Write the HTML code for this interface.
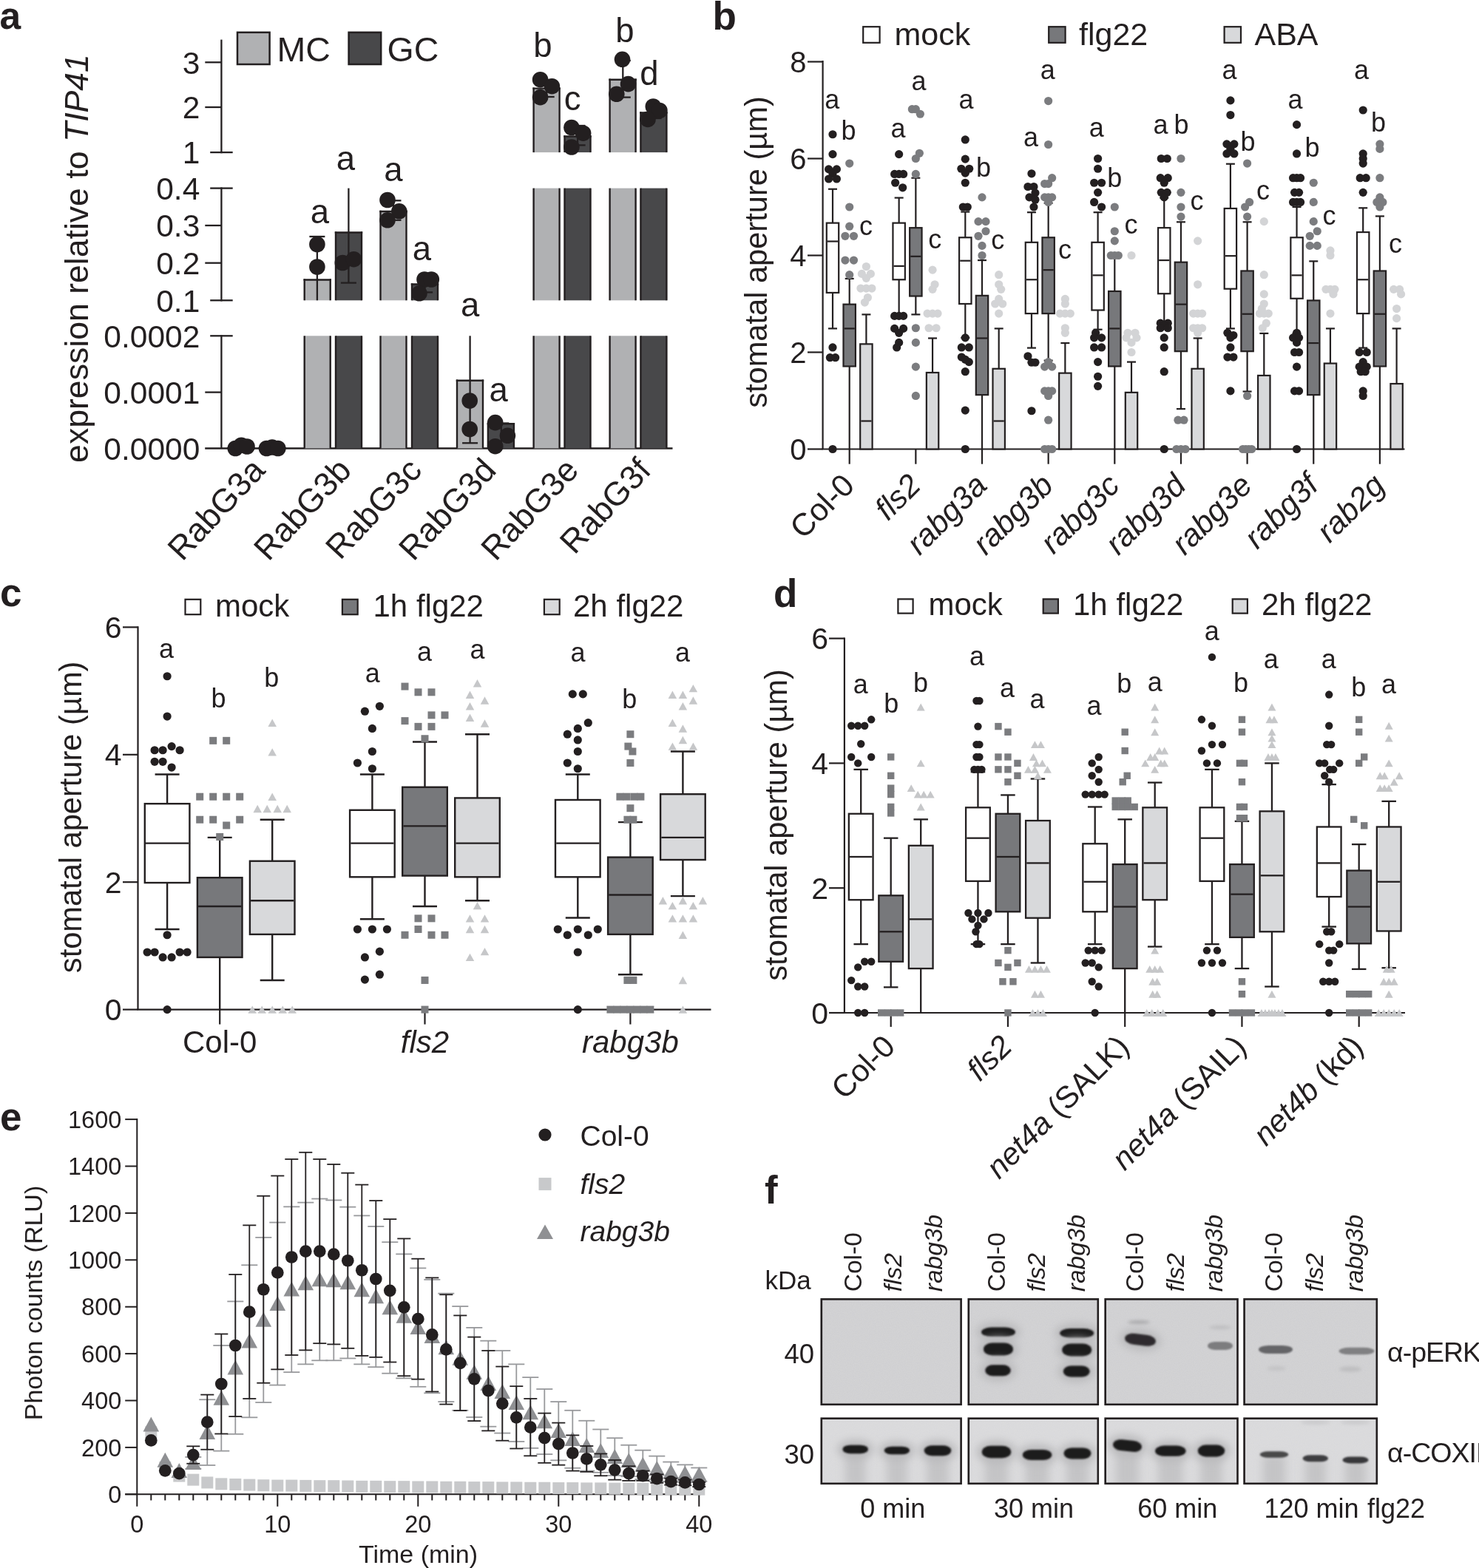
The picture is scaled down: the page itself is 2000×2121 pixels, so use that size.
<!DOCTYPE html>
<html><head><meta charset="utf-8"><title>Figure</title>
<style>
html,body{margin:0;padding:0;background:#fff;}
body{width:2000px;height:2121px;overflow:hidden;}
svg{display:block;}
svg text{font-family:"Liberation Sans", Arial, Helvetica, sans-serif;fill:#231f20;}
</style></head><body>
<svg width="2000" height="2121" viewBox="0 0 2000 2121">
<rect x="0" y="0" width="2000" height="2121" fill="#ffffff"/>
<text x="-0.5" y="39.3" font-size="51.5" font-weight="bold">a</text>
<line x1="299.4" y1="53.6" x2="299.4" y2="207.25" stroke="#231f20" stroke-width="2.3" stroke-linecap="butt"/>
<line x1="299.4" y1="253.45" x2="299.4" y2="407.45" stroke="#231f20" stroke-width="2.3" stroke-linecap="butt"/>
<line x1="299.4" y1="453.15" x2="299.4" y2="606.5" stroke="#231f20" stroke-width="2.3" stroke-linecap="butt"/>
<line x1="277.2" y1="606.5" x2="909.5" y2="606.5" stroke="#231f20" stroke-width="2.3" stroke-linecap="butt"/>
<line x1="277.3" y1="84.3" x2="299.4" y2="84.3" stroke="#231f20" stroke-width="2.3" stroke-linecap="butt"/>
<line x1="277.3" y1="145" x2="299.4" y2="145" stroke="#231f20" stroke-width="2.3" stroke-linecap="butt"/>
<line x1="277.3" y1="305" x2="299.4" y2="305" stroke="#231f20" stroke-width="2.3" stroke-linecap="butt"/>
<line x1="277.3" y1="355.7" x2="299.4" y2="355.7" stroke="#231f20" stroke-width="2.3" stroke-linecap="butt"/>
<line x1="277.3" y1="530.6" x2="299.4" y2="530.6" stroke="#231f20" stroke-width="2.3" stroke-linecap="butt"/>
<line x1="284.2" y1="206.1" x2="314.7" y2="206.1" stroke="#231f20" stroke-width="2.3" stroke-linecap="butt"/>
<line x1="284.2" y1="254.6" x2="314.7" y2="254.6" stroke="#231f20" stroke-width="2.3" stroke-linecap="butt"/>
<line x1="284.2" y1="406.3" x2="314.7" y2="406.3" stroke="#231f20" stroke-width="2.3" stroke-linecap="butt"/>
<line x1="284.2" y1="454.3" x2="314.7" y2="454.3" stroke="#231f20" stroke-width="2.3" stroke-linecap="butt"/>
<text x="270.3" y="99.5" font-size="42.5" text-anchor="end">3</text>
<text x="270.3" y="160.2" font-size="42.5" text-anchor="end">2</text>
<text x="270.3" y="221.3" font-size="42.5" text-anchor="end">1</text>
<text x="270.3" y="269.8" font-size="42.5" text-anchor="end">0.4</text>
<text x="270.3" y="320.2" font-size="42.5" text-anchor="end">0.3</text>
<text x="270.3" y="370.9" font-size="42.5" text-anchor="end">0.2</text>
<text x="270.3" y="421.5" font-size="42.5" text-anchor="end">0.1</text>
<text x="270.3" y="469.5" font-size="42.5" text-anchor="end">0.0002</text>
<text x="270.3" y="545.8" font-size="42.5" text-anchor="end">0.0001</text>
<text x="270.3" y="621.7" font-size="42.5" text-anchor="end">0.0000</text>
<text x="118.5" y="349.5" font-size="44.6" text-anchor="middle" transform="rotate(-90 118.5 349.5)">expression relative to <tspan font-style="italic">TIP41</tspan></text>
<rect x="308.4" y="606.2" width="35" height="0.3" fill="#b0b1b3" stroke="none" stroke-width="0" />
<line x1="308.4" y1="606.5" x2="308.4" y2="605" stroke="#231f20" stroke-width="2.4" stroke-linecap="butt"/>
<line x1="343.4" y1="606.5" x2="343.4" y2="605" stroke="#231f20" stroke-width="2.4" stroke-linecap="butt"/>
<line x1="307.2" y1="606.2" x2="344.6" y2="606.2" stroke="#231f20" stroke-width="2.4" stroke-linecap="butt"/>
<rect x="350.7" y="606.27" width="35" height="0.23" fill="#48484a" stroke="none" stroke-width="0" />
<line x1="350.7" y1="606.5" x2="350.7" y2="605.07" stroke="#231f20" stroke-width="2.4" stroke-linecap="butt"/>
<line x1="385.7" y1="606.5" x2="385.7" y2="605.07" stroke="#231f20" stroke-width="2.4" stroke-linecap="butt"/>
<line x1="349.5" y1="606.27" x2="386.9" y2="606.27" stroke="#231f20" stroke-width="2.4" stroke-linecap="butt"/>
<rect x="411.7" y="454.3" width="35" height="152.2" fill="#b0b1b3" stroke="none" stroke-width="0" />
<line x1="411.7" y1="606.5" x2="411.7" y2="454.3" stroke="#231f20" stroke-width="2.4" stroke-linecap="butt"/>
<line x1="446.7" y1="606.5" x2="446.7" y2="454.3" stroke="#231f20" stroke-width="2.4" stroke-linecap="butt"/>
<rect x="411.7" y="378.49" width="35" height="27.81" fill="#b0b1b3" stroke="none" stroke-width="0" />
<line x1="411.7" y1="406.3" x2="411.7" y2="377.29" stroke="#231f20" stroke-width="2.4" stroke-linecap="butt"/>
<line x1="446.7" y1="406.3" x2="446.7" y2="377.29" stroke="#231f20" stroke-width="2.4" stroke-linecap="butt"/>
<line x1="410.5" y1="378.49" x2="447.9" y2="378.49" stroke="#231f20" stroke-width="2.4" stroke-linecap="butt"/>
<rect x="454" y="454.3" width="35" height="152.2" fill="#48484a" stroke="none" stroke-width="0" />
<line x1="454" y1="606.5" x2="454" y2="454.3" stroke="#231f20" stroke-width="2.4" stroke-linecap="butt"/>
<line x1="489" y1="606.5" x2="489" y2="454.3" stroke="#231f20" stroke-width="2.4" stroke-linecap="butt"/>
<rect x="454" y="314.52" width="35" height="91.78" fill="#48484a" stroke="none" stroke-width="0" />
<line x1="454" y1="406.3" x2="454" y2="313.32" stroke="#231f20" stroke-width="2.4" stroke-linecap="butt"/>
<line x1="489" y1="406.3" x2="489" y2="313.32" stroke="#231f20" stroke-width="2.4" stroke-linecap="butt"/>
<line x1="452.8" y1="314.52" x2="490.2" y2="314.52" stroke="#231f20" stroke-width="2.4" stroke-linecap="butt"/>
<rect x="514.5" y="454.3" width="35" height="152.2" fill="#b0b1b3" stroke="none" stroke-width="0" />
<line x1="514.5" y1="606.5" x2="514.5" y2="454.3" stroke="#231f20" stroke-width="2.4" stroke-linecap="butt"/>
<line x1="549.5" y1="606.5" x2="549.5" y2="454.3" stroke="#231f20" stroke-width="2.4" stroke-linecap="butt"/>
<rect x="514.5" y="285.95" width="35" height="120.35" fill="#b0b1b3" stroke="none" stroke-width="0" />
<line x1="514.5" y1="406.3" x2="514.5" y2="284.75" stroke="#231f20" stroke-width="2.4" stroke-linecap="butt"/>
<line x1="549.5" y1="406.3" x2="549.5" y2="284.75" stroke="#231f20" stroke-width="2.4" stroke-linecap="butt"/>
<line x1="513.3" y1="285.95" x2="550.7" y2="285.95" stroke="#231f20" stroke-width="2.4" stroke-linecap="butt"/>
<rect x="557" y="454.3" width="35" height="152.2" fill="#48484a" stroke="none" stroke-width="0" />
<line x1="557" y1="606.5" x2="557" y2="454.3" stroke="#231f20" stroke-width="2.4" stroke-linecap="butt"/>
<line x1="592" y1="606.5" x2="592" y2="454.3" stroke="#231f20" stroke-width="2.4" stroke-linecap="butt"/>
<rect x="557" y="384.56" width="35" height="21.74" fill="#48484a" stroke="none" stroke-width="0" />
<line x1="557" y1="406.3" x2="557" y2="383.36" stroke="#231f20" stroke-width="2.4" stroke-linecap="butt"/>
<line x1="592" y1="406.3" x2="592" y2="383.36" stroke="#231f20" stroke-width="2.4" stroke-linecap="butt"/>
<line x1="555.8" y1="384.56" x2="593.2" y2="384.56" stroke="#231f20" stroke-width="2.4" stroke-linecap="butt"/>
<rect x="618" y="514.72" width="35" height="91.78" fill="#b0b1b3" stroke="none" stroke-width="0" />
<line x1="618" y1="606.5" x2="618" y2="513.52" stroke="#231f20" stroke-width="2.4" stroke-linecap="butt"/>
<line x1="653" y1="606.5" x2="653" y2="513.52" stroke="#231f20" stroke-width="2.4" stroke-linecap="butt"/>
<line x1="616.8" y1="514.72" x2="654.2" y2="514.72" stroke="#231f20" stroke-width="2.4" stroke-linecap="butt"/>
<rect x="659.9" y="573.32" width="35" height="33.18" fill="#48484a" stroke="none" stroke-width="0" />
<line x1="659.9" y1="606.5" x2="659.9" y2="572.12" stroke="#231f20" stroke-width="2.4" stroke-linecap="butt"/>
<line x1="694.9" y1="606.5" x2="694.9" y2="572.12" stroke="#231f20" stroke-width="2.4" stroke-linecap="butt"/>
<line x1="658.7" y1="573.32" x2="696.1" y2="573.32" stroke="#231f20" stroke-width="2.4" stroke-linecap="butt"/>
<rect x="721.6" y="454.3" width="35" height="152.2" fill="#b0b1b3" stroke="none" stroke-width="0" />
<line x1="721.6" y1="606.5" x2="721.6" y2="454.3" stroke="#231f20" stroke-width="2.4" stroke-linecap="butt"/>
<line x1="756.6" y1="606.5" x2="756.6" y2="454.3" stroke="#231f20" stroke-width="2.4" stroke-linecap="butt"/>
<rect x="721.6" y="254.6" width="35" height="151.7" fill="#b0b1b3" stroke="none" stroke-width="0" />
<line x1="721.6" y1="406.3" x2="721.6" y2="254.6" stroke="#231f20" stroke-width="2.4" stroke-linecap="butt"/>
<line x1="756.6" y1="406.3" x2="756.6" y2="254.6" stroke="#231f20" stroke-width="2.4" stroke-linecap="butt"/>
<rect x="721.6" y="119.6" width="35" height="86.5" fill="#b0b1b3" stroke="none" stroke-width="0" />
<line x1="721.6" y1="206.1" x2="721.6" y2="118.4" stroke="#231f20" stroke-width="2.4" stroke-linecap="butt"/>
<line x1="756.6" y1="206.1" x2="756.6" y2="118.4" stroke="#231f20" stroke-width="2.4" stroke-linecap="butt"/>
<line x1="720.4" y1="119.6" x2="757.8" y2="119.6" stroke="#231f20" stroke-width="2.4" stroke-linecap="butt"/>
<rect x="763.5" y="454.3" width="35" height="152.2" fill="#48484a" stroke="none" stroke-width="0" />
<line x1="763.5" y1="606.5" x2="763.5" y2="454.3" stroke="#231f20" stroke-width="2.4" stroke-linecap="butt"/>
<line x1="798.5" y1="606.5" x2="798.5" y2="454.3" stroke="#231f20" stroke-width="2.4" stroke-linecap="butt"/>
<rect x="763.5" y="254.6" width="35" height="151.7" fill="#48484a" stroke="none" stroke-width="0" />
<line x1="763.5" y1="406.3" x2="763.5" y2="254.6" stroke="#231f20" stroke-width="2.4" stroke-linecap="butt"/>
<line x1="798.5" y1="406.3" x2="798.5" y2="254.6" stroke="#231f20" stroke-width="2.4" stroke-linecap="butt"/>
<rect x="763.5" y="184.51" width="35" height="21.59" fill="#48484a" stroke="none" stroke-width="0" />
<line x1="763.5" y1="206.1" x2="763.5" y2="183.31" stroke="#231f20" stroke-width="2.4" stroke-linecap="butt"/>
<line x1="798.5" y1="206.1" x2="798.5" y2="183.31" stroke="#231f20" stroke-width="2.4" stroke-linecap="butt"/>
<line x1="762.3" y1="184.51" x2="799.7" y2="184.51" stroke="#231f20" stroke-width="2.4" stroke-linecap="butt"/>
<rect x="824.6" y="454.3" width="35" height="152.2" fill="#b0b1b3" stroke="none" stroke-width="0" />
<line x1="824.6" y1="606.5" x2="824.6" y2="454.3" stroke="#231f20" stroke-width="2.4" stroke-linecap="butt"/>
<line x1="859.6" y1="606.5" x2="859.6" y2="454.3" stroke="#231f20" stroke-width="2.4" stroke-linecap="butt"/>
<rect x="824.6" y="254.6" width="35" height="151.7" fill="#b0b1b3" stroke="none" stroke-width="0" />
<line x1="824.6" y1="406.3" x2="824.6" y2="254.6" stroke="#231f20" stroke-width="2.4" stroke-linecap="butt"/>
<line x1="859.6" y1="406.3" x2="859.6" y2="254.6" stroke="#231f20" stroke-width="2.4" stroke-linecap="butt"/>
<rect x="824.6" y="107.71" width="35" height="98.39" fill="#b0b1b3" stroke="none" stroke-width="0" />
<line x1="824.6" y1="206.1" x2="824.6" y2="106.51" stroke="#231f20" stroke-width="2.4" stroke-linecap="butt"/>
<line x1="859.6" y1="206.1" x2="859.6" y2="106.51" stroke="#231f20" stroke-width="2.4" stroke-linecap="butt"/>
<line x1="823.4" y1="107.71" x2="860.8" y2="107.71" stroke="#231f20" stroke-width="2.4" stroke-linecap="butt"/>
<rect x="866.4" y="454.3" width="35" height="152.2" fill="#48484a" stroke="none" stroke-width="0" />
<line x1="866.4" y1="606.5" x2="866.4" y2="454.3" stroke="#231f20" stroke-width="2.4" stroke-linecap="butt"/>
<line x1="901.4" y1="606.5" x2="901.4" y2="454.3" stroke="#231f20" stroke-width="2.4" stroke-linecap="butt"/>
<rect x="866.4" y="254.6" width="35" height="151.7" fill="#48484a" stroke="none" stroke-width="0" />
<line x1="866.4" y1="406.3" x2="866.4" y2="254.6" stroke="#231f20" stroke-width="2.4" stroke-linecap="butt"/>
<line x1="901.4" y1="406.3" x2="901.4" y2="254.6" stroke="#231f20" stroke-width="2.4" stroke-linecap="butt"/>
<rect x="866.4" y="152.48" width="35" height="53.62" fill="#48484a" stroke="none" stroke-width="0" />
<line x1="866.4" y1="206.1" x2="866.4" y2="151.28" stroke="#231f20" stroke-width="2.4" stroke-linecap="butt"/>
<line x1="901.4" y1="206.1" x2="901.4" y2="151.28" stroke="#231f20" stroke-width="2.4" stroke-linecap="butt"/>
<line x1="865.2" y1="152.48" x2="902.6" y2="152.48" stroke="#231f20" stroke-width="2.4" stroke-linecap="butt"/>
<line x1="428.9" y1="320" x2="428.9" y2="406.3" stroke="#231f20" stroke-width="2.3" stroke-linecap="butt"/>
<line x1="418.4" y1="320" x2="439.4" y2="320" stroke="#231f20" stroke-width="2.3" stroke-linecap="butt"/>
<line x1="471.4" y1="254.6" x2="471.4" y2="382.6" stroke="#231f20" stroke-width="2.3" stroke-linecap="butt"/>
<line x1="460.9" y1="382.6" x2="481.9" y2="382.6" stroke="#231f20" stroke-width="2.3" stroke-linecap="butt"/>
<line x1="532" y1="271.3" x2="532" y2="297.8" stroke="#231f20" stroke-width="2.3" stroke-linecap="butt"/>
<line x1="521.5" y1="271.3" x2="542.5" y2="271.3" stroke="#231f20" stroke-width="2.3" stroke-linecap="butt"/>
<line x1="521.5" y1="297.8" x2="542.5" y2="297.8" stroke="#231f20" stroke-width="2.3" stroke-linecap="butt"/>
<line x1="574.6" y1="378" x2="574.6" y2="395.4" stroke="#231f20" stroke-width="2.3" stroke-linecap="butt"/>
<line x1="564.1" y1="378" x2="585.1" y2="378" stroke="#231f20" stroke-width="2.3" stroke-linecap="butt"/>
<line x1="564.1" y1="395.4" x2="585.1" y2="395.4" stroke="#231f20" stroke-width="2.3" stroke-linecap="butt"/>
<line x1="635.6" y1="454.3" x2="635.6" y2="599.3" stroke="#231f20" stroke-width="2.3" stroke-linecap="butt"/>
<line x1="625.1" y1="599.3" x2="646.1" y2="599.3" stroke="#231f20" stroke-width="2.3" stroke-linecap="butt"/>
<line x1="677.8" y1="572.5" x2="677.8" y2="606.5" stroke="#231f20" stroke-width="2.3" stroke-linecap="butt"/>
<line x1="667.3" y1="572.5" x2="688.3" y2="572.5" stroke="#231f20" stroke-width="2.3" stroke-linecap="butt"/>
<line x1="739.2" y1="108" x2="739.2" y2="131" stroke="#231f20" stroke-width="2.3" stroke-linecap="butt"/>
<line x1="728.7" y1="108" x2="749.7" y2="108" stroke="#231f20" stroke-width="2.3" stroke-linecap="butt"/>
<line x1="728.7" y1="131" x2="749.7" y2="131" stroke="#231f20" stroke-width="2.3" stroke-linecap="butt"/>
<line x1="781.1" y1="170" x2="781.1" y2="196.4" stroke="#231f20" stroke-width="2.3" stroke-linecap="butt"/>
<line x1="770.6" y1="170" x2="791.6" y2="170" stroke="#231f20" stroke-width="2.3" stroke-linecap="butt"/>
<line x1="770.6" y1="196.4" x2="791.6" y2="196.4" stroke="#231f20" stroke-width="2.3" stroke-linecap="butt"/>
<line x1="842.3" y1="82" x2="842.3" y2="131.6" stroke="#231f20" stroke-width="2.3" stroke-linecap="butt"/>
<line x1="831.8" y1="82" x2="852.8" y2="82" stroke="#231f20" stroke-width="2.3" stroke-linecap="butt"/>
<line x1="831.8" y1="131.6" x2="852.8" y2="131.6" stroke="#231f20" stroke-width="2.3" stroke-linecap="butt"/>
<line x1="884" y1="145" x2="884" y2="160" stroke="#231f20" stroke-width="2.3" stroke-linecap="butt"/>
<line x1="873.5" y1="145" x2="894.5" y2="145" stroke="#231f20" stroke-width="2.3" stroke-linecap="butt"/>
<line x1="873.5" y1="160" x2="894.5" y2="160" stroke="#231f20" stroke-width="2.3" stroke-linecap="butt"/>
<circle cx="318.3" cy="606.5" r="10.8" fill="#231f20" />
<circle cx="326.3" cy="602.2" r="10.8" fill="#231f20" />
<circle cx="334" cy="604" r="10.8" fill="#231f20" />
<circle cx="360.5" cy="606.5" r="10.8" fill="#231f20" />
<circle cx="368" cy="605" r="10.8" fill="#231f20" />
<circle cx="375.8" cy="606.5" r="10.8" fill="#231f20" />
<circle cx="428.9" cy="330.5" r="10.8" fill="#231f20" />
<circle cx="428.9" cy="361" r="10.8" fill="#231f20" />
<circle cx="463.3" cy="355.5" r="10.8" fill="#231f20" />
<circle cx="478.4" cy="350.7" r="10.8" fill="#231f20" />
<circle cx="524" cy="270.5" r="10.8" fill="#231f20" />
<circle cx="539.8" cy="285.8" r="10.8" fill="#231f20" />
<circle cx="524" cy="297.8" r="10.8" fill="#231f20" />
<circle cx="574" cy="378" r="10.8" fill="#231f20" />
<circle cx="583.3" cy="378" r="10.8" fill="#231f20" />
<circle cx="567" cy="396.8" r="10.8" fill="#231f20" />
<circle cx="635.2" cy="542" r="10.8" fill="#231f20" />
<circle cx="635.2" cy="580.5" r="10.8" fill="#231f20" />
<circle cx="669.7" cy="571.6" r="10.8" fill="#231f20" />
<circle cx="686.4" cy="589.3" r="10.8" fill="#231f20" />
<circle cx="669.7" cy="603.7" r="10.8" fill="#231f20" />
<circle cx="730.6" cy="107.7" r="10.8" fill="#231f20" />
<circle cx="746.4" cy="116.7" r="10.8" fill="#231f20" />
<circle cx="730.6" cy="131.6" r="10.8" fill="#231f20" />
<circle cx="772.9" cy="172.5" r="10.8" fill="#231f20" />
<circle cx="788.6" cy="180.2" r="10.8" fill="#231f20" />
<circle cx="772.9" cy="199" r="10.8" fill="#231f20" />
<circle cx="841.5" cy="80.3" r="10.8" fill="#231f20" />
<circle cx="849.5" cy="113.6" r="10.8" fill="#231f20" />
<circle cx="833.8" cy="127.3" r="10.8" fill="#231f20" />
<circle cx="883.3" cy="144" r="10.8" fill="#231f20" />
<circle cx="891.9" cy="149.5" r="10.8" fill="#231f20" />
<circle cx="876" cy="161.4" r="10.8" fill="#231f20" />
<text x="432.3" y="302" font-size="45.5" text-anchor="middle">a</text>
<text x="467.3" y="229.5" font-size="45.5" text-anchor="middle">a</text>
<text x="532" y="244.5" font-size="45.5" text-anchor="middle">a</text>
<text x="570.5" y="351.5" font-size="45.5" text-anchor="middle">a</text>
<text x="635.6" y="428.2" font-size="45.5" text-anchor="middle">a</text>
<text x="674.2" y="543.4" font-size="45.5" text-anchor="middle">a</text>
<text x="734" y="77" font-size="45.5" text-anchor="middle">b</text>
<text x="774" y="148.6" font-size="45.5" text-anchor="middle">c</text>
<text x="845" y="57.3" font-size="45.5" text-anchor="middle">b</text>
<text x="878" y="114.8" font-size="45.5" text-anchor="middle">d</text>
<rect x="321" y="43.8" width="43.6" height="43.2" fill="#b0b1b3" stroke="#231f20" stroke-width="2.5" />
<rect x="471.6" y="43.8" width="43.6" height="43.2" fill="#48484a" stroke="#231f20" stroke-width="2.5" />
<text x="374.5" y="82.6" font-size="46.5">MC</text>
<text x="523.5" y="82.6" font-size="46.5">GC</text>
<text x="360.7" y="638" font-size="45" text-anchor="end" transform="rotate(-47 360.7 638)">RabG3a</text>
<text x="477.3" y="638" font-size="45" text-anchor="end" transform="rotate(-47 477.3 638)">RabG3b</text>
<text x="572.6" y="638" font-size="45" text-anchor="end" transform="rotate(-47 572.6 638)">RabG3c</text>
<text x="673.2" y="638" font-size="45" text-anchor="end" transform="rotate(-47 673.2 638)">RabG3d</text>
<text x="784.5" y="638" font-size="45" text-anchor="end" transform="rotate(-47 784.5 638)">RabG3e</text>
<text x="882.5" y="638" font-size="45" text-anchor="end" transform="rotate(-47 882.5 638)">RabG3f</text>
<text x="963.5" y="39.5" font-size="53" font-weight="bold">b</text>
<line x1="1112.6" y1="82.1" x2="1112.6" y2="607.5" stroke="#231f20" stroke-width="2.2" stroke-linecap="butt"/>
<line x1="1111.5" y1="607.5" x2="1899.5" y2="607.5" stroke="#231f20" stroke-width="2.2" stroke-linecap="butt"/>
<line x1="1092" y1="607.5" x2="1112.6" y2="607.5" stroke="#231f20" stroke-width="2.2" stroke-linecap="butt"/>
<text x="1090.5" y="621.9" font-size="40" text-anchor="end">0</text>
<line x1="1092" y1="476.5" x2="1112.6" y2="476.5" stroke="#231f20" stroke-width="2.2" stroke-linecap="butt"/>
<text x="1090.5" y="490.9" font-size="40" text-anchor="end">2</text>
<line x1="1092" y1="345.5" x2="1112.6" y2="345.5" stroke="#231f20" stroke-width="2.2" stroke-linecap="butt"/>
<text x="1090.5" y="359.9" font-size="40" text-anchor="end">4</text>
<line x1="1092" y1="214.5" x2="1112.6" y2="214.5" stroke="#231f20" stroke-width="2.2" stroke-linecap="butt"/>
<text x="1090.5" y="228.9" font-size="40" text-anchor="end">6</text>
<line x1="1092" y1="83.5" x2="1112.6" y2="83.5" stroke="#231f20" stroke-width="2.2" stroke-linecap="butt"/>
<text x="1090.5" y="97.9" font-size="40" text-anchor="end">8</text>
<line x1="1148.7" y1="607.5" x2="1148.7" y2="627.7" stroke="#231f20" stroke-width="2.2" stroke-linecap="butt"/>
<line x1="1238.35" y1="607.5" x2="1238.35" y2="627.7" stroke="#231f20" stroke-width="2.2" stroke-linecap="butt"/>
<line x1="1328" y1="607.5" x2="1328" y2="627.7" stroke="#231f20" stroke-width="2.2" stroke-linecap="butt"/>
<line x1="1417.65" y1="607.5" x2="1417.65" y2="627.7" stroke="#231f20" stroke-width="2.2" stroke-linecap="butt"/>
<line x1="1507.3" y1="607.5" x2="1507.3" y2="627.7" stroke="#231f20" stroke-width="2.2" stroke-linecap="butt"/>
<line x1="1596.95" y1="607.5" x2="1596.95" y2="627.7" stroke="#231f20" stroke-width="2.2" stroke-linecap="butt"/>
<line x1="1686.6" y1="607.5" x2="1686.6" y2="627.7" stroke="#231f20" stroke-width="2.2" stroke-linecap="butt"/>
<line x1="1776.25" y1="607.5" x2="1776.25" y2="627.7" stroke="#231f20" stroke-width="2.2" stroke-linecap="butt"/>
<line x1="1865.9" y1="607.5" x2="1865.9" y2="627.7" stroke="#231f20" stroke-width="2.2" stroke-linecap="butt"/>
<text x="1037" y="341" font-size="41.6" text-anchor="middle" transform="rotate(-90 1037 341)">stomatal aperture (µm)</text>
<rect x="1167.2" y="36.2" width="22.4" height="21.6" fill="#ffffff" stroke="#231f20" stroke-width="2.2" />
<rect x="1418.2" y="36.2" width="22.4" height="21.6" fill="#77787b" stroke="#231f20" stroke-width="2.2" />
<rect x="1655.6" y="36.2" width="22.4" height="21.6" fill="#d8d9db" stroke="#231f20" stroke-width="2.2" />
<text x="1209.5" y="60.5" font-size="43">mock</text>
<text x="1459" y="60.5" font-size="43">flg22</text>
<text x="1696.5" y="60.5" font-size="43">ABA</text>
<line x1="1126" y1="301.62" x2="1126" y2="255.76" stroke="#231f20" stroke-width="2.2" stroke-linecap="butt"/>
<line x1="1120" y1="255.76" x2="1132" y2="255.76" stroke="#231f20" stroke-width="2.2" stroke-linecap="butt"/>
<line x1="1126" y1="395.94" x2="1126" y2="444.4" stroke="#231f20" stroke-width="2.2" stroke-linecap="butt"/>
<line x1="1120" y1="444.4" x2="1132" y2="444.4" stroke="#231f20" stroke-width="2.2" stroke-linecap="butt"/>
<rect x="1117.8" y="301.62" width="16.4" height="94.32" fill="#ffffff" stroke="#231f20" stroke-width="2.2" />
<line x1="1118.9" y1="326.5" x2="1133.1" y2="326.5" stroke="#231f20" stroke-width="2.2" stroke-linecap="butt"/>
<line x1="1148.7" y1="411.65" x2="1148.7" y2="376.94" stroke="#231f20" stroke-width="2.2" stroke-linecap="butt"/>
<line x1="1142.7" y1="376.94" x2="1154.7" y2="376.94" stroke="#231f20" stroke-width="2.2" stroke-linecap="butt"/>
<line x1="1148.7" y1="495.5" x2="1148.7" y2="607.5" stroke="#231f20" stroke-width="2.2" stroke-linecap="butt"/>
<rect x="1140.5" y="411.65" width="16.4" height="83.84" fill="#77787b" stroke="#231f20" stroke-width="2.2" />
<line x1="1141.6" y1="444.4" x2="1155.8" y2="444.4" stroke="#231f20" stroke-width="2.2" stroke-linecap="butt"/>
<line x1="1171.4" y1="465.37" x2="1171.4" y2="425.41" stroke="#231f20" stroke-width="2.2" stroke-linecap="butt"/>
<line x1="1165.4" y1="425.41" x2="1177.4" y2="425.41" stroke="#231f20" stroke-width="2.2" stroke-linecap="butt"/>
<rect x="1163.2" y="465.37" width="16.4" height="142.13" fill="#d8d9db" stroke="#231f20" stroke-width="2.2" />
<line x1="1164.3" y1="569.51" x2="1178.5" y2="569.51" stroke="#231f20" stroke-width="2.2" stroke-linecap="butt"/>
<line x1="1215.65" y1="301.62" x2="1215.65" y2="267.55" stroke="#231f20" stroke-width="2.2" stroke-linecap="butt"/>
<line x1="1209.65" y1="267.55" x2="1221.65" y2="267.55" stroke="#231f20" stroke-width="2.2" stroke-linecap="butt"/>
<line x1="1215.65" y1="378.25" x2="1215.65" y2="425.41" stroke="#231f20" stroke-width="2.2" stroke-linecap="butt"/>
<line x1="1209.65" y1="425.41" x2="1221.65" y2="425.41" stroke="#231f20" stroke-width="2.2" stroke-linecap="butt"/>
<rect x="1207.45" y="301.62" width="16.4" height="76.63" fill="#ffffff" stroke="#231f20" stroke-width="2.2" />
<line x1="1208.55" y1="359.91" x2="1222.75" y2="359.91" stroke="#231f20" stroke-width="2.2" stroke-linecap="butt"/>
<line x1="1238.35" y1="308.16" x2="1238.35" y2="240.7" stroke="#231f20" stroke-width="2.2" stroke-linecap="butt"/>
<line x1="1232.35" y1="240.7" x2="1244.35" y2="240.7" stroke="#231f20" stroke-width="2.2" stroke-linecap="butt"/>
<line x1="1238.35" y1="400.52" x2="1238.35" y2="425.41" stroke="#231f20" stroke-width="2.2" stroke-linecap="butt"/>
<line x1="1232.35" y1="425.41" x2="1244.35" y2="425.41" stroke="#231f20" stroke-width="2.2" stroke-linecap="butt"/>
<rect x="1230.15" y="308.16" width="16.4" height="92.36" fill="#77787b" stroke="#231f20" stroke-width="2.2" />
<line x1="1231.25" y1="346.81" x2="1245.45" y2="346.81" stroke="#231f20" stroke-width="2.2" stroke-linecap="butt"/>
<line x1="1261.05" y1="504.01" x2="1261.05" y2="457.5" stroke="#231f20" stroke-width="2.2" stroke-linecap="butt"/>
<line x1="1255.05" y1="457.5" x2="1267.05" y2="457.5" stroke="#231f20" stroke-width="2.2" stroke-linecap="butt"/>
<rect x="1252.85" y="504.01" width="16.4" height="103.49" fill="#d8d9db" stroke="#231f20" stroke-width="2.2" />
<line x1="1305.3" y1="321.26" x2="1305.3" y2="286.55" stroke="#231f20" stroke-width="2.2" stroke-linecap="butt"/>
<line x1="1299.3" y1="286.55" x2="1311.3" y2="286.55" stroke="#231f20" stroke-width="2.2" stroke-linecap="butt"/>
<line x1="1305.3" y1="411" x2="1305.3" y2="456.85" stroke="#231f20" stroke-width="2.2" stroke-linecap="butt"/>
<line x1="1299.3" y1="456.85" x2="1311.3" y2="456.85" stroke="#231f20" stroke-width="2.2" stroke-linecap="butt"/>
<rect x="1297.1" y="321.26" width="16.4" height="89.74" fill="#ffffff" stroke="#231f20" stroke-width="2.2" />
<line x1="1298.2" y1="352.7" x2="1312.4" y2="352.7" stroke="#231f20" stroke-width="2.2" stroke-linecap="butt"/>
<line x1="1328" y1="399.87" x2="1328" y2="352.05" stroke="#231f20" stroke-width="2.2" stroke-linecap="butt"/>
<line x1="1322" y1="352.05" x2="1334" y2="352.05" stroke="#231f20" stroke-width="2.2" stroke-linecap="butt"/>
<line x1="1328" y1="534.14" x2="1328" y2="607.5" stroke="#231f20" stroke-width="2.2" stroke-linecap="butt"/>
<rect x="1319.8" y="399.87" width="16.4" height="134.27" fill="#77787b" stroke="#231f20" stroke-width="2.2" />
<line x1="1320.9" y1="457.5" x2="1335.1" y2="457.5" stroke="#231f20" stroke-width="2.2" stroke-linecap="butt"/>
<line x1="1350.7" y1="498.77" x2="1350.7" y2="444.4" stroke="#231f20" stroke-width="2.2" stroke-linecap="butt"/>
<line x1="1344.7" y1="444.4" x2="1356.7" y2="444.4" stroke="#231f20" stroke-width="2.2" stroke-linecap="butt"/>
<rect x="1342.5" y="498.77" width="16.4" height="108.73" fill="#d8d9db" stroke="#231f20" stroke-width="2.2" />
<line x1="1343.6" y1="569.51" x2="1357.8" y2="569.51" stroke="#231f20" stroke-width="2.2" stroke-linecap="butt"/>
<line x1="1394.95" y1="327.82" x2="1394.95" y2="287.21" stroke="#231f20" stroke-width="2.2" stroke-linecap="butt"/>
<line x1="1388.95" y1="287.21" x2="1400.95" y2="287.21" stroke="#231f20" stroke-width="2.2" stroke-linecap="butt"/>
<line x1="1394.95" y1="424.1" x2="1394.95" y2="470.61" stroke="#231f20" stroke-width="2.2" stroke-linecap="butt"/>
<line x1="1388.95" y1="470.61" x2="1400.95" y2="470.61" stroke="#231f20" stroke-width="2.2" stroke-linecap="butt"/>
<rect x="1386.75" y="327.82" width="16.4" height="96.28" fill="#ffffff" stroke="#231f20" stroke-width="2.2" />
<line x1="1387.85" y1="378.25" x2="1402.05" y2="378.25" stroke="#231f20" stroke-width="2.2" stroke-linecap="butt"/>
<line x1="1417.65" y1="321.26" x2="1417.65" y2="274.76" stroke="#231f20" stroke-width="2.2" stroke-linecap="butt"/>
<line x1="1411.65" y1="274.76" x2="1423.65" y2="274.76" stroke="#231f20" stroke-width="2.2" stroke-linecap="butt"/>
<line x1="1417.65" y1="424.1" x2="1417.65" y2="487.63" stroke="#231f20" stroke-width="2.2" stroke-linecap="butt"/>
<line x1="1411.65" y1="487.63" x2="1423.65" y2="487.63" stroke="#231f20" stroke-width="2.2" stroke-linecap="butt"/>
<rect x="1409.45" y="321.26" width="16.4" height="102.84" fill="#77787b" stroke="#231f20" stroke-width="2.2" />
<line x1="1410.55" y1="365.15" x2="1424.75" y2="365.15" stroke="#231f20" stroke-width="2.2" stroke-linecap="butt"/>
<line x1="1440.35" y1="504.66" x2="1440.35" y2="464.06" stroke="#231f20" stroke-width="2.2" stroke-linecap="butt"/>
<line x1="1434.35" y1="464.06" x2="1446.35" y2="464.06" stroke="#231f20" stroke-width="2.2" stroke-linecap="butt"/>
<rect x="1432.15" y="504.66" width="16.4" height="102.84" fill="#d8d9db" stroke="#231f20" stroke-width="2.2" />
<line x1="1484.6" y1="327.82" x2="1484.6" y2="287.21" stroke="#231f20" stroke-width="2.2" stroke-linecap="butt"/>
<line x1="1478.6" y1="287.21" x2="1490.6" y2="287.21" stroke="#231f20" stroke-width="2.2" stroke-linecap="butt"/>
<line x1="1484.6" y1="419.51" x2="1484.6" y2="445.71" stroke="#231f20" stroke-width="2.2" stroke-linecap="butt"/>
<line x1="1478.6" y1="445.71" x2="1490.6" y2="445.71" stroke="#231f20" stroke-width="2.2" stroke-linecap="butt"/>
<rect x="1476.4" y="327.82" width="16.4" height="91.7" fill="#ffffff" stroke="#231f20" stroke-width="2.2" />
<line x1="1477.5" y1="372.36" x2="1491.7" y2="372.36" stroke="#231f20" stroke-width="2.2" stroke-linecap="butt"/>
<line x1="1507.3" y1="393.97" x2="1507.3" y2="346.15" stroke="#231f20" stroke-width="2.2" stroke-linecap="butt"/>
<line x1="1501.3" y1="346.15" x2="1513.3" y2="346.15" stroke="#231f20" stroke-width="2.2" stroke-linecap="butt"/>
<line x1="1507.3" y1="495.5" x2="1507.3" y2="607.5" stroke="#231f20" stroke-width="2.2" stroke-linecap="butt"/>
<rect x="1499.1" y="393.97" width="16.4" height="101.52" fill="#77787b" stroke="#231f20" stroke-width="2.2" />
<line x1="1500.2" y1="444.4" x2="1514.4" y2="444.4" stroke="#231f20" stroke-width="2.2" stroke-linecap="butt"/>
<line x1="1530" y1="530.87" x2="1530" y2="489.6" stroke="#231f20" stroke-width="2.2" stroke-linecap="butt"/>
<line x1="1524" y1="489.6" x2="1536" y2="489.6" stroke="#231f20" stroke-width="2.2" stroke-linecap="butt"/>
<rect x="1521.8" y="530.87" width="16.4" height="76.63" fill="#d8d9db" stroke="#231f20" stroke-width="2.2" />
<line x1="1574.25" y1="308.16" x2="1574.25" y2="267.55" stroke="#231f20" stroke-width="2.2" stroke-linecap="butt"/>
<line x1="1568.25" y1="267.55" x2="1580.25" y2="267.55" stroke="#231f20" stroke-width="2.2" stroke-linecap="butt"/>
<line x1="1574.25" y1="397.25" x2="1574.25" y2="437.2" stroke="#231f20" stroke-width="2.2" stroke-linecap="butt"/>
<line x1="1568.25" y1="437.2" x2="1580.25" y2="437.2" stroke="#231f20" stroke-width="2.2" stroke-linecap="butt"/>
<rect x="1566.05" y="308.16" width="16.4" height="89.08" fill="#ffffff" stroke="#231f20" stroke-width="2.2" />
<line x1="1567.15" y1="352.05" x2="1581.35" y2="352.05" stroke="#231f20" stroke-width="2.2" stroke-linecap="butt"/>
<line x1="1596.95" y1="354.67" x2="1596.95" y2="300.3" stroke="#231f20" stroke-width="2.2" stroke-linecap="butt"/>
<line x1="1590.95" y1="300.3" x2="1602.95" y2="300.3" stroke="#231f20" stroke-width="2.2" stroke-linecap="butt"/>
<line x1="1596.95" y1="475.19" x2="1596.95" y2="553.13" stroke="#231f20" stroke-width="2.2" stroke-linecap="butt"/>
<line x1="1590.95" y1="553.13" x2="1602.95" y2="553.13" stroke="#231f20" stroke-width="2.2" stroke-linecap="butt"/>
<rect x="1588.75" y="354.67" width="16.4" height="120.52" fill="#77787b" stroke="#231f20" stroke-width="2.2" />
<line x1="1589.85" y1="411.65" x2="1604.05" y2="411.65" stroke="#231f20" stroke-width="2.2" stroke-linecap="butt"/>
<line x1="1619.65" y1="498.77" x2="1619.65" y2="457.5" stroke="#231f20" stroke-width="2.2" stroke-linecap="butt"/>
<line x1="1613.65" y1="457.5" x2="1625.65" y2="457.5" stroke="#231f20" stroke-width="2.2" stroke-linecap="butt"/>
<rect x="1611.45" y="498.77" width="16.4" height="108.73" fill="#d8d9db" stroke="#231f20" stroke-width="2.2" />
<line x1="1663.9" y1="281.97" x2="1663.9" y2="221.71" stroke="#231f20" stroke-width="2.2" stroke-linecap="butt"/>
<line x1="1657.9" y1="221.71" x2="1669.9" y2="221.71" stroke="#231f20" stroke-width="2.2" stroke-linecap="butt"/>
<line x1="1663.9" y1="390.69" x2="1663.9" y2="444.4" stroke="#231f20" stroke-width="2.2" stroke-linecap="butt"/>
<line x1="1657.9" y1="444.4" x2="1669.9" y2="444.4" stroke="#231f20" stroke-width="2.2" stroke-linecap="butt"/>
<rect x="1655.7" y="281.97" width="16.4" height="108.73" fill="#ffffff" stroke="#231f20" stroke-width="2.2" />
<line x1="1656.8" y1="346.15" x2="1671" y2="346.15" stroke="#231f20" stroke-width="2.2" stroke-linecap="butt"/>
<line x1="1686.6" y1="366.46" x2="1686.6" y2="300.3" stroke="#231f20" stroke-width="2.2" stroke-linecap="butt"/>
<line x1="1680.6" y1="300.3" x2="1692.6" y2="300.3" stroke="#231f20" stroke-width="2.2" stroke-linecap="butt"/>
<line x1="1686.6" y1="475.19" x2="1686.6" y2="529.56" stroke="#231f20" stroke-width="2.2" stroke-linecap="butt"/>
<line x1="1680.6" y1="529.56" x2="1692.6" y2="529.56" stroke="#231f20" stroke-width="2.2" stroke-linecap="butt"/>
<rect x="1678.4" y="366.46" width="16.4" height="108.73" fill="#77787b" stroke="#231f20" stroke-width="2.2" />
<line x1="1679.5" y1="424.75" x2="1693.7" y2="424.75" stroke="#231f20" stroke-width="2.2" stroke-linecap="butt"/>
<line x1="1709.3" y1="507.94" x2="1709.3" y2="450.95" stroke="#231f20" stroke-width="2.2" stroke-linecap="butt"/>
<line x1="1703.3" y1="450.95" x2="1715.3" y2="450.95" stroke="#231f20" stroke-width="2.2" stroke-linecap="butt"/>
<rect x="1701.1" y="507.94" width="16.4" height="99.56" fill="#d8d9db" stroke="#231f20" stroke-width="2.2" />
<line x1="1753.55" y1="321.26" x2="1753.55" y2="280" stroke="#231f20" stroke-width="2.2" stroke-linecap="butt"/>
<line x1="1747.55" y1="280" x2="1759.55" y2="280" stroke="#231f20" stroke-width="2.2" stroke-linecap="butt"/>
<line x1="1753.55" y1="403.8" x2="1753.55" y2="450.95" stroke="#231f20" stroke-width="2.2" stroke-linecap="butt"/>
<line x1="1747.55" y1="450.95" x2="1759.55" y2="450.95" stroke="#231f20" stroke-width="2.2" stroke-linecap="butt"/>
<rect x="1745.35" y="321.26" width="16.4" height="82.53" fill="#ffffff" stroke="#231f20" stroke-width="2.2" />
<line x1="1746.45" y1="372.36" x2="1760.65" y2="372.36" stroke="#231f20" stroke-width="2.2" stroke-linecap="butt"/>
<line x1="1776.25" y1="406.42" x2="1776.25" y2="353.36" stroke="#231f20" stroke-width="2.2" stroke-linecap="butt"/>
<line x1="1770.25" y1="353.36" x2="1782.25" y2="353.36" stroke="#231f20" stroke-width="2.2" stroke-linecap="butt"/>
<line x1="1776.25" y1="534.14" x2="1776.25" y2="607.5" stroke="#231f20" stroke-width="2.2" stroke-linecap="butt"/>
<rect x="1768.05" y="406.42" width="16.4" height="127.72" fill="#77787b" stroke="#231f20" stroke-width="2.2" />
<line x1="1769.15" y1="464.06" x2="1783.35" y2="464.06" stroke="#231f20" stroke-width="2.2" stroke-linecap="butt"/>
<line x1="1798.95" y1="491.56" x2="1798.95" y2="444.4" stroke="#231f20" stroke-width="2.2" stroke-linecap="butt"/>
<line x1="1792.95" y1="444.4" x2="1804.95" y2="444.4" stroke="#231f20" stroke-width="2.2" stroke-linecap="butt"/>
<rect x="1790.75" y="491.56" width="16.4" height="115.94" fill="#d8d9db" stroke="#231f20" stroke-width="2.2" />
<line x1="1843.2" y1="314.06" x2="1843.2" y2="281.31" stroke="#231f20" stroke-width="2.2" stroke-linecap="butt"/>
<line x1="1837.2" y1="281.31" x2="1849.2" y2="281.31" stroke="#231f20" stroke-width="2.2" stroke-linecap="butt"/>
<line x1="1843.2" y1="424.1" x2="1843.2" y2="470.61" stroke="#231f20" stroke-width="2.2" stroke-linecap="butt"/>
<line x1="1837.2" y1="470.61" x2="1849.2" y2="470.61" stroke="#231f20" stroke-width="2.2" stroke-linecap="butt"/>
<rect x="1835" y="314.06" width="16.4" height="110.04" fill="#ffffff" stroke="#231f20" stroke-width="2.2" />
<line x1="1836.1" y1="378.25" x2="1850.3" y2="378.25" stroke="#231f20" stroke-width="2.2" stroke-linecap="butt"/>
<line x1="1865.9" y1="366.46" x2="1865.9" y2="292.45" stroke="#231f20" stroke-width="2.2" stroke-linecap="butt"/>
<line x1="1859.9" y1="292.45" x2="1871.9" y2="292.45" stroke="#231f20" stroke-width="2.2" stroke-linecap="butt"/>
<line x1="1865.9" y1="495.5" x2="1865.9" y2="607.5" stroke="#231f20" stroke-width="2.2" stroke-linecap="butt"/>
<rect x="1857.7" y="366.46" width="16.4" height="129.04" fill="#77787b" stroke="#231f20" stroke-width="2.2" />
<line x1="1858.8" y1="424.75" x2="1873" y2="424.75" stroke="#231f20" stroke-width="2.2" stroke-linecap="butt"/>
<line x1="1888.6" y1="519.08" x2="1888.6" y2="444.4" stroke="#231f20" stroke-width="2.2" stroke-linecap="butt"/>
<line x1="1882.6" y1="444.4" x2="1894.6" y2="444.4" stroke="#231f20" stroke-width="2.2" stroke-linecap="butt"/>
<rect x="1880.4" y="519.08" width="16.4" height="88.42" fill="#d8d9db" stroke="#231f20" stroke-width="2.2" />
<circle cx="1126" cy="181.75" r="5.6" fill="#231f20" />
<circle cx="1126" cy="208.61" r="5.6" fill="#231f20" />
<circle cx="1120.6" cy="228.91" r="5.6" fill="#231f20" />
<circle cx="1131.4" cy="228.91" r="5.6" fill="#231f20" />
<circle cx="1126" cy="234.8" r="5.6" fill="#231f20" />
<circle cx="1120.6" cy="242.01" r="5.6" fill="#231f20" />
<circle cx="1131.4" cy="242.01" r="5.6" fill="#231f20" />
<circle cx="1126" cy="469.95" r="5.6" fill="#231f20" />
<circle cx="1122.4" cy="483.71" r="5.6" fill="#231f20" />
<circle cx="1129.6" cy="483.71" r="5.6" fill="#231f20" />
<circle cx="1126" cy="607.5" r="5.6" fill="#231f20" />
<circle cx="1148.7" cy="221.05" r="5.6" fill="#7b7c7f" />
<circle cx="1148.7" cy="280" r="5.6" fill="#7b7c7f" />
<circle cx="1148.7" cy="306.2" r="5.6" fill="#7b7c7f" />
<circle cx="1142.9" cy="319.3" r="5.6" fill="#7b7c7f" />
<circle cx="1154.5" cy="319.3" r="5.6" fill="#7b7c7f" />
<circle cx="1142.9" cy="352.05" r="5.6" fill="#7b7c7f" />
<circle cx="1154.5" cy="352.05" r="5.6" fill="#7b7c7f" />
<circle cx="1148.7" cy="371.7" r="5.6" fill="#7b7c7f" />
<circle cx="1171.4" cy="360.56" r="5.6" fill="#d3d4d6" />
<circle cx="1165.4" cy="370.39" r="5.6" fill="#d3d4d6" />
<circle cx="1177.4" cy="370.39" r="5.6" fill="#d3d4d6" />
<circle cx="1171.4" cy="376.29" r="5.6" fill="#d3d4d6" />
<circle cx="1163.9" cy="390.04" r="5.6" fill="#d3d4d6" />
<circle cx="1171.4" cy="390.04" r="5.6" fill="#d3d4d6" />
<circle cx="1178.9" cy="390.04" r="5.6" fill="#d3d4d6" />
<circle cx="1173.4" cy="402.49" r="5.6" fill="#d3d4d6" />
<circle cx="1169.4" cy="409.04" r="5.6" fill="#d3d4d6" />
<circle cx="1215.65" cy="208.61" r="5.6" fill="#231f20" />
<circle cx="1209.65" cy="235.46" r="5.6" fill="#231f20" />
<circle cx="1215.65" cy="235.46" r="5.6" fill="#231f20" />
<circle cx="1221.65" cy="235.46" r="5.6" fill="#231f20" />
<circle cx="1210.65" cy="247.25" r="5.6" fill="#231f20" />
<circle cx="1220.65" cy="253.8" r="5.6" fill="#231f20" />
<circle cx="1209.65" cy="427.38" r="5.6" fill="#231f20" />
<circle cx="1215.65" cy="427.38" r="5.6" fill="#231f20" />
<circle cx="1221.65" cy="427.38" r="5.6" fill="#231f20" />
<circle cx="1209.65" cy="444.4" r="5.6" fill="#231f20" />
<circle cx="1221.65" cy="444.4" r="5.6" fill="#231f20" />
<circle cx="1215.65" cy="450.3" r="5.6" fill="#231f20" />
<circle cx="1215.65" cy="463.4" r="5.6" fill="#231f20" />
<circle cx="1212.65" cy="469.95" r="5.6" fill="#231f20" />
<circle cx="1233.35" cy="147.69" r="5.6" fill="#7b7c7f" />
<circle cx="1238.35" cy="147.69" r="5.6" fill="#7b7c7f" />
<circle cx="1244.35" cy="154.24" r="5.6" fill="#7b7c7f" />
<circle cx="1243.35" cy="207.29" r="5.6" fill="#7b7c7f" />
<circle cx="1238.35" cy="214.5" r="5.6" fill="#7b7c7f" />
<circle cx="1238.35" cy="235.46" r="5.6" fill="#7b7c7f" />
<circle cx="1238.35" cy="443.75" r="5.6" fill="#7b7c7f" />
<circle cx="1238.35" cy="463.4" r="5.6" fill="#7b7c7f" />
<circle cx="1238.35" cy="496.15" r="5.6" fill="#7b7c7f" />
<circle cx="1238.35" cy="535.45" r="5.6" fill="#7b7c7f" />
<circle cx="1261.05" cy="365.15" r="5.6" fill="#d3d4d6" />
<circle cx="1264.05" cy="384.8" r="5.6" fill="#d3d4d6" />
<circle cx="1261.05" cy="391.35" r="5.6" fill="#d3d4d6" />
<circle cx="1254.05" cy="424.1" r="5.6" fill="#d3d4d6" />
<circle cx="1261.05" cy="424.1" r="5.6" fill="#d3d4d6" />
<circle cx="1268.05" cy="424.1" r="5.6" fill="#d3d4d6" />
<circle cx="1256.05" cy="443.75" r="5.6" fill="#d3d4d6" />
<circle cx="1266.05" cy="443.75" r="5.6" fill="#d3d4d6" />
<circle cx="1305.3" cy="188.96" r="5.6" fill="#231f20" />
<circle cx="1305.3" cy="215.15" r="5.6" fill="#231f20" />
<circle cx="1299.9" cy="228.25" r="5.6" fill="#231f20" />
<circle cx="1310.7" cy="228.25" r="5.6" fill="#231f20" />
<circle cx="1305.3" cy="234.15" r="5.6" fill="#231f20" />
<circle cx="1305.3" cy="247.25" r="5.6" fill="#231f20" />
<circle cx="1302.3" cy="280" r="5.6" fill="#231f20" />
<circle cx="1308.3" cy="280" r="5.6" fill="#231f20" />
<circle cx="1305.3" cy="456.85" r="5.6" fill="#231f20" />
<circle cx="1300.3" cy="469.95" r="5.6" fill="#231f20" />
<circle cx="1310.3" cy="469.95" r="5.6" fill="#231f20" />
<circle cx="1300.3" cy="483.05" r="5.6" fill="#231f20" />
<circle cx="1310.3" cy="489.6" r="5.6" fill="#231f20" />
<circle cx="1305.3" cy="486.32" r="5.6" fill="#231f20" />
<circle cx="1305.3" cy="502.7" r="5.6" fill="#231f20" />
<circle cx="1305.3" cy="555.1" r="5.6" fill="#231f20" />
<circle cx="1305.3" cy="607.5" r="5.6" fill="#231f20" />
<circle cx="1328" cy="266.9" r="5.6" fill="#7b7c7f" />
<circle cx="1323" cy="299.65" r="5.6" fill="#7b7c7f" />
<circle cx="1333" cy="299.65" r="5.6" fill="#7b7c7f" />
<circle cx="1333" cy="312.75" r="5.6" fill="#7b7c7f" />
<circle cx="1323" cy="319.3" r="5.6" fill="#7b7c7f" />
<circle cx="1328" cy="332.4" r="5.6" fill="#7b7c7f" />
<circle cx="1328" cy="345.5" r="5.6" fill="#7b7c7f" />
<circle cx="1350.7" cy="371.7" r="5.6" fill="#d3d4d6" />
<circle cx="1350.7" cy="384.8" r="5.6" fill="#d3d4d6" />
<circle cx="1353.7" cy="391.35" r="5.6" fill="#d3d4d6" />
<circle cx="1350.7" cy="404.45" r="5.6" fill="#d3d4d6" />
<circle cx="1345.7" cy="411" r="5.6" fill="#d3d4d6" />
<circle cx="1355.7" cy="411" r="5.6" fill="#d3d4d6" />
<circle cx="1350.7" cy="424.1" r="5.6" fill="#d3d4d6" />
<circle cx="1394.95" cy="234.8" r="5.6" fill="#231f20" />
<circle cx="1389.95" cy="252.49" r="5.6" fill="#231f20" />
<circle cx="1397.95" cy="252.49" r="5.6" fill="#231f20" />
<circle cx="1399.95" cy="261" r="5.6" fill="#231f20" />
<circle cx="1391.95" cy="266.9" r="5.6" fill="#231f20" />
<circle cx="1399.95" cy="270.17" r="5.6" fill="#231f20" />
<circle cx="1397.95" cy="280" r="5.6" fill="#231f20" />
<circle cx="1389.95" cy="481.74" r="5.6" fill="#231f20" />
<circle cx="1394.95" cy="490.25" r="5.6" fill="#231f20" />
<circle cx="1399.95" cy="490.25" r="5.6" fill="#231f20" />
<circle cx="1394.95" cy="555.75" r="5.6" fill="#231f20" />
<circle cx="1417.65" cy="136.55" r="5.6" fill="#7b7c7f" />
<circle cx="1417.65" cy="195.5" r="5.6" fill="#7b7c7f" />
<circle cx="1422.65" cy="240.7" r="5.6" fill="#7b7c7f" />
<circle cx="1412.65" cy="248.56" r="5.6" fill="#7b7c7f" />
<circle cx="1417.65" cy="248.56" r="5.6" fill="#7b7c7f" />
<circle cx="1412.65" cy="266.9" r="5.6" fill="#7b7c7f" />
<circle cx="1417.65" cy="266.9" r="5.6" fill="#7b7c7f" />
<circle cx="1422.65" cy="266.9" r="5.6" fill="#7b7c7f" />
<circle cx="1417.65" cy="273.45" r="5.6" fill="#7b7c7f" />
<circle cx="1417.65" cy="489.6" r="5.6" fill="#7b7c7f" />
<circle cx="1412.65" cy="496.15" r="5.6" fill="#7b7c7f" />
<circle cx="1422.65" cy="496.15" r="5.6" fill="#7b7c7f" />
<circle cx="1412.65" cy="528.9" r="5.6" fill="#7b7c7f" />
<circle cx="1417.65" cy="528.9" r="5.6" fill="#7b7c7f" />
<circle cx="1422.65" cy="528.9" r="5.6" fill="#7b7c7f" />
<circle cx="1417.65" cy="535.45" r="5.6" fill="#7b7c7f" />
<circle cx="1417.65" cy="568.2" r="5.6" fill="#7b7c7f" />
<circle cx="1412.65" cy="607.5" r="5.6" fill="#7b7c7f" />
<circle cx="1417.65" cy="607.5" r="5.6" fill="#7b7c7f" />
<circle cx="1422.65" cy="607.5" r="5.6" fill="#7b7c7f" />
<circle cx="1440.35" cy="404.45" r="5.6" fill="#d3d4d6" />
<circle cx="1440.35" cy="411" r="5.6" fill="#d3d4d6" />
<circle cx="1433.35" cy="424.1" r="5.6" fill="#d3d4d6" />
<circle cx="1440.35" cy="424.1" r="5.6" fill="#d3d4d6" />
<circle cx="1447.35" cy="424.1" r="5.6" fill="#d3d4d6" />
<circle cx="1440.35" cy="443.75" r="5.6" fill="#d3d4d6" />
<circle cx="1440.35" cy="450.3" r="5.6" fill="#d3d4d6" />
<circle cx="1484.6" cy="214.5" r="5.6" fill="#231f20" />
<circle cx="1484.6" cy="228.25" r="5.6" fill="#231f20" />
<circle cx="1479.6" cy="247.25" r="5.6" fill="#231f20" />
<circle cx="1489.6" cy="247.25" r="5.6" fill="#231f20" />
<circle cx="1484.6" cy="260.35" r="5.6" fill="#231f20" />
<circle cx="1479.6" cy="273.45" r="5.6" fill="#231f20" />
<circle cx="1489.6" cy="280" r="5.6" fill="#231f20" />
<circle cx="1481.6" cy="450.3" r="5.6" fill="#231f20" />
<circle cx="1479.6" cy="456.85" r="5.6" fill="#231f20" />
<circle cx="1489.6" cy="456.85" r="5.6" fill="#231f20" />
<circle cx="1479.6" cy="469.95" r="5.6" fill="#231f20" />
<circle cx="1489.6" cy="469.95" r="5.6" fill="#231f20" />
<circle cx="1484.6" cy="489.6" r="5.6" fill="#231f20" />
<circle cx="1484.6" cy="509.25" r="5.6" fill="#231f20" />
<circle cx="1484.6" cy="522.35" r="5.6" fill="#231f20" />
<circle cx="1507.3" cy="280" r="5.6" fill="#7b7c7f" />
<circle cx="1507.3" cy="312.75" r="5.6" fill="#7b7c7f" />
<circle cx="1507.3" cy="325.85" r="5.6" fill="#7b7c7f" />
<circle cx="1502.3" cy="345.5" r="5.6" fill="#7b7c7f" />
<circle cx="1507.3" cy="345.5" r="5.6" fill="#7b7c7f" />
<circle cx="1512.3" cy="345.5" r="5.6" fill="#7b7c7f" />
<circle cx="1530" cy="345.5" r="5.6" fill="#d3d4d6" />
<circle cx="1525" cy="450.3" r="5.6" fill="#d3d4d6" />
<circle cx="1535" cy="450.3" r="5.6" fill="#d3d4d6" />
<circle cx="1523" cy="456.85" r="5.6" fill="#d3d4d6" />
<circle cx="1537" cy="456.85" r="5.6" fill="#d3d4d6" />
<circle cx="1530" cy="463.4" r="5.6" fill="#d3d4d6" />
<circle cx="1530" cy="476.5" r="5.6" fill="#d3d4d6" />
<circle cx="1570.25" cy="214.5" r="5.6" fill="#231f20" />
<circle cx="1578.25" cy="214.5" r="5.6" fill="#231f20" />
<circle cx="1569.25" cy="240.7" r="5.6" fill="#231f20" />
<circle cx="1579.25" cy="240.7" r="5.6" fill="#231f20" />
<circle cx="1574.25" cy="247.25" r="5.6" fill="#231f20" />
<circle cx="1570.25" cy="260.35" r="5.6" fill="#231f20" />
<circle cx="1578.25" cy="260.35" r="5.6" fill="#231f20" />
<circle cx="1574.25" cy="266.9" r="5.6" fill="#231f20" />
<circle cx="1569.25" cy="437.2" r="5.6" fill="#231f20" />
<circle cx="1579.25" cy="437.2" r="5.6" fill="#231f20" />
<circle cx="1574.25" cy="440.48" r="5.6" fill="#231f20" />
<circle cx="1569.25" cy="443.75" r="5.6" fill="#231f20" />
<circle cx="1579.25" cy="443.75" r="5.6" fill="#231f20" />
<circle cx="1574.25" cy="456.85" r="5.6" fill="#231f20" />
<circle cx="1574.25" cy="469.95" r="5.6" fill="#231f20" />
<circle cx="1574.25" cy="502.7" r="5.6" fill="#231f20" />
<circle cx="1574.25" cy="607.5" r="5.6" fill="#231f20" />
<circle cx="1596.95" cy="214.5" r="5.6" fill="#7b7c7f" />
<circle cx="1596.95" cy="260.35" r="5.6" fill="#7b7c7f" />
<circle cx="1596.95" cy="280" r="5.6" fill="#7b7c7f" />
<circle cx="1596.95" cy="293.1" r="5.6" fill="#7b7c7f" />
<circle cx="1592.95" cy="568.2" r="5.6" fill="#7b7c7f" />
<circle cx="1600.95" cy="568.2" r="5.6" fill="#7b7c7f" />
<circle cx="1590.95" cy="607.5" r="5.6" fill="#7b7c7f" />
<circle cx="1596.95" cy="607.5" r="5.6" fill="#7b7c7f" />
<circle cx="1602.95" cy="607.5" r="5.6" fill="#7b7c7f" />
<circle cx="1619.65" cy="325.85" r="5.6" fill="#d3d4d6" />
<circle cx="1619.65" cy="384.8" r="5.6" fill="#d3d4d6" />
<circle cx="1613.65" cy="424.1" r="5.6" fill="#d3d4d6" />
<circle cx="1619.65" cy="424.1" r="5.6" fill="#d3d4d6" />
<circle cx="1625.65" cy="424.1" r="5.6" fill="#d3d4d6" />
<circle cx="1613.65" cy="443.75" r="5.6" fill="#d3d4d6" />
<circle cx="1619.65" cy="443.75" r="5.6" fill="#d3d4d6" />
<circle cx="1625.65" cy="443.75" r="5.6" fill="#d3d4d6" />
<circle cx="1619.65" cy="450.3" r="5.6" fill="#d3d4d6" />
<circle cx="1663.9" cy="135.9" r="5.6" fill="#231f20" />
<circle cx="1663.9" cy="155.55" r="5.6" fill="#231f20" />
<circle cx="1658.9" cy="194.85" r="5.6" fill="#231f20" />
<circle cx="1668.9" cy="194.85" r="5.6" fill="#231f20" />
<circle cx="1663.9" cy="201.4" r="5.6" fill="#231f20" />
<circle cx="1658.9" cy="207.95" r="5.6" fill="#231f20" />
<circle cx="1668.9" cy="207.95" r="5.6" fill="#231f20" />
<circle cx="1659.9" cy="450.3" r="5.6" fill="#231f20" />
<circle cx="1667.9" cy="453.57" r="5.6" fill="#231f20" />
<circle cx="1663.9" cy="456.85" r="5.6" fill="#231f20" />
<circle cx="1663.9" cy="469.95" r="5.6" fill="#231f20" />
<circle cx="1659.9" cy="483.05" r="5.6" fill="#231f20" />
<circle cx="1667.9" cy="483.05" r="5.6" fill="#231f20" />
<circle cx="1663.9" cy="528.9" r="5.6" fill="#231f20" />
<circle cx="1686.6" cy="221.05" r="5.6" fill="#7b7c7f" />
<circle cx="1689.6" cy="273.45" r="5.6" fill="#7b7c7f" />
<circle cx="1683.6" cy="280" r="5.6" fill="#7b7c7f" />
<circle cx="1686.6" cy="293.1" r="5.6" fill="#7b7c7f" />
<circle cx="1686.6" cy="535.45" r="5.6" fill="#7b7c7f" />
<circle cx="1680.6" cy="607.5" r="5.6" fill="#7b7c7f" />
<circle cx="1684.6" cy="607.5" r="5.6" fill="#7b7c7f" />
<circle cx="1688.6" cy="607.5" r="5.6" fill="#7b7c7f" />
<circle cx="1692.6" cy="607.5" r="5.6" fill="#7b7c7f" />
<circle cx="1709.3" cy="299.65" r="5.6" fill="#d3d4d6" />
<circle cx="1709.3" cy="371.7" r="5.6" fill="#d3d4d6" />
<circle cx="1709.3" cy="397.9" r="5.6" fill="#d3d4d6" />
<circle cx="1709.3" cy="411" r="5.6" fill="#d3d4d6" />
<circle cx="1706.3" cy="417.55" r="5.6" fill="#d3d4d6" />
<circle cx="1703.3" cy="424.1" r="5.6" fill="#d3d4d6" />
<circle cx="1709.3" cy="424.1" r="5.6" fill="#d3d4d6" />
<circle cx="1715.3" cy="424.1" r="5.6" fill="#d3d4d6" />
<circle cx="1712.3" cy="437.2" r="5.6" fill="#d3d4d6" />
<circle cx="1707.3" cy="443.75" r="5.6" fill="#d3d4d6" />
<circle cx="1753.55" cy="168.65" r="5.6" fill="#231f20" />
<circle cx="1753.55" cy="207.95" r="5.6" fill="#231f20" />
<circle cx="1748.55" cy="240.7" r="5.6" fill="#231f20" />
<circle cx="1753.55" cy="240.7" r="5.6" fill="#231f20" />
<circle cx="1758.55" cy="240.7" r="5.6" fill="#231f20" />
<circle cx="1750.55" cy="260.35" r="5.6" fill="#231f20" />
<circle cx="1756.55" cy="260.35" r="5.6" fill="#231f20" />
<circle cx="1748.55" cy="273.45" r="5.6" fill="#231f20" />
<circle cx="1753.55" cy="273.45" r="5.6" fill="#231f20" />
<circle cx="1758.55" cy="273.45" r="5.6" fill="#231f20" />
<circle cx="1753.55" cy="450.3" r="5.6" fill="#231f20" />
<circle cx="1748.55" cy="456.85" r="5.6" fill="#231f20" />
<circle cx="1756.55" cy="456.85" r="5.6" fill="#231f20" />
<circle cx="1753.55" cy="463.4" r="5.6" fill="#231f20" />
<circle cx="1750.55" cy="476.5" r="5.6" fill="#231f20" />
<circle cx="1756.55" cy="476.5" r="5.6" fill="#231f20" />
<circle cx="1753.55" cy="496.15" r="5.6" fill="#231f20" />
<circle cx="1750.55" cy="528.9" r="5.6" fill="#231f20" />
<circle cx="1756.55" cy="528.9" r="5.6" fill="#231f20" />
<circle cx="1753.55" cy="607.5" r="5.6" fill="#231f20" />
<circle cx="1776.25" cy="247.25" r="5.6" fill="#7b7c7f" />
<circle cx="1776.25" cy="273.45" r="5.6" fill="#7b7c7f" />
<circle cx="1776.25" cy="299.65" r="5.6" fill="#7b7c7f" />
<circle cx="1781.25" cy="312.75" r="5.6" fill="#7b7c7f" />
<circle cx="1771.25" cy="319.3" r="5.6" fill="#7b7c7f" />
<circle cx="1771.25" cy="332.4" r="5.6" fill="#7b7c7f" />
<circle cx="1781.25" cy="332.4" r="5.6" fill="#7b7c7f" />
<circle cx="1798.95" cy="338.95" r="5.6" fill="#d3d4d6" />
<circle cx="1798.95" cy="345.5" r="5.6" fill="#d3d4d6" />
<circle cx="1792.95" cy="391.35" r="5.6" fill="#d3d4d6" />
<circle cx="1798.95" cy="391.35" r="5.6" fill="#d3d4d6" />
<circle cx="1804.95" cy="391.35" r="5.6" fill="#d3d4d6" />
<circle cx="1802.95" cy="397.9" r="5.6" fill="#d3d4d6" />
<circle cx="1798.95" cy="424.1" r="5.6" fill="#d3d4d6" />
<circle cx="1843.2" cy="149" r="5.6" fill="#231f20" />
<circle cx="1843.2" cy="207.95" r="5.6" fill="#231f20" />
<circle cx="1843.2" cy="214.5" r="5.6" fill="#231f20" />
<circle cx="1843.2" cy="221.05" r="5.6" fill="#231f20" />
<circle cx="1839.2" cy="240.7" r="5.6" fill="#231f20" />
<circle cx="1847.2" cy="240.7" r="5.6" fill="#231f20" />
<circle cx="1843.2" cy="260.35" r="5.6" fill="#231f20" />
<circle cx="1838.2" cy="476.5" r="5.6" fill="#231f20" />
<circle cx="1848.2" cy="476.5" r="5.6" fill="#231f20" />
<circle cx="1843.2" cy="489.6" r="5.6" fill="#231f20" />
<circle cx="1838.2" cy="496.15" r="5.6" fill="#231f20" />
<circle cx="1848.2" cy="496.15" r="5.6" fill="#231f20" />
<circle cx="1840.2" cy="502.7" r="5.6" fill="#231f20" />
<circle cx="1846.2" cy="502.7" r="5.6" fill="#231f20" />
<circle cx="1843.2" cy="528.9" r="5.6" fill="#231f20" />
<circle cx="1843.2" cy="535.45" r="5.6" fill="#231f20" />
<circle cx="1865.9" cy="194.85" r="5.6" fill="#7b7c7f" />
<circle cx="1865.9" cy="201.4" r="5.6" fill="#7b7c7f" />
<circle cx="1865.9" cy="240.7" r="5.6" fill="#7b7c7f" />
<circle cx="1865.9" cy="266.9" r="5.6" fill="#7b7c7f" />
<circle cx="1861.9" cy="273.45" r="5.6" fill="#7b7c7f" />
<circle cx="1869.9" cy="273.45" r="5.6" fill="#7b7c7f" />
<circle cx="1865.9" cy="280" r="5.6" fill="#7b7c7f" />
<circle cx="1884.6" cy="391.35" r="5.6" fill="#d3d4d6" />
<circle cx="1892.6" cy="391.35" r="5.6" fill="#d3d4d6" />
<circle cx="1894.6" cy="397.9" r="5.6" fill="#d3d4d6" />
<circle cx="1888.6" cy="417.55" r="5.6" fill="#d3d4d6" />
<circle cx="1888.6" cy="430.65" r="5.6" fill="#d3d4d6" />
<text x="1125.3" y="147.4" font-size="36" text-anchor="middle">a</text>
<text x="1147.5" y="188.6" font-size="36" text-anchor="middle">b</text>
<text x="1171" y="317.6" font-size="36" text-anchor="middle">c</text>
<text x="1214.6" y="185.9" font-size="36" text-anchor="middle">a</text>
<text x="1242.6" y="122.1" font-size="36" text-anchor="middle">a</text>
<text x="1264.3" y="336.1" font-size="36" text-anchor="middle">c</text>
<text x="1306.4" y="147.4" font-size="36" text-anchor="middle">a</text>
<text x="1330" y="238.9" font-size="36" text-anchor="middle">b</text>
<text x="1349.3" y="336.7" font-size="36" text-anchor="middle">c</text>
<text x="1393.9" y="198.1" font-size="36" text-anchor="middle">a</text>
<text x="1416.7" y="107.2" font-size="36" text-anchor="middle">a</text>
<text x="1440" y="350.2" font-size="36" text-anchor="middle">c</text>
<text x="1482.7" y="184.6" font-size="36" text-anchor="middle">a</text>
<text x="1507.2" y="252.5" font-size="36" text-anchor="middle">b</text>
<text x="1529.4" y="316.3" font-size="36" text-anchor="middle">c</text>
<text x="1569.6" y="180.5" font-size="36" text-anchor="middle">a</text>
<text x="1597.6" y="180.5" font-size="36" text-anchor="middle">b</text>
<text x="1618.5" y="283.7" font-size="36" text-anchor="middle">c</text>
<text x="1662.5" y="107.2" font-size="36" text-anchor="middle">a</text>
<text x="1687.5" y="203.6" font-size="36" text-anchor="middle">b</text>
<text x="1707.9" y="270.1" font-size="36" text-anchor="middle">c</text>
<text x="1751.4" y="147.4" font-size="36" text-anchor="middle">a</text>
<text x="1774.4" y="211.7" font-size="36" text-anchor="middle">b</text>
<text x="1797.5" y="304" font-size="36" text-anchor="middle">c</text>
<text x="1841" y="107.2" font-size="36" text-anchor="middle">a</text>
<text x="1864" y="177.8" font-size="36" text-anchor="middle">b</text>
<text x="1887.1" y="342.1" font-size="36" text-anchor="middle">c</text>
<text x="1157.7" y="659" font-size="42.5" text-anchor="end" transform="rotate(-45 1157.7 659)">Col-0</text>
<text x="1247.35" y="659" font-size="42.5" text-anchor="end" font-style="italic" transform="rotate(-45 1247.35 659)">fls2</text>
<text x="1337" y="659" font-size="42.5" text-anchor="end" font-style="italic" transform="rotate(-45 1337 659)">rabg3a</text>
<text x="1426.65" y="659" font-size="42.5" text-anchor="end" font-style="italic" transform="rotate(-45 1426.65 659)">rabg3b</text>
<text x="1516.3" y="659" font-size="42.5" text-anchor="end" font-style="italic" transform="rotate(-45 1516.3 659)">rabg3c</text>
<text x="1605.95" y="659" font-size="42.5" text-anchor="end" font-style="italic" transform="rotate(-45 1605.95 659)">rabg3d</text>
<text x="1695.6" y="659" font-size="42.5" text-anchor="end" font-style="italic" transform="rotate(-45 1695.6 659)">rabg3e</text>
<text x="1785.25" y="659" font-size="42.5" text-anchor="end" font-style="italic" transform="rotate(-45 1785.25 659)">rabg3f</text>
<text x="1874.9" y="659" font-size="42.5" text-anchor="end" font-style="italic" transform="rotate(-45 1874.9 659)">rab2g</text>
<text x="0" y="820" font-size="53" font-weight="bold">c</text>
<line x1="186.5" y1="847.2" x2="186.5" y2="1365.6" stroke="#231f20" stroke-width="2.2" stroke-linecap="butt"/>
<line x1="185.4" y1="1365.6" x2="961.5" y2="1365.6" stroke="#231f20" stroke-width="2.2" stroke-linecap="butt"/>
<line x1="166" y1="1365.6" x2="186.5" y2="1365.6" stroke="#231f20" stroke-width="2.2" stroke-linecap="butt"/>
<text x="164.5" y="1380.2" font-size="41" text-anchor="end">0</text>
<line x1="166" y1="1193.2" x2="186.5" y2="1193.2" stroke="#231f20" stroke-width="2.2" stroke-linecap="butt"/>
<text x="164.5" y="1207.8" font-size="41" text-anchor="end">2</text>
<line x1="166" y1="1020.8" x2="186.5" y2="1020.8" stroke="#231f20" stroke-width="2.2" stroke-linecap="butt"/>
<text x="164.5" y="1035.4" font-size="41" text-anchor="end">4</text>
<line x1="166" y1="848.4" x2="186.5" y2="848.4" stroke="#231f20" stroke-width="2.2" stroke-linecap="butt"/>
<text x="164.5" y="863" font-size="41" text-anchor="end">6</text>
<line x1="297.2" y1="1365.6" x2="297.2" y2="1385.6" stroke="#231f20" stroke-width="2.2" stroke-linecap="butt"/>
<line x1="574.5" y1="1365.6" x2="574.5" y2="1385.6" stroke="#231f20" stroke-width="2.2" stroke-linecap="butt"/>
<line x1="852.4" y1="1365.6" x2="852.4" y2="1385.6" stroke="#231f20" stroke-width="2.2" stroke-linecap="butt"/>
<text x="110.5" y="1105.4" font-size="41.6" text-anchor="middle" transform="rotate(-90 110.5 1105.4)">stomatal aperture (µm)</text>
<text x="297.2" y="1424" font-size="42" text-anchor="middle">Col-0</text>
<text x="574.5" y="1424" font-size="42" text-anchor="middle" font-style="italic">fls2</text>
<text x="852.4" y="1424" font-size="42" text-anchor="middle" font-style="italic">rabg3b</text>
<rect x="250.5" y="810.8" width="20.8" height="20.4" fill="#ffffff" stroke="#231f20" stroke-width="2.2" />
<rect x="462.9" y="810.8" width="20.8" height="20.4" fill="#77787b" stroke="#231f20" stroke-width="2.2" />
<rect x="735.9" y="810.8" width="20.8" height="20.4" fill="#d8d9db" stroke="#231f20" stroke-width="2.2" />
<text x="291" y="834" font-size="42">mock</text>
<text x="504.5" y="834" font-size="42">1h flg22</text>
<text x="775" y="834" font-size="42">2h flg22</text>
<line x1="226.1" y1="1087.17" x2="226.1" y2="1047.52" stroke="#231f20" stroke-width="2.4" stroke-linecap="butt"/>
<line x1="209.6" y1="1047.52" x2="242.6" y2="1047.52" stroke="#231f20" stroke-width="2.4" stroke-linecap="butt"/>
<line x1="226.1" y1="1194.06" x2="226.1" y2="1256.99" stroke="#231f20" stroke-width="2.4" stroke-linecap="butt"/>
<line x1="209.6" y1="1256.99" x2="242.6" y2="1256.99" stroke="#231f20" stroke-width="2.4" stroke-linecap="butt"/>
<rect x="195.8" y="1087.17" width="60.6" height="106.89" fill="#ffffff" stroke="#231f20" stroke-width="2.4" />
<line x1="197" y1="1140.62" x2="255.2" y2="1140.62" stroke="#231f20" stroke-width="2.4" stroke-linecap="butt"/>
<line x1="297.2" y1="1187.17" x2="297.2" y2="1132.86" stroke="#231f20" stroke-width="2.4" stroke-linecap="butt"/>
<line x1="280.7" y1="1132.86" x2="313.7" y2="1132.86" stroke="#231f20" stroke-width="2.4" stroke-linecap="butt"/>
<line x1="297.2" y1="1294.92" x2="297.2" y2="1365.6" stroke="#231f20" stroke-width="2.4" stroke-linecap="butt"/>
<rect x="266.9" y="1187.17" width="60.6" height="107.75" fill="#77787b" stroke="#231f20" stroke-width="2.4" />
<line x1="268.1" y1="1225.96" x2="326.3" y2="1225.96" stroke="#231f20" stroke-width="2.4" stroke-linecap="butt"/>
<line x1="368.2" y1="1164.75" x2="368.2" y2="1108.72" stroke="#231f20" stroke-width="2.4" stroke-linecap="butt"/>
<line x1="351.7" y1="1108.72" x2="384.7" y2="1108.72" stroke="#231f20" stroke-width="2.4" stroke-linecap="butt"/>
<line x1="368.2" y1="1263.88" x2="368.2" y2="1325.95" stroke="#231f20" stroke-width="2.4" stroke-linecap="butt"/>
<line x1="351.7" y1="1325.95" x2="384.7" y2="1325.95" stroke="#231f20" stroke-width="2.4" stroke-linecap="butt"/>
<rect x="337.9" y="1164.75" width="60.6" height="99.13" fill="#d8d9db" stroke="#231f20" stroke-width="2.4" />
<line x1="339.1" y1="1218.2" x2="397.3" y2="1218.2" stroke="#231f20" stroke-width="2.4" stroke-linecap="butt"/>
<line x1="503.4" y1="1095.79" x2="503.4" y2="1047.52" stroke="#231f20" stroke-width="2.4" stroke-linecap="butt"/>
<line x1="486.9" y1="1047.52" x2="519.9" y2="1047.52" stroke="#231f20" stroke-width="2.4" stroke-linecap="butt"/>
<line x1="503.4" y1="1186.3" x2="503.4" y2="1243.2" stroke="#231f20" stroke-width="2.4" stroke-linecap="butt"/>
<line x1="486.9" y1="1243.2" x2="519.9" y2="1243.2" stroke="#231f20" stroke-width="2.4" stroke-linecap="butt"/>
<rect x="473.1" y="1095.79" width="60.6" height="90.51" fill="#ffffff" stroke="#231f20" stroke-width="2.4" />
<line x1="474.3" y1="1140.62" x2="532.5" y2="1140.62" stroke="#231f20" stroke-width="2.4" stroke-linecap="butt"/>
<line x1="574.5" y1="1064.76" x2="574.5" y2="1003.56" stroke="#231f20" stroke-width="2.4" stroke-linecap="butt"/>
<line x1="558" y1="1003.56" x2="591" y2="1003.56" stroke="#231f20" stroke-width="2.4" stroke-linecap="butt"/>
<line x1="574.5" y1="1184.58" x2="574.5" y2="1225.96" stroke="#231f20" stroke-width="2.4" stroke-linecap="butt"/>
<line x1="558" y1="1225.96" x2="591" y2="1225.96" stroke="#231f20" stroke-width="2.4" stroke-linecap="butt"/>
<rect x="544.2" y="1064.76" width="60.6" height="119.82" fill="#77787b" stroke="#231f20" stroke-width="2.4" />
<line x1="545.4" y1="1117.34" x2="603.6" y2="1117.34" stroke="#231f20" stroke-width="2.4" stroke-linecap="butt"/>
<line x1="645.5" y1="1079.42" x2="645.5" y2="993.22" stroke="#231f20" stroke-width="2.4" stroke-linecap="butt"/>
<line x1="629" y1="993.22" x2="662" y2="993.22" stroke="#231f20" stroke-width="2.4" stroke-linecap="butt"/>
<line x1="645.5" y1="1186.3" x2="645.5" y2="1218.2" stroke="#231f20" stroke-width="2.4" stroke-linecap="butt"/>
<line x1="629" y1="1218.2" x2="662" y2="1218.2" stroke="#231f20" stroke-width="2.4" stroke-linecap="butt"/>
<rect x="615.2" y="1079.42" width="60.6" height="106.89" fill="#d8d9db" stroke="#231f20" stroke-width="2.4" />
<line x1="616.4" y1="1140.62" x2="674.6" y2="1140.62" stroke="#231f20" stroke-width="2.4" stroke-linecap="butt"/>
<line x1="781.3" y1="1082" x2="781.3" y2="1047.52" stroke="#231f20" stroke-width="2.4" stroke-linecap="butt"/>
<line x1="764.8" y1="1047.52" x2="797.8" y2="1047.52" stroke="#231f20" stroke-width="2.4" stroke-linecap="butt"/>
<line x1="781.3" y1="1186.3" x2="781.3" y2="1241.47" stroke="#231f20" stroke-width="2.4" stroke-linecap="butt"/>
<line x1="764.8" y1="1241.47" x2="797.8" y2="1241.47" stroke="#231f20" stroke-width="2.4" stroke-linecap="butt"/>
<rect x="751" y="1082" width="60.6" height="104.3" fill="#ffffff" stroke="#231f20" stroke-width="2.4" />
<line x1="752.2" y1="1140.62" x2="810.4" y2="1140.62" stroke="#231f20" stroke-width="2.4" stroke-linecap="butt"/>
<line x1="852.4" y1="1159.58" x2="852.4" y2="1112.17" stroke="#231f20" stroke-width="2.4" stroke-linecap="butt"/>
<line x1="835.9" y1="1112.17" x2="868.9" y2="1112.17" stroke="#231f20" stroke-width="2.4" stroke-linecap="butt"/>
<line x1="852.4" y1="1263.88" x2="852.4" y2="1318.19" stroke="#231f20" stroke-width="2.4" stroke-linecap="butt"/>
<line x1="835.9" y1="1318.19" x2="868.9" y2="1318.19" stroke="#231f20" stroke-width="2.4" stroke-linecap="butt"/>
<rect x="822.1" y="1159.58" width="60.6" height="104.3" fill="#77787b" stroke="#231f20" stroke-width="2.4" />
<line x1="823.3" y1="1210.44" x2="881.5" y2="1210.44" stroke="#231f20" stroke-width="2.4" stroke-linecap="butt"/>
<line x1="923.4" y1="1074.24" x2="923.4" y2="1016.49" stroke="#231f20" stroke-width="2.4" stroke-linecap="butt"/>
<line x1="906.9" y1="1016.49" x2="939.9" y2="1016.49" stroke="#231f20" stroke-width="2.4" stroke-linecap="butt"/>
<line x1="923.4" y1="1163.03" x2="923.4" y2="1212.16" stroke="#231f20" stroke-width="2.4" stroke-linecap="butt"/>
<line x1="906.9" y1="1212.16" x2="939.9" y2="1212.16" stroke="#231f20" stroke-width="2.4" stroke-linecap="butt"/>
<rect x="893.1" y="1074.24" width="60.6" height="88.79" fill="#d8d9db" stroke="#231f20" stroke-width="2.4" />
<line x1="894.3" y1="1132.86" x2="952.5" y2="1132.86" stroke="#231f20" stroke-width="2.4" stroke-linecap="butt"/>
<circle cx="226.1" cy="914.77" r="5.6" fill="#231f20" />
<circle cx="226.1" cy="969.08" r="5.6" fill="#231f20" />
<circle cx="209.1" cy="1014.77" r="5.6" fill="#231f20" />
<circle cx="220.1" cy="1014.77" r="5.6" fill="#231f20" />
<circle cx="232.1" cy="1009.59" r="5.6" fill="#231f20" />
<circle cx="243.1" cy="1014.77" r="5.6" fill="#231f20" />
<circle cx="209.1" cy="1030.28" r="5.6" fill="#231f20" />
<circle cx="220.1" cy="1030.28" r="5.6" fill="#231f20" />
<circle cx="232.1" cy="1038.04" r="5.6" fill="#231f20" />
<circle cx="226.1" cy="1264.75" r="5.6" fill="#231f20" />
<circle cx="199.1" cy="1288.02" r="5.6" fill="#231f20" />
<circle cx="209.1" cy="1288.02" r="5.6" fill="#231f20" />
<circle cx="220.1" cy="1294.92" r="5.6" fill="#231f20" />
<circle cx="232.1" cy="1294.92" r="5.6" fill="#231f20" />
<circle cx="243.1" cy="1288.02" r="5.6" fill="#231f20" />
<circle cx="253.1" cy="1288.02" r="5.6" fill="#231f20" />
<circle cx="226.1" cy="1365.6" r="5.6" fill="#231f20" />
<rect x="283.2" y="996.84" width="10" height="10" fill="#7b7c7f" stroke="none" stroke-width="0" />
<rect x="301.2" y="996.84" width="10" height="10" fill="#7b7c7f" stroke="none" stroke-width="0" />
<rect x="265.2" y="1072.69" width="10" height="10" fill="#7b7c7f" stroke="none" stroke-width="0" />
<rect x="283.2" y="1072.69" width="10" height="10" fill="#7b7c7f" stroke="none" stroke-width="0" />
<rect x="301.2" y="1072.69" width="10" height="10" fill="#7b7c7f" stroke="none" stroke-width="0" />
<rect x="319.2" y="1072.69" width="10" height="10" fill="#7b7c7f" stroke="none" stroke-width="0" />
<rect x="265.2" y="1103.72" width="10" height="10" fill="#7b7c7f" stroke="none" stroke-width="0" />
<rect x="283.2" y="1103.72" width="10" height="10" fill="#7b7c7f" stroke="none" stroke-width="0" />
<rect x="319.2" y="1103.72" width="10" height="10" fill="#7b7c7f" stroke="none" stroke-width="0" />
<rect x="301.2" y="1111.48" width="10" height="10" fill="#7b7c7f" stroke="none" stroke-width="0" />
<rect x="292.2" y="1127" width="10" height="10" fill="#7b7c7f" stroke="none" stroke-width="0" />
<path d="M362.43 982.9L373.97 982.9L368.2 972.5Z" fill="#c6c7c9" stroke="none" stroke-width="0" />
<path d="M362.43 1022.55L373.97 1022.55L368.2 1012.15Z" fill="#c6c7c9" stroke="none" stroke-width="0" />
<path d="M362.43 1082.89L373.97 1082.89L368.2 1072.49Z" fill="#c6c7c9" stroke="none" stroke-width="0" />
<path d="M342.43 1099.27L353.97 1099.27L348.2 1088.87Z" fill="#c6c7c9" stroke="none" stroke-width="0" />
<path d="M355.43 1099.27L366.97 1099.27L361.2 1088.87Z" fill="#c6c7c9" stroke="none" stroke-width="0" />
<path d="M369.43 1099.27L380.97 1099.27L375.2 1088.87Z" fill="#c6c7c9" stroke="none" stroke-width="0" />
<path d="M382.43 1099.27L393.97 1099.27L388.2 1088.87Z" fill="#c6c7c9" stroke="none" stroke-width="0" />
<path d="M335.43 1370.8L346.97 1370.8L341.2 1360.4Z" fill="#c6c7c9" stroke="none" stroke-width="0" />
<path d="M348.43 1370.8L359.97 1370.8L354.2 1360.4Z" fill="#c6c7c9" stroke="none" stroke-width="0" />
<path d="M362.43 1370.8L373.97 1370.8L368.2 1360.4Z" fill="#c6c7c9" stroke="none" stroke-width="0" />
<path d="M376.43 1370.8L387.97 1370.8L382.2 1360.4Z" fill="#c6c7c9" stroke="none" stroke-width="0" />
<path d="M389.43 1370.8L400.97 1370.8L395.2 1360.4Z" fill="#c6c7c9" stroke="none" stroke-width="0" />
<circle cx="493.4" cy="962.18" r="5.6" fill="#231f20" />
<circle cx="513.4" cy="955.29" r="5.6" fill="#231f20" />
<circle cx="503.4" cy="985.46" r="5.6" fill="#231f20" />
<circle cx="503.4" cy="1016.49" r="5.6" fill="#231f20" />
<circle cx="483.4" cy="1032.01" r="5.6" fill="#231f20" />
<circle cx="503.4" cy="1039.76" r="5.6" fill="#231f20" />
<circle cx="483.4" cy="1256.99" r="5.6" fill="#231f20" />
<circle cx="503.4" cy="1256.99" r="5.6" fill="#231f20" />
<circle cx="523.4" cy="1256.99" r="5.6" fill="#231f20" />
<circle cx="493.4" cy="1294.92" r="5.6" fill="#231f20" />
<circle cx="513.4" cy="1287.16" r="5.6" fill="#231f20" />
<circle cx="493.4" cy="1325.09" r="5.6" fill="#231f20" />
<circle cx="513.4" cy="1318.19" r="5.6" fill="#231f20" />
<rect x="542.5" y="923.57" width="10" height="10" fill="#7b7c7f" stroke="none" stroke-width="0" />
<rect x="560.5" y="931.32" width="10" height="10" fill="#7b7c7f" stroke="none" stroke-width="0" />
<rect x="578.5" y="931.32" width="10" height="10" fill="#7b7c7f" stroke="none" stroke-width="0" />
<rect x="578.5" y="962.36" width="10" height="10" fill="#7b7c7f" stroke="none" stroke-width="0" />
<rect x="596.5" y="962.36" width="10" height="10" fill="#7b7c7f" stroke="none" stroke-width="0" />
<rect x="542.5" y="970.11" width="10" height="10" fill="#7b7c7f" stroke="none" stroke-width="0" />
<rect x="560.5" y="977.87" width="10" height="10" fill="#7b7c7f" stroke="none" stroke-width="0" />
<rect x="578.5" y="977.87" width="10" height="10" fill="#7b7c7f" stroke="none" stroke-width="0" />
<rect x="569.5" y="994.25" width="10" height="10" fill="#7b7c7f" stroke="none" stroke-width="0" />
<rect x="560.5" y="1237.33" width="10" height="10" fill="#7b7c7f" stroke="none" stroke-width="0" />
<rect x="578.5" y="1237.33" width="10" height="10" fill="#7b7c7f" stroke="none" stroke-width="0" />
<rect x="560.5" y="1251.99" width="10" height="10" fill="#7b7c7f" stroke="none" stroke-width="0" />
<rect x="542.5" y="1259.75" width="10" height="10" fill="#7b7c7f" stroke="none" stroke-width="0" />
<rect x="578.5" y="1259.75" width="10" height="10" fill="#7b7c7f" stroke="none" stroke-width="0" />
<rect x="596.5" y="1259.75" width="10" height="10" fill="#7b7c7f" stroke="none" stroke-width="0" />
<rect x="569.5" y="1320.95" width="10" height="10" fill="#7b7c7f" stroke="none" stroke-width="0" />
<rect x="569.5" y="1360.6" width="10" height="10" fill="#7b7c7f" stroke="none" stroke-width="0" />
<path d="M639.73 929.45L651.27 929.45L645.5 919.06Z" fill="#c6c7c9" stroke="none" stroke-width="0" />
<path d="M629.73 944.97L641.27 944.97L635.5 934.57Z" fill="#c6c7c9" stroke="none" stroke-width="0" />
<path d="M649.73 952.73L661.27 952.73L655.5 942.33Z" fill="#c6c7c9" stroke="none" stroke-width="0" />
<path d="M629.73 960.49L641.27 960.49L635.5 950.09Z" fill="#c6c7c9" stroke="none" stroke-width="0" />
<path d="M629.73 976L641.27 976L635.5 965.61Z" fill="#c6c7c9" stroke="none" stroke-width="0" />
<path d="M649.73 983.76L661.27 983.76L655.5 973.36Z" fill="#c6c7c9" stroke="none" stroke-width="0" />
<path d="M639.73 1230.29L651.27 1230.29L645.5 1219.9Z" fill="#c6c7c9" stroke="none" stroke-width="0" />
<path d="M629.73 1247.53L641.27 1247.53L635.5 1237.14Z" fill="#c6c7c9" stroke="none" stroke-width="0" />
<path d="M649.73 1247.53L661.27 1247.53L655.5 1237.14Z" fill="#c6c7c9" stroke="none" stroke-width="0" />
<path d="M629.73 1262.19L641.27 1262.19L635.5 1251.79Z" fill="#c6c7c9" stroke="none" stroke-width="0" />
<path d="M649.73 1262.19L661.27 1262.19L655.5 1251.79Z" fill="#c6c7c9" stroke="none" stroke-width="0" />
<path d="M629.73 1300.11L641.27 1300.11L635.5 1289.72Z" fill="#c6c7c9" stroke="none" stroke-width="0" />
<path d="M649.73 1292.36L661.27 1292.36L655.5 1281.96Z" fill="#c6c7c9" stroke="none" stroke-width="0" />
<circle cx="774.3" cy="938.91" r="5.6" fill="#231f20" />
<circle cx="788.3" cy="938.91" r="5.6" fill="#231f20" />
<circle cx="795.3" cy="977.7" r="5.6" fill="#231f20" />
<circle cx="767.3" cy="993.22" r="5.6" fill="#231f20" />
<circle cx="781.3" cy="985.46" r="5.6" fill="#231f20" />
<circle cx="781.3" cy="1000.97" r="5.6" fill="#231f20" />
<circle cx="781.3" cy="1016.49" r="5.6" fill="#231f20" />
<circle cx="767.3" cy="1032.01" r="5.6" fill="#231f20" />
<circle cx="781.3" cy="1039.76" r="5.6" fill="#231f20" />
<circle cx="754.3" cy="1256.99" r="5.6" fill="#231f20" />
<circle cx="781.3" cy="1256.99" r="5.6" fill="#231f20" />
<circle cx="808.3" cy="1256.99" r="5.6" fill="#231f20" />
<circle cx="767.3" cy="1264.75" r="5.6" fill="#231f20" />
<circle cx="795.3" cy="1264.75" r="5.6" fill="#231f20" />
<circle cx="781.3" cy="1288.02" r="5.6" fill="#231f20" />
<circle cx="781.3" cy="1365.6" r="5.6" fill="#231f20" />
<rect x="847.4" y="988.22" width="10" height="10" fill="#7b7c7f" stroke="none" stroke-width="0" />
<rect x="844.4" y="1004.59" width="10" height="10" fill="#7b7c7f" stroke="none" stroke-width="0" />
<rect x="850.4" y="1011.49" width="10" height="10" fill="#7b7c7f" stroke="none" stroke-width="0" />
<rect x="847.4" y="1027.01" width="10" height="10" fill="#7b7c7f" stroke="none" stroke-width="0" />
<rect x="833.4" y="1072.69" width="10" height="10" fill="#7b7c7f" stroke="none" stroke-width="0" />
<rect x="842.4" y="1072.69" width="10" height="10" fill="#7b7c7f" stroke="none" stroke-width="0" />
<rect x="852.4" y="1072.69" width="10" height="10" fill="#7b7c7f" stroke="none" stroke-width="0" />
<rect x="861.4" y="1072.69" width="10" height="10" fill="#7b7c7f" stroke="none" stroke-width="0" />
<rect x="847.4" y="1088.21" width="10" height="10" fill="#7b7c7f" stroke="none" stroke-width="0" />
<rect x="843.4" y="1103.72" width="10" height="10" fill="#7b7c7f" stroke="none" stroke-width="0" />
<rect x="851.4" y="1103.72" width="10" height="10" fill="#7b7c7f" stroke="none" stroke-width="0" />
<rect x="843.4" y="1320.95" width="10" height="10" fill="#7b7c7f" stroke="none" stroke-width="0" />
<rect x="851.4" y="1320.95" width="10" height="10" fill="#7b7c7f" stroke="none" stroke-width="0" />
<rect x="820.4" y="1360.6" width="10" height="10" fill="#7b7c7f" stroke="none" stroke-width="0" />
<rect x="829.4" y="1360.6" width="10" height="10" fill="#7b7c7f" stroke="none" stroke-width="0" />
<rect x="838.4" y="1360.6" width="10" height="10" fill="#7b7c7f" stroke="none" stroke-width="0" />
<rect x="847.4" y="1360.6" width="10" height="10" fill="#7b7c7f" stroke="none" stroke-width="0" />
<rect x="856.4" y="1360.6" width="10" height="10" fill="#7b7c7f" stroke="none" stroke-width="0" />
<rect x="865.4" y="1360.6" width="10" height="10" fill="#7b7c7f" stroke="none" stroke-width="0" />
<rect x="874.4" y="1360.6" width="10" height="10" fill="#7b7c7f" stroke="none" stroke-width="0" />
<path d="M931.62 936.35L943.17 936.35L937.4 925.95Z" fill="#c6c7c9" stroke="none" stroke-width="0" />
<path d="M903.62 944.97L915.17 944.97L909.4 934.57Z" fill="#c6c7c9" stroke="none" stroke-width="0" />
<path d="M917.62 944.97L929.17 944.97L923.4 934.57Z" fill="#c6c7c9" stroke="none" stroke-width="0" />
<path d="M931.62 952.73L943.17 952.73L937.4 942.33Z" fill="#c6c7c9" stroke="none" stroke-width="0" />
<path d="M917.62 960.49L929.17 960.49L923.4 950.09Z" fill="#c6c7c9" stroke="none" stroke-width="0" />
<path d="M903.62 982.9L915.17 982.9L909.4 972.5Z" fill="#c6c7c9" stroke="none" stroke-width="0" />
<path d="M917.62 990.66L929.17 990.66L923.4 980.26Z" fill="#c6c7c9" stroke="none" stroke-width="0" />
<path d="M917.62 1006.17L929.17 1006.17L923.4 995.78Z" fill="#c6c7c9" stroke="none" stroke-width="0" />
<path d="M903.62 1014.79L915.17 1014.79L909.4 1004.4Z" fill="#c6c7c9" stroke="none" stroke-width="0" />
<path d="M931.62 1014.79L943.17 1014.79L937.4 1004.4Z" fill="#c6c7c9" stroke="none" stroke-width="0" />
<path d="M890.62 1223.4L902.17 1223.4L896.4 1213Z" fill="#c6c7c9" stroke="none" stroke-width="0" />
<path d="M917.62 1223.4L929.17 1223.4L923.4 1213Z" fill="#c6c7c9" stroke="none" stroke-width="0" />
<path d="M944.62 1223.4L956.17 1223.4L950.4 1213Z" fill="#c6c7c9" stroke="none" stroke-width="0" />
<path d="M903.62 1230.29L915.17 1230.29L909.4 1219.9Z" fill="#c6c7c9" stroke="none" stroke-width="0" />
<path d="M931.62 1230.29L943.17 1230.29L937.4 1219.9Z" fill="#c6c7c9" stroke="none" stroke-width="0" />
<path d="M903.62 1247.53L915.17 1247.53L909.4 1237.14Z" fill="#c6c7c9" stroke="none" stroke-width="0" />
<path d="M917.62 1247.53L929.17 1247.53L923.4 1237.14Z" fill="#c6c7c9" stroke="none" stroke-width="0" />
<path d="M931.62 1247.53L943.17 1247.53L937.4 1237.14Z" fill="#c6c7c9" stroke="none" stroke-width="0" />
<path d="M917.62 1269.94L929.17 1269.94L923.4 1259.55Z" fill="#c6c7c9" stroke="none" stroke-width="0" />
<path d="M917.62 1331.15L929.17 1331.15L923.4 1320.75Z" fill="#c6c7c9" stroke="none" stroke-width="0" />
<path d="M917.62 1370.8L929.17 1370.8L923.4 1360.4Z" fill="#c6c7c9" stroke="none" stroke-width="0" />
<text x="225" y="890.4" font-size="36" text-anchor="middle">a</text>
<text x="295.5" y="956.6" font-size="36" text-anchor="middle">b</text>
<text x="367.3" y="928.5" font-size="36" text-anchor="middle">b</text>
<text x="503.7" y="922.8" font-size="36" text-anchor="middle">a</text>
<text x="574" y="893.8" font-size="36" text-anchor="middle">a</text>
<text x="645.4" y="891" font-size="36" text-anchor="middle">a</text>
<text x="781.4" y="894.6" font-size="36" text-anchor="middle">a</text>
<text x="851.3" y="958" font-size="36" text-anchor="middle">b</text>
<text x="923.1" y="894.6" font-size="36" text-anchor="middle">a</text>
<text x="1046" y="821" font-size="53" font-weight="bold">d</text>
<line x1="1141.9" y1="862.5" x2="1141.9" y2="1370" stroke="#231f20" stroke-width="2.2" stroke-linecap="butt"/>
<line x1="1140.8" y1="1370" x2="1900" y2="1370" stroke="#231f20" stroke-width="2.2" stroke-linecap="butt"/>
<line x1="1121" y1="1370" x2="1141.9" y2="1370" stroke="#231f20" stroke-width="2.2" stroke-linecap="butt"/>
<text x="1120" y="1384.6" font-size="41" text-anchor="end">0</text>
<line x1="1121" y1="1201.2" x2="1141.9" y2="1201.2" stroke="#231f20" stroke-width="2.2" stroke-linecap="butt"/>
<text x="1120" y="1215.8" font-size="41" text-anchor="end">2</text>
<line x1="1121" y1="1032.4" x2="1141.9" y2="1032.4" stroke="#231f20" stroke-width="2.2" stroke-linecap="butt"/>
<text x="1120" y="1047" font-size="41" text-anchor="end">4</text>
<line x1="1121" y1="863.6" x2="1141.9" y2="863.6" stroke="#231f20" stroke-width="2.2" stroke-linecap="butt"/>
<text x="1120" y="878.2" font-size="41" text-anchor="end">6</text>
<line x1="1204.7" y1="1370" x2="1204.7" y2="1389" stroke="#231f20" stroke-width="2.2" stroke-linecap="butt"/>
<line x1="1362.95" y1="1370" x2="1362.95" y2="1389" stroke="#231f20" stroke-width="2.2" stroke-linecap="butt"/>
<line x1="1521.2" y1="1370" x2="1521.2" y2="1389" stroke="#231f20" stroke-width="2.2" stroke-linecap="butt"/>
<line x1="1679.45" y1="1370" x2="1679.45" y2="1389" stroke="#231f20" stroke-width="2.2" stroke-linecap="butt"/>
<line x1="1837.7" y1="1370" x2="1837.7" y2="1389" stroke="#231f20" stroke-width="2.2" stroke-linecap="butt"/>
<text x="1064.5" y="1115.9" font-size="41.6" text-anchor="middle" transform="rotate(-90 1064.5 1115.9)">stomatal aperture (µm)</text>
<rect x="1214.4" y="810.4" width="20.2" height="19.2" fill="#ffffff" stroke="#231f20" stroke-width="2.2" />
<rect x="1410.7" y="810.4" width="20.2" height="19.2" fill="#77787b" stroke="#231f20" stroke-width="2.2" />
<rect x="1666.7" y="810.4" width="20.2" height="19.2" fill="#d8d9db" stroke="#231f20" stroke-width="2.2" />
<text x="1255.5" y="831.5" font-size="42">mock</text>
<text x="1451" y="831.5" font-size="42">1h flg22</text>
<text x="1706" y="831.5" font-size="42">2h flg22</text>
<line x1="1164.2" y1="1100.76" x2="1164.2" y2="1040.84" stroke="#231f20" stroke-width="2.3" stroke-linecap="butt"/>
<line x1="1154.45" y1="1040.84" x2="1173.95" y2="1040.84" stroke="#231f20" stroke-width="2.3" stroke-linecap="butt"/>
<line x1="1164.2" y1="1217.24" x2="1164.2" y2="1277.16" stroke="#231f20" stroke-width="2.3" stroke-linecap="butt"/>
<line x1="1154.45" y1="1277.16" x2="1173.95" y2="1277.16" stroke="#231f20" stroke-width="2.3" stroke-linecap="butt"/>
<rect x="1147.85" y="1100.76" width="32.7" height="116.47" fill="#ffffff" stroke="#231f20" stroke-width="2.3" />
<line x1="1149" y1="1159" x2="1179.4" y2="1159" stroke="#231f20" stroke-width="2.3" stroke-linecap="butt"/>
<line x1="1204.7" y1="1211.33" x2="1204.7" y2="1133.68" stroke="#231f20" stroke-width="2.3" stroke-linecap="butt"/>
<line x1="1194.95" y1="1133.68" x2="1214.45" y2="1133.68" stroke="#231f20" stroke-width="2.3" stroke-linecap="butt"/>
<line x1="1204.7" y1="1300.79" x2="1204.7" y2="1335.4" stroke="#231f20" stroke-width="2.3" stroke-linecap="butt"/>
<line x1="1194.95" y1="1335.4" x2="1214.45" y2="1335.4" stroke="#231f20" stroke-width="2.3" stroke-linecap="butt"/>
<rect x="1188.35" y="1211.33" width="32.7" height="89.46" fill="#77787b" stroke="#231f20" stroke-width="2.3" />
<line x1="1189.5" y1="1260.28" x2="1219.9" y2="1260.28" stroke="#231f20" stroke-width="2.3" stroke-linecap="butt"/>
<line x1="1245.2" y1="1143.81" x2="1245.2" y2="1108.36" stroke="#231f20" stroke-width="2.3" stroke-linecap="butt"/>
<line x1="1235.45" y1="1108.36" x2="1254.95" y2="1108.36" stroke="#231f20" stroke-width="2.3" stroke-linecap="butt"/>
<line x1="1245.2" y1="1310.08" x2="1245.2" y2="1370" stroke="#231f20" stroke-width="2.3" stroke-linecap="butt"/>
<rect x="1228.85" y="1143.81" width="32.7" height="166.27" fill="#d8d9db" stroke="#231f20" stroke-width="2.3" />
<line x1="1230" y1="1243.4" x2="1260.4" y2="1243.4" stroke="#231f20" stroke-width="2.3" stroke-linecap="butt"/>
<line x1="1322.45" y1="1092.32" x2="1322.45" y2="1044.22" stroke="#231f20" stroke-width="2.3" stroke-linecap="butt"/>
<line x1="1312.7" y1="1044.22" x2="1332.2" y2="1044.22" stroke="#231f20" stroke-width="2.3" stroke-linecap="butt"/>
<line x1="1322.45" y1="1191.92" x2="1322.45" y2="1277.16" stroke="#231f20" stroke-width="2.3" stroke-linecap="butt"/>
<line x1="1312.7" y1="1277.16" x2="1332.2" y2="1277.16" stroke="#231f20" stroke-width="2.3" stroke-linecap="butt"/>
<rect x="1306.1" y="1092.32" width="32.7" height="99.59" fill="#ffffff" stroke="#231f20" stroke-width="2.3" />
<line x1="1307.25" y1="1133.68" x2="1337.65" y2="1133.68" stroke="#231f20" stroke-width="2.3" stroke-linecap="butt"/>
<line x1="1362.95" y1="1100.76" x2="1362.95" y2="1075.44" stroke="#231f20" stroke-width="2.3" stroke-linecap="butt"/>
<line x1="1353.2" y1="1075.44" x2="1372.7" y2="1075.44" stroke="#231f20" stroke-width="2.3" stroke-linecap="butt"/>
<line x1="1362.95" y1="1233.27" x2="1362.95" y2="1277.16" stroke="#231f20" stroke-width="2.3" stroke-linecap="butt"/>
<line x1="1353.2" y1="1277.16" x2="1372.7" y2="1277.16" stroke="#231f20" stroke-width="2.3" stroke-linecap="butt"/>
<rect x="1346.6" y="1100.76" width="32.7" height="132.51" fill="#77787b" stroke="#231f20" stroke-width="2.3" />
<line x1="1347.75" y1="1159" x2="1378.15" y2="1159" stroke="#231f20" stroke-width="2.3" stroke-linecap="butt"/>
<line x1="1403.45" y1="1110.05" x2="1403.45" y2="1053.5" stroke="#231f20" stroke-width="2.3" stroke-linecap="butt"/>
<line x1="1393.7" y1="1053.5" x2="1413.2" y2="1053.5" stroke="#231f20" stroke-width="2.3" stroke-linecap="butt"/>
<line x1="1403.45" y1="1241.71" x2="1403.45" y2="1302.48" stroke="#231f20" stroke-width="2.3" stroke-linecap="butt"/>
<line x1="1393.7" y1="1302.48" x2="1413.2" y2="1302.48" stroke="#231f20" stroke-width="2.3" stroke-linecap="butt"/>
<rect x="1387.1" y="1110.05" width="32.7" height="131.66" fill="#d8d9db" stroke="#231f20" stroke-width="2.3" />
<line x1="1388.25" y1="1167.44" x2="1418.65" y2="1167.44" stroke="#231f20" stroke-width="2.3" stroke-linecap="butt"/>
<line x1="1480.7" y1="1141.28" x2="1480.7" y2="1091.48" stroke="#231f20" stroke-width="2.3" stroke-linecap="butt"/>
<line x1="1470.95" y1="1091.48" x2="1490.45" y2="1091.48" stroke="#231f20" stroke-width="2.3" stroke-linecap="butt"/>
<line x1="1480.7" y1="1233.27" x2="1480.7" y2="1277.16" stroke="#231f20" stroke-width="2.3" stroke-linecap="butt"/>
<line x1="1470.95" y1="1277.16" x2="1490.45" y2="1277.16" stroke="#231f20" stroke-width="2.3" stroke-linecap="butt"/>
<rect x="1464.35" y="1141.28" width="32.7" height="92" fill="#ffffff" stroke="#231f20" stroke-width="2.3" />
<line x1="1465.5" y1="1192.76" x2="1495.9" y2="1192.76" stroke="#231f20" stroke-width="2.3" stroke-linecap="butt"/>
<line x1="1521.2" y1="1169.13" x2="1521.2" y2="1108.36" stroke="#231f20" stroke-width="2.3" stroke-linecap="butt"/>
<line x1="1511.45" y1="1108.36" x2="1530.95" y2="1108.36" stroke="#231f20" stroke-width="2.3" stroke-linecap="butt"/>
<line x1="1521.2" y1="1310.08" x2="1521.2" y2="1370" stroke="#231f20" stroke-width="2.3" stroke-linecap="butt"/>
<rect x="1504.85" y="1169.13" width="32.7" height="140.95" fill="#77787b" stroke="#231f20" stroke-width="2.3" />
<line x1="1506" y1="1226.52" x2="1536.4" y2="1226.52" stroke="#231f20" stroke-width="2.3" stroke-linecap="butt"/>
<line x1="1561.7" y1="1092.32" x2="1561.7" y2="1058.56" stroke="#231f20" stroke-width="2.3" stroke-linecap="butt"/>
<line x1="1551.95" y1="1058.56" x2="1571.45" y2="1058.56" stroke="#231f20" stroke-width="2.3" stroke-linecap="butt"/>
<line x1="1561.7" y1="1217.24" x2="1561.7" y2="1280.54" stroke="#231f20" stroke-width="2.3" stroke-linecap="butt"/>
<line x1="1551.95" y1="1280.54" x2="1571.45" y2="1280.54" stroke="#231f20" stroke-width="2.3" stroke-linecap="butt"/>
<rect x="1545.35" y="1092.32" width="32.7" height="124.91" fill="#d8d9db" stroke="#231f20" stroke-width="2.3" />
<line x1="1546.5" y1="1167.44" x2="1576.9" y2="1167.44" stroke="#231f20" stroke-width="2.3" stroke-linecap="butt"/>
<line x1="1638.95" y1="1092.32" x2="1638.95" y2="1040.84" stroke="#231f20" stroke-width="2.3" stroke-linecap="butt"/>
<line x1="1629.2" y1="1040.84" x2="1648.7" y2="1040.84" stroke="#231f20" stroke-width="2.3" stroke-linecap="butt"/>
<line x1="1638.95" y1="1191.92" x2="1638.95" y2="1277.16" stroke="#231f20" stroke-width="2.3" stroke-linecap="butt"/>
<line x1="1629.2" y1="1277.16" x2="1648.7" y2="1277.16" stroke="#231f20" stroke-width="2.3" stroke-linecap="butt"/>
<rect x="1622.6" y="1092.32" width="32.7" height="99.59" fill="#ffffff" stroke="#231f20" stroke-width="2.3" />
<line x1="1623.75" y1="1133.68" x2="1654.15" y2="1133.68" stroke="#231f20" stroke-width="2.3" stroke-linecap="butt"/>
<line x1="1679.45" y1="1169.13" x2="1679.45" y2="1110.89" stroke="#231f20" stroke-width="2.3" stroke-linecap="butt"/>
<line x1="1669.7" y1="1110.89" x2="1689.2" y2="1110.89" stroke="#231f20" stroke-width="2.3" stroke-linecap="butt"/>
<line x1="1679.45" y1="1267.88" x2="1679.45" y2="1310.08" stroke="#231f20" stroke-width="2.3" stroke-linecap="butt"/>
<line x1="1669.7" y1="1310.08" x2="1689.2" y2="1310.08" stroke="#231f20" stroke-width="2.3" stroke-linecap="butt"/>
<rect x="1663.1" y="1169.13" width="32.7" height="98.75" fill="#77787b" stroke="#231f20" stroke-width="2.3" />
<line x1="1664.25" y1="1209.64" x2="1694.65" y2="1209.64" stroke="#231f20" stroke-width="2.3" stroke-linecap="butt"/>
<line x1="1719.95" y1="1097.39" x2="1719.95" y2="1032.4" stroke="#231f20" stroke-width="2.3" stroke-linecap="butt"/>
<line x1="1710.2" y1="1032.4" x2="1729.7" y2="1032.4" stroke="#231f20" stroke-width="2.3" stroke-linecap="butt"/>
<line x1="1719.95" y1="1260.28" x2="1719.95" y2="1334.55" stroke="#231f20" stroke-width="2.3" stroke-linecap="butt"/>
<line x1="1710.2" y1="1334.55" x2="1729.7" y2="1334.55" stroke="#231f20" stroke-width="2.3" stroke-linecap="butt"/>
<rect x="1703.6" y="1097.39" width="32.7" height="162.89" fill="#d8d9db" stroke="#231f20" stroke-width="2.3" />
<line x1="1704.75" y1="1184.32" x2="1735.15" y2="1184.32" stroke="#231f20" stroke-width="2.3" stroke-linecap="butt"/>
<line x1="1797.2" y1="1118.49" x2="1797.2" y2="1061.1" stroke="#231f20" stroke-width="2.3" stroke-linecap="butt"/>
<line x1="1787.45" y1="1061.1" x2="1806.95" y2="1061.1" stroke="#231f20" stroke-width="2.3" stroke-linecap="butt"/>
<line x1="1797.2" y1="1213.02" x2="1797.2" y2="1253.53" stroke="#231f20" stroke-width="2.3" stroke-linecap="butt"/>
<line x1="1787.45" y1="1253.53" x2="1806.95" y2="1253.53" stroke="#231f20" stroke-width="2.3" stroke-linecap="butt"/>
<rect x="1780.85" y="1118.49" width="32.7" height="94.53" fill="#ffffff" stroke="#231f20" stroke-width="2.3" />
<line x1="1782" y1="1167.44" x2="1812.4" y2="1167.44" stroke="#231f20" stroke-width="2.3" stroke-linecap="butt"/>
<line x1="1837.7" y1="1177.57" x2="1837.7" y2="1142.12" stroke="#231f20" stroke-width="2.3" stroke-linecap="butt"/>
<line x1="1827.95" y1="1142.12" x2="1847.45" y2="1142.12" stroke="#231f20" stroke-width="2.3" stroke-linecap="butt"/>
<line x1="1837.7" y1="1276.32" x2="1837.7" y2="1310.92" stroke="#231f20" stroke-width="2.3" stroke-linecap="butt"/>
<line x1="1827.95" y1="1310.92" x2="1847.45" y2="1310.92" stroke="#231f20" stroke-width="2.3" stroke-linecap="butt"/>
<rect x="1821.35" y="1177.57" width="32.7" height="98.75" fill="#77787b" stroke="#231f20" stroke-width="2.3" />
<line x1="1822.5" y1="1226.52" x2="1852.9" y2="1226.52" stroke="#231f20" stroke-width="2.3" stroke-linecap="butt"/>
<line x1="1878.2" y1="1118.49" x2="1878.2" y2="1083.88" stroke="#231f20" stroke-width="2.3" stroke-linecap="butt"/>
<line x1="1868.45" y1="1083.88" x2="1887.95" y2="1083.88" stroke="#231f20" stroke-width="2.3" stroke-linecap="butt"/>
<line x1="1878.2" y1="1259.44" x2="1878.2" y2="1309.23" stroke="#231f20" stroke-width="2.3" stroke-linecap="butt"/>
<line x1="1868.45" y1="1309.23" x2="1887.95" y2="1309.23" stroke="#231f20" stroke-width="2.3" stroke-linecap="butt"/>
<rect x="1861.85" y="1118.49" width="32.7" height="140.95" fill="#d8d9db" stroke="#231f20" stroke-width="2.3" />
<line x1="1863" y1="1192.76" x2="1893.4" y2="1192.76" stroke="#231f20" stroke-width="2.3" stroke-linecap="butt"/>
<circle cx="1151.2" cy="981.76" r="5.2" fill="#231f20" />
<circle cx="1160.2" cy="981.76" r="5.2" fill="#231f20" />
<circle cx="1169.2" cy="981.76" r="5.2" fill="#231f20" />
<circle cx="1178.2" cy="973.32" r="5.2" fill="#231f20" />
<circle cx="1164.2" cy="1006.24" r="5.2" fill="#231f20" />
<circle cx="1151.2" cy="1023.96" r="5.2" fill="#231f20" />
<circle cx="1178.2" cy="1023.96" r="5.2" fill="#231f20" />
<circle cx="1160.2" cy="1032.4" r="5.2" fill="#231f20" />
<circle cx="1169.2" cy="1300.79" r="5.2" fill="#231f20" />
<circle cx="1178.2" cy="1300.79" r="5.2" fill="#231f20" />
<circle cx="1160.2" cy="1308.39" r="5.2" fill="#231f20" />
<circle cx="1151.2" cy="1326.11" r="5.2" fill="#231f20" />
<circle cx="1160.2" cy="1334.55" r="5.2" fill="#231f20" />
<circle cx="1169.2" cy="1334.55" r="5.2" fill="#231f20" />
<circle cx="1160.2" cy="1370" r="5.2" fill="#231f20" />
<circle cx="1169.2" cy="1370" r="5.2" fill="#231f20" />
<rect x="1200" y="1019.26" width="9.4" height="9.4" fill="#7b7c7f" stroke="none" stroke-width="0" />
<rect x="1200" y="1044.58" width="9.4" height="9.4" fill="#7b7c7f" stroke="none" stroke-width="0" />
<rect x="1200" y="1061.46" width="9.4" height="9.4" fill="#7b7c7f" stroke="none" stroke-width="0" />
<rect x="1200" y="1069.9" width="9.4" height="9.4" fill="#7b7c7f" stroke="none" stroke-width="0" />
<rect x="1200" y="1086.78" width="9.4" height="9.4" fill="#7b7c7f" stroke="none" stroke-width="0" />
<rect x="1200" y="1095.22" width="9.4" height="9.4" fill="#7b7c7f" stroke="none" stroke-width="0" />
<rect x="1187" y="1365.3" width="9.4" height="9.4" fill="#7b7c7f" stroke="none" stroke-width="0" />
<rect x="1196" y="1365.3" width="9.4" height="9.4" fill="#7b7c7f" stroke="none" stroke-width="0" />
<rect x="1204" y="1365.3" width="9.4" height="9.4" fill="#7b7c7f" stroke="none" stroke-width="0" />
<rect x="1213" y="1365.3" width="9.4" height="9.4" fill="#7b7c7f" stroke="none" stroke-width="0" />
<path d="M1239.7 961.39L1250.7 961.39L1245.2 951.49Z" fill="#c6c7c9" stroke="none" stroke-width="0" />
<path d="M1239.7 1037.35L1250.7 1037.35L1245.2 1027.45Z" fill="#c6c7c9" stroke="none" stroke-width="0" />
<path d="M1226.7 1071.11L1237.7 1071.11L1232.2 1061.21Z" fill="#c6c7c9" stroke="none" stroke-width="0" />
<path d="M1235.7 1079.55L1246.7 1079.55L1241.2 1069.65Z" fill="#c6c7c9" stroke="none" stroke-width="0" />
<path d="M1243.7 1079.55L1254.7 1079.55L1249.2 1069.65Z" fill="#c6c7c9" stroke="none" stroke-width="0" />
<path d="M1252.7 1079.55L1263.7 1079.55L1258.2 1069.65Z" fill="#c6c7c9" stroke="none" stroke-width="0" />
<path d="M1239.7 1096.43L1250.7 1096.43L1245.2 1086.53Z" fill="#c6c7c9" stroke="none" stroke-width="0" />
<circle cx="1320.45" cy="948" r="5.2" fill="#231f20" />
<circle cx="1324.45" cy="948" r="5.2" fill="#231f20" />
<circle cx="1322.45" cy="982.6" r="5.2" fill="#231f20" />
<circle cx="1320.45" cy="1007.08" r="5.2" fill="#231f20" />
<circle cx="1324.45" cy="1007.08" r="5.2" fill="#231f20" />
<circle cx="1320.45" cy="1023.96" r="5.2" fill="#231f20" />
<circle cx="1324.45" cy="1023.96" r="5.2" fill="#231f20" />
<circle cx="1317.45" cy="1040.84" r="5.2" fill="#231f20" />
<circle cx="1322.45" cy="1040.84" r="5.2" fill="#231f20" />
<circle cx="1327.45" cy="1040.84" r="5.2" fill="#231f20" />
<circle cx="1309.45" cy="1234.96" r="5.2" fill="#231f20" />
<circle cx="1322.45" cy="1234.96" r="5.2" fill="#231f20" />
<circle cx="1336.45" cy="1234.96" r="5.2" fill="#231f20" />
<circle cx="1314.45" cy="1243.4" r="5.2" fill="#231f20" />
<circle cx="1330.45" cy="1243.4" r="5.2" fill="#231f20" />
<circle cx="1322.45" cy="1251.84" r="5.2" fill="#231f20" />
<circle cx="1319.45" cy="1260.28" r="5.2" fill="#231f20" />
<circle cx="1320.45" cy="1277.16" r="5.2" fill="#231f20" />
<circle cx="1324.45" cy="1277.16" r="5.2" fill="#231f20" />
<rect x="1345.25" y="977.9" width="9.4" height="9.4" fill="#7b7c7f" stroke="none" stroke-width="0" />
<rect x="1358.25" y="985.5" width="9.4" height="9.4" fill="#7b7c7f" stroke="none" stroke-width="0" />
<rect x="1345.25" y="1019.26" width="9.4" height="9.4" fill="#7b7c7f" stroke="none" stroke-width="0" />
<rect x="1358.25" y="1019.26" width="9.4" height="9.4" fill="#7b7c7f" stroke="none" stroke-width="0" />
<rect x="1371.25" y="1027.7" width="9.4" height="9.4" fill="#7b7c7f" stroke="none" stroke-width="0" />
<rect x="1345.25" y="1036.14" width="9.4" height="9.4" fill="#7b7c7f" stroke="none" stroke-width="0" />
<rect x="1358.25" y="1036.14" width="9.4" height="9.4" fill="#7b7c7f" stroke="none" stroke-width="0" />
<rect x="1371.25" y="1044.58" width="9.4" height="9.4" fill="#7b7c7f" stroke="none" stroke-width="0" />
<rect x="1358.25" y="1053.02" width="9.4" height="9.4" fill="#7b7c7f" stroke="none" stroke-width="0" />
<rect x="1358.25" y="1280.9" width="9.4" height="9.4" fill="#7b7c7f" stroke="none" stroke-width="0" />
<rect x="1345.25" y="1297.78" width="9.4" height="9.4" fill="#7b7c7f" stroke="none" stroke-width="0" />
<rect x="1371.25" y="1297.78" width="9.4" height="9.4" fill="#7b7c7f" stroke="none" stroke-width="0" />
<rect x="1358.25" y="1303.69" width="9.4" height="9.4" fill="#7b7c7f" stroke="none" stroke-width="0" />
<rect x="1351.25" y="1323.1" width="9.4" height="9.4" fill="#7b7c7f" stroke="none" stroke-width="0" />
<rect x="1365.25" y="1323.1" width="9.4" height="9.4" fill="#7b7c7f" stroke="none" stroke-width="0" />
<rect x="1358.25" y="1365.3" width="9.4" height="9.4" fill="#7b7c7f" stroke="none" stroke-width="0" />
<path d="M1393.95 1012.03L1404.95 1012.03L1399.45 1002.13Z" fill="#c6c7c9" stroke="none" stroke-width="0" />
<path d="M1401.95 1012.03L1412.95 1012.03L1407.45 1002.13Z" fill="#c6c7c9" stroke="none" stroke-width="0" />
<path d="M1391.95 1028.91L1402.95 1028.91L1397.45 1019.01Z" fill="#c6c7c9" stroke="none" stroke-width="0" />
<path d="M1395.95 1037.35L1406.95 1037.35L1401.45 1027.45Z" fill="#c6c7c9" stroke="none" stroke-width="0" />
<path d="M1403.95 1037.35L1414.95 1037.35L1409.45 1027.45Z" fill="#c6c7c9" stroke="none" stroke-width="0" />
<path d="M1384.95 1045.79L1395.95 1045.79L1390.45 1035.89Z" fill="#c6c7c9" stroke="none" stroke-width="0" />
<path d="M1393.95 1045.79L1404.95 1045.79L1399.45 1035.89Z" fill="#c6c7c9" stroke="none" stroke-width="0" />
<path d="M1410.95 1045.79L1421.95 1045.79L1416.45 1035.89Z" fill="#c6c7c9" stroke="none" stroke-width="0" />
<path d="M1397.95 1054.23L1408.95 1054.23L1403.45 1044.33Z" fill="#c6c7c9" stroke="none" stroke-width="0" />
<path d="M1385.95 1315.87L1396.95 1315.87L1391.45 1305.97Z" fill="#c6c7c9" stroke="none" stroke-width="0" />
<path d="M1393.95 1315.87L1404.95 1315.87L1399.45 1305.97Z" fill="#c6c7c9" stroke="none" stroke-width="0" />
<path d="M1401.95 1315.87L1412.95 1315.87L1407.45 1305.97Z" fill="#c6c7c9" stroke="none" stroke-width="0" />
<path d="M1409.95 1315.87L1420.95 1315.87L1415.45 1305.97Z" fill="#c6c7c9" stroke="none" stroke-width="0" />
<path d="M1393.95 1349.63L1404.95 1349.63L1399.45 1339.73Z" fill="#c6c7c9" stroke="none" stroke-width="0" />
<path d="M1401.95 1349.63L1412.95 1349.63L1407.45 1339.73Z" fill="#c6c7c9" stroke="none" stroke-width="0" />
<path d="M1390.95 1374.95L1401.95 1374.95L1396.45 1365.05Z" fill="#c6c7c9" stroke="none" stroke-width="0" />
<path d="M1397.95 1374.95L1408.95 1374.95L1403.45 1365.05Z" fill="#c6c7c9" stroke="none" stroke-width="0" />
<path d="M1404.95 1374.95L1415.95 1374.95L1410.45 1365.05Z" fill="#c6c7c9" stroke="none" stroke-width="0" />
<circle cx="1485.7" cy="1023.96" r="5.2" fill="#231f20" />
<circle cx="1476.7" cy="1032.4" r="5.2" fill="#231f20" />
<circle cx="1485.7" cy="1040.84" r="5.2" fill="#231f20" />
<circle cx="1476.7" cy="1049.28" r="5.2" fill="#231f20" />
<circle cx="1485.7" cy="1057.72" r="5.2" fill="#231f20" />
<circle cx="1467.7" cy="1074.6" r="5.2" fill="#231f20" />
<circle cx="1476.7" cy="1074.6" r="5.2" fill="#231f20" />
<circle cx="1485.7" cy="1074.6" r="5.2" fill="#231f20" />
<circle cx="1493.7" cy="1074.6" r="5.2" fill="#231f20" />
<circle cx="1471.7" cy="1285.6" r="5.2" fill="#231f20" />
<circle cx="1480.7" cy="1285.6" r="5.2" fill="#231f20" />
<circle cx="1489.7" cy="1285.6" r="5.2" fill="#231f20" />
<circle cx="1467.7" cy="1302.48" r="5.2" fill="#231f20" />
<circle cx="1476.7" cy="1302.48" r="5.2" fill="#231f20" />
<circle cx="1485.7" cy="1308.39" r="5.2" fill="#231f20" />
<circle cx="1476.7" cy="1327.8" r="5.2" fill="#231f20" />
<circle cx="1485.7" cy="1334.55" r="5.2" fill="#231f20" />
<circle cx="1480.7" cy="1370" r="5.2" fill="#231f20" />
<rect x="1516.5" y="985.5" width="9.4" height="9.4" fill="#7b7c7f" stroke="none" stroke-width="0" />
<rect x="1516.5" y="1010.82" width="9.4" height="9.4" fill="#7b7c7f" stroke="none" stroke-width="0" />
<rect x="1519.5" y="1044.58" width="9.4" height="9.4" fill="#7b7c7f" stroke="none" stroke-width="0" />
<rect x="1513.5" y="1053.02" width="9.4" height="9.4" fill="#7b7c7f" stroke="none" stroke-width="0" />
<rect x="1503.5" y="1078.34" width="9.4" height="9.4" fill="#7b7c7f" stroke="none" stroke-width="0" />
<rect x="1512.5" y="1078.34" width="9.4" height="9.4" fill="#7b7c7f" stroke="none" stroke-width="0" />
<rect x="1520.5" y="1078.34" width="9.4" height="9.4" fill="#7b7c7f" stroke="none" stroke-width="0" />
<rect x="1503.5" y="1086.78" width="9.4" height="9.4" fill="#7b7c7f" stroke="none" stroke-width="0" />
<rect x="1512.5" y="1086.78" width="9.4" height="9.4" fill="#7b7c7f" stroke="none" stroke-width="0" />
<rect x="1520.5" y="1086.78" width="9.4" height="9.4" fill="#7b7c7f" stroke="none" stroke-width="0" />
<rect x="1529.5" y="1086.78" width="9.4" height="9.4" fill="#7b7c7f" stroke="none" stroke-width="0" />
<path d="M1556.2 961.39L1567.2 961.39L1561.7 951.49Z" fill="#c6c7c9" stroke="none" stroke-width="0" />
<path d="M1556.2 978.27L1567.2 978.27L1561.7 968.37Z" fill="#c6c7c9" stroke="none" stroke-width="0" />
<path d="M1556.2 995.15L1567.2 995.15L1561.7 985.25Z" fill="#c6c7c9" stroke="none" stroke-width="0" />
<path d="M1562.2 1020.47L1573.2 1020.47L1567.7 1010.57Z" fill="#c6c7c9" stroke="none" stroke-width="0" />
<path d="M1569.2 1020.47L1580.2 1020.47L1574.7 1010.57Z" fill="#c6c7c9" stroke="none" stroke-width="0" />
<path d="M1550.2 1028.91L1561.2 1028.91L1555.7 1019.01Z" fill="#c6c7c9" stroke="none" stroke-width="0" />
<path d="M1556.2 1028.91L1567.2 1028.91L1561.7 1019.01Z" fill="#c6c7c9" stroke="none" stroke-width="0" />
<path d="M1543.2 1037.35L1554.2 1037.35L1548.7 1027.45Z" fill="#c6c7c9" stroke="none" stroke-width="0" />
<path d="M1564.2 1037.35L1575.2 1037.35L1569.7 1027.45Z" fill="#c6c7c9" stroke="none" stroke-width="0" />
<path d="M1569.2 1037.35L1580.2 1037.35L1574.7 1027.45Z" fill="#c6c7c9" stroke="none" stroke-width="0" />
<path d="M1556.2 1045.79L1567.2 1045.79L1561.7 1035.89Z" fill="#c6c7c9" stroke="none" stroke-width="0" />
<path d="M1556.2 1290.55L1567.2 1290.55L1561.7 1280.65Z" fill="#c6c7c9" stroke="none" stroke-width="0" />
<path d="M1549.2 1315.87L1560.2 1315.87L1554.7 1305.97Z" fill="#c6c7c9" stroke="none" stroke-width="0" />
<path d="M1556.2 1315.87L1567.2 1315.87L1561.7 1305.97Z" fill="#c6c7c9" stroke="none" stroke-width="0" />
<path d="M1563.2 1315.87L1574.2 1315.87L1568.7 1305.97Z" fill="#c6c7c9" stroke="none" stroke-width="0" />
<path d="M1553.2 1332.75L1564.2 1332.75L1558.7 1322.85Z" fill="#c6c7c9" stroke="none" stroke-width="0" />
<path d="M1559.2 1332.75L1570.2 1332.75L1564.7 1322.85Z" fill="#c6c7c9" stroke="none" stroke-width="0" />
<path d="M1553.2 1349.63L1564.2 1349.63L1558.7 1339.73Z" fill="#c6c7c9" stroke="none" stroke-width="0" />
<path d="M1559.2 1349.63L1570.2 1349.63L1564.7 1339.73Z" fill="#c6c7c9" stroke="none" stroke-width="0" />
<path d="M1545.2 1374.95L1556.2 1374.95L1550.7 1365.05Z" fill="#c6c7c9" stroke="none" stroke-width="0" />
<path d="M1552.2 1374.95L1563.2 1374.95L1557.7 1365.05Z" fill="#c6c7c9" stroke="none" stroke-width="0" />
<path d="M1560.2 1374.95L1571.2 1374.95L1565.7 1365.05Z" fill="#c6c7c9" stroke="none" stroke-width="0" />
<path d="M1567.2 1374.95L1578.2 1374.95L1572.7 1365.05Z" fill="#c6c7c9" stroke="none" stroke-width="0" />
<circle cx="1638.95" cy="888.92" r="5.2" fill="#231f20" />
<circle cx="1624.95" cy="973.32" r="5.2" fill="#231f20" />
<circle cx="1638.95" cy="981.76" r="5.2" fill="#231f20" />
<circle cx="1638.95" cy="1007.08" r="5.2" fill="#231f20" />
<circle cx="1652.95" cy="1007.08" r="5.2" fill="#231f20" />
<circle cx="1624.95" cy="1015.52" r="5.2" fill="#231f20" />
<circle cx="1631.95" cy="1032.4" r="5.2" fill="#231f20" />
<circle cx="1645.95" cy="1032.4" r="5.2" fill="#231f20" />
<circle cx="1631.95" cy="1285.6" r="5.2" fill="#231f20" />
<circle cx="1645.95" cy="1285.6" r="5.2" fill="#231f20" />
<circle cx="1624.95" cy="1302.48" r="5.2" fill="#231f20" />
<circle cx="1638.95" cy="1302.48" r="5.2" fill="#231f20" />
<circle cx="1652.95" cy="1302.48" r="5.2" fill="#231f20" />
<circle cx="1638.95" cy="1370" r="5.2" fill="#231f20" />
<rect x="1674.75" y="968.62" width="9.4" height="9.4" fill="#7b7c7f" stroke="none" stroke-width="0" />
<rect x="1674.75" y="985.5" width="9.4" height="9.4" fill="#7b7c7f" stroke="none" stroke-width="0" />
<rect x="1671.75" y="1027.7" width="9.4" height="9.4" fill="#7b7c7f" stroke="none" stroke-width="0" />
<rect x="1677.75" y="1027.7" width="9.4" height="9.4" fill="#7b7c7f" stroke="none" stroke-width="0" />
<rect x="1674.75" y="1053.02" width="9.4" height="9.4" fill="#7b7c7f" stroke="none" stroke-width="0" />
<rect x="1671.75" y="1086.78" width="9.4" height="9.4" fill="#7b7c7f" stroke="none" stroke-width="0" />
<rect x="1677.75" y="1086.78" width="9.4" height="9.4" fill="#7b7c7f" stroke="none" stroke-width="0" />
<rect x="1671.75" y="1101.97" width="9.4" height="9.4" fill="#7b7c7f" stroke="none" stroke-width="0" />
<rect x="1677.75" y="1101.97" width="9.4" height="9.4" fill="#7b7c7f" stroke="none" stroke-width="0" />
<rect x="1674.75" y="1323.1" width="9.4" height="9.4" fill="#7b7c7f" stroke="none" stroke-width="0" />
<rect x="1674.75" y="1339.98" width="9.4" height="9.4" fill="#7b7c7f" stroke="none" stroke-width="0" />
<rect x="1661.75" y="1365.3" width="9.4" height="9.4" fill="#7b7c7f" stroke="none" stroke-width="0" />
<rect x="1670.75" y="1365.3" width="9.4" height="9.4" fill="#7b7c7f" stroke="none" stroke-width="0" />
<rect x="1678.75" y="1365.3" width="9.4" height="9.4" fill="#7b7c7f" stroke="none" stroke-width="0" />
<rect x="1687.75" y="1365.3" width="9.4" height="9.4" fill="#7b7c7f" stroke="none" stroke-width="0" />
<path d="M1714.45 961.39L1725.45 961.39L1719.95 951.49Z" fill="#c6c7c9" stroke="none" stroke-width="0" />
<path d="M1711.45 978.27L1722.45 978.27L1716.95 968.37Z" fill="#c6c7c9" stroke="none" stroke-width="0" />
<path d="M1717.45 978.27L1728.45 978.27L1722.95 968.37Z" fill="#c6c7c9" stroke="none" stroke-width="0" />
<path d="M1714.45 995.15L1725.45 995.15L1719.95 985.25Z" fill="#c6c7c9" stroke="none" stroke-width="0" />
<path d="M1714.45 1003.59L1725.45 1003.59L1719.95 993.69Z" fill="#c6c7c9" stroke="none" stroke-width="0" />
<path d="M1714.45 1012.03L1725.45 1012.03L1719.95 1002.13Z" fill="#c6c7c9" stroke="none" stroke-width="0" />
<path d="M1709.45 1028.91L1720.45 1028.91L1714.95 1019.01Z" fill="#c6c7c9" stroke="none" stroke-width="0" />
<path d="M1714.45 1028.91L1725.45 1028.91L1719.95 1019.01Z" fill="#c6c7c9" stroke="none" stroke-width="0" />
<path d="M1719.45 1028.91L1730.45 1028.91L1724.95 1019.01Z" fill="#c6c7c9" stroke="none" stroke-width="0" />
<path d="M1714.45 1349.63L1725.45 1349.63L1719.95 1339.73Z" fill="#c6c7c9" stroke="none" stroke-width="0" />
<path d="M1700.45 1374.95L1711.45 1374.95L1705.95 1365.05Z" fill="#c6c7c9" stroke="none" stroke-width="0" />
<path d="M1705.45 1374.95L1716.45 1374.95L1710.95 1365.05Z" fill="#c6c7c9" stroke="none" stroke-width="0" />
<path d="M1710.45 1374.95L1721.45 1374.95L1715.95 1365.05Z" fill="#c6c7c9" stroke="none" stroke-width="0" />
<path d="M1714.45 1374.95L1725.45 1374.95L1719.95 1365.05Z" fill="#c6c7c9" stroke="none" stroke-width="0" />
<path d="M1718.45 1374.95L1729.45 1374.95L1723.95 1365.05Z" fill="#c6c7c9" stroke="none" stroke-width="0" />
<path d="M1723.45 1374.95L1734.45 1374.95L1728.95 1365.05Z" fill="#c6c7c9" stroke="none" stroke-width="0" />
<path d="M1728.45 1374.95L1739.45 1374.95L1733.95 1365.05Z" fill="#c6c7c9" stroke="none" stroke-width="0" />
<circle cx="1797.2" cy="939.56" r="5.2" fill="#231f20" />
<circle cx="1797.2" cy="981.76" r="5.2" fill="#231f20" />
<circle cx="1794.2" cy="1007.08" r="5.2" fill="#231f20" />
<circle cx="1800.2" cy="1007.08" r="5.2" fill="#231f20" />
<circle cx="1784.2" cy="1032.4" r="5.2" fill="#231f20" />
<circle cx="1791.2" cy="1032.4" r="5.2" fill="#231f20" />
<circle cx="1811.2" cy="1032.4" r="5.2" fill="#231f20" />
<circle cx="1798.2" cy="1040.84" r="5.2" fill="#231f20" />
<circle cx="1803.2" cy="1040.84" r="5.2" fill="#231f20" />
<circle cx="1791.2" cy="1049.28" r="5.2" fill="#231f20" />
<circle cx="1797.2" cy="1057.72" r="5.2" fill="#231f20" />
<circle cx="1794.2" cy="1260.28" r="5.2" fill="#231f20" />
<circle cx="1800.2" cy="1260.28" r="5.2" fill="#231f20" />
<circle cx="1784.2" cy="1277.16" r="5.2" fill="#231f20" />
<circle cx="1811.2" cy="1277.16" r="5.2" fill="#231f20" />
<circle cx="1797.2" cy="1285.6" r="5.2" fill="#231f20" />
<circle cx="1803.2" cy="1285.6" r="5.2" fill="#231f20" />
<circle cx="1797.2" cy="1302.48" r="5.2" fill="#231f20" />
<circle cx="1789.2" cy="1327.8" r="5.2" fill="#231f20" />
<circle cx="1797.2" cy="1327.8" r="5.2" fill="#231f20" />
<circle cx="1805.2" cy="1327.8" r="5.2" fill="#231f20" />
<circle cx="1797.2" cy="1370" r="5.2" fill="#231f20" />
<rect x="1833" y="968.62" width="9.4" height="9.4" fill="#7b7c7f" stroke="none" stroke-width="0" />
<rect x="1833" y="985.5" width="9.4" height="9.4" fill="#7b7c7f" stroke="none" stroke-width="0" />
<rect x="1840" y="1019.26" width="9.4" height="9.4" fill="#7b7c7f" stroke="none" stroke-width="0" />
<rect x="1833" y="1027.7" width="9.4" height="9.4" fill="#7b7c7f" stroke="none" stroke-width="0" />
<rect x="1826" y="1103.66" width="9.4" height="9.4" fill="#7b7c7f" stroke="none" stroke-width="0" />
<rect x="1840" y="1112.1" width="9.4" height="9.4" fill="#7b7c7f" stroke="none" stroke-width="0" />
<rect x="1820" y="1339.98" width="9.4" height="9.4" fill="#7b7c7f" stroke="none" stroke-width="0" />
<rect x="1829" y="1339.98" width="9.4" height="9.4" fill="#7b7c7f" stroke="none" stroke-width="0" />
<rect x="1837" y="1339.98" width="9.4" height="9.4" fill="#7b7c7f" stroke="none" stroke-width="0" />
<rect x="1846" y="1339.98" width="9.4" height="9.4" fill="#7b7c7f" stroke="none" stroke-width="0" />
<rect x="1820" y="1365.3" width="9.4" height="9.4" fill="#7b7c7f" stroke="none" stroke-width="0" />
<rect x="1829" y="1365.3" width="9.4" height="9.4" fill="#7b7c7f" stroke="none" stroke-width="0" />
<rect x="1837" y="1365.3" width="9.4" height="9.4" fill="#7b7c7f" stroke="none" stroke-width="0" />
<rect x="1846" y="1365.3" width="9.4" height="9.4" fill="#7b7c7f" stroke="none" stroke-width="0" />
<path d="M1872.7 986.71L1883.7 986.71L1878.2 976.81Z" fill="#c6c7c9" stroke="none" stroke-width="0" />
<path d="M1872.7 1003.59L1883.7 1003.59L1878.2 993.69Z" fill="#c6c7c9" stroke="none" stroke-width="0" />
<path d="M1872.7 1037.35L1883.7 1037.35L1878.2 1027.45Z" fill="#c6c7c9" stroke="none" stroke-width="0" />
<path d="M1860.7 1054.23L1871.7 1054.23L1866.2 1044.33Z" fill="#c6c7c9" stroke="none" stroke-width="0" />
<path d="M1866.7 1054.23L1877.7 1054.23L1872.2 1044.33Z" fill="#c6c7c9" stroke="none" stroke-width="0" />
<path d="M1886.7 1054.23L1897.7 1054.23L1892.2 1044.33Z" fill="#c6c7c9" stroke="none" stroke-width="0" />
<path d="M1879.7 1062.67L1890.7 1062.67L1885.2 1052.77Z" fill="#c6c7c9" stroke="none" stroke-width="0" />
<path d="M1860.7 1071.11L1871.7 1071.11L1866.2 1061.21Z" fill="#c6c7c9" stroke="none" stroke-width="0" />
<path d="M1866.7 1071.11L1877.7 1071.11L1872.2 1061.21Z" fill="#c6c7c9" stroke="none" stroke-width="0" />
<path d="M1872.7 1071.11L1883.7 1071.11L1878.2 1061.21Z" fill="#c6c7c9" stroke="none" stroke-width="0" />
<path d="M1869.7 1315.87L1880.7 1315.87L1875.2 1305.97Z" fill="#c6c7c9" stroke="none" stroke-width="0" />
<path d="M1875.7 1315.87L1886.7 1315.87L1881.2 1305.97Z" fill="#c6c7c9" stroke="none" stroke-width="0" />
<path d="M1865.7 1332.75L1876.7 1332.75L1871.2 1322.85Z" fill="#c6c7c9" stroke="none" stroke-width="0" />
<path d="M1872.7 1332.75L1883.7 1332.75L1878.2 1322.85Z" fill="#c6c7c9" stroke="none" stroke-width="0" />
<path d="M1879.7 1332.75L1890.7 1332.75L1885.2 1322.85Z" fill="#c6c7c9" stroke="none" stroke-width="0" />
<path d="M1872.7 1349.63L1883.7 1349.63L1878.2 1339.73Z" fill="#c6c7c9" stroke="none" stroke-width="0" />
<path d="M1858.7 1374.95L1869.7 1374.95L1864.2 1365.05Z" fill="#c6c7c9" stroke="none" stroke-width="0" />
<path d="M1865.7 1374.95L1876.7 1374.95L1871.2 1365.05Z" fill="#c6c7c9" stroke="none" stroke-width="0" />
<path d="M1872.7 1374.95L1883.7 1374.95L1878.2 1365.05Z" fill="#c6c7c9" stroke="none" stroke-width="0" />
<path d="M1879.7 1374.95L1890.7 1374.95L1885.2 1365.05Z" fill="#c6c7c9" stroke="none" stroke-width="0" />
<path d="M1886.7 1374.95L1897.7 1374.95L1892.2 1365.05Z" fill="#c6c7c9" stroke="none" stroke-width="0" />
<text x="1163.8" y="938.3" font-size="36" text-anchor="middle">a</text>
<text x="1205.3" y="964" font-size="36" text-anchor="middle">b</text>
<text x="1244.9" y="935.5" font-size="36" text-anchor="middle">b</text>
<text x="1321" y="900.3" font-size="36" text-anchor="middle">a</text>
<text x="1362" y="943" font-size="36" text-anchor="middle">a</text>
<text x="1402.6" y="958.2" font-size="36" text-anchor="middle">a</text>
<text x="1479.5" y="967.3" font-size="36" text-anchor="middle">a</text>
<text x="1520.2" y="936.9" font-size="36" text-anchor="middle">b</text>
<text x="1561.7" y="934.7" font-size="36" text-anchor="middle">a</text>
<text x="1638.7" y="866.3" font-size="36" text-anchor="middle">a</text>
<text x="1678" y="935.5" font-size="36" text-anchor="middle">b</text>
<text x="1718.7" y="903.7" font-size="36" text-anchor="middle">a</text>
<text x="1796.8" y="903.7" font-size="36" text-anchor="middle">a</text>
<text x="1837.2" y="942.4" font-size="36" text-anchor="middle">b</text>
<text x="1877.9" y="938.3" font-size="36" text-anchor="middle">a</text>
<text x="1212.7" y="1418" font-size="42" text-anchor="end" transform="rotate(-45 1212.7 1418)">Col-0</text>
<text x="1370.95" y="1418" font-size="42" text-anchor="end" transform="rotate(-45 1370.95 1418)"><tspan font-style="italic">fls2</tspan></text>
<text x="1529.2" y="1418" font-size="42" text-anchor="end" transform="rotate(-45 1529.2 1418)"><tspan font-style="italic">net4a</tspan> (SALK)</text>
<text x="1687.45" y="1418" font-size="42" text-anchor="end" transform="rotate(-45 1687.45 1418)"><tspan font-style="italic">net4a</tspan> (SAIL)</text>
<text x="1845.7" y="1418" font-size="42" text-anchor="end" transform="rotate(-45 1845.7 1418)"><tspan font-style="italic">net4b</tspan> (kd)</text>
<text x="0" y="1528.5" font-size="53" font-weight="bold">e</text>
<line x1="185.3" y1="1513.1" x2="185.3" y2="2037.8" stroke="#231f20" stroke-width="2" stroke-linecap="butt"/>
<line x1="169.2" y1="2021.3" x2="947.5" y2="2021.3" stroke="#231f20" stroke-width="2" stroke-linecap="butt"/>
<line x1="169.2" y1="2021.3" x2="185.3" y2="2021.3" stroke="#231f20" stroke-width="2" stroke-linecap="butt"/>
<text x="164.3" y="2032.9" font-size="32.5" text-anchor="end">0</text>
<line x1="169.2" y1="1957.9" x2="185.3" y2="1957.9" stroke="#231f20" stroke-width="2" stroke-linecap="butt"/>
<text x="164.3" y="1969.5" font-size="32.5" text-anchor="end">200</text>
<line x1="169.2" y1="1894.5" x2="185.3" y2="1894.5" stroke="#231f20" stroke-width="2" stroke-linecap="butt"/>
<text x="164.3" y="1906.1" font-size="32.5" text-anchor="end">400</text>
<line x1="169.2" y1="1831.1" x2="185.3" y2="1831.1" stroke="#231f20" stroke-width="2" stroke-linecap="butt"/>
<text x="164.3" y="1842.7" font-size="32.5" text-anchor="end">600</text>
<line x1="169.2" y1="1767.7" x2="185.3" y2="1767.7" stroke="#231f20" stroke-width="2" stroke-linecap="butt"/>
<text x="164.3" y="1779.3" font-size="32.5" text-anchor="end">800</text>
<line x1="169.2" y1="1704.3" x2="185.3" y2="1704.3" stroke="#231f20" stroke-width="2" stroke-linecap="butt"/>
<text x="164.3" y="1715.9" font-size="32.5" text-anchor="end">1000</text>
<line x1="169.2" y1="1640.9" x2="185.3" y2="1640.9" stroke="#231f20" stroke-width="2" stroke-linecap="butt"/>
<text x="164.3" y="1652.5" font-size="32.5" text-anchor="end">1200</text>
<line x1="169.2" y1="1577.5" x2="185.3" y2="1577.5" stroke="#231f20" stroke-width="2" stroke-linecap="butt"/>
<text x="164.3" y="1589.1" font-size="32.5" text-anchor="end">1400</text>
<line x1="169.2" y1="1514.1" x2="185.3" y2="1514.1" stroke="#231f20" stroke-width="2" stroke-linecap="butt"/>
<text x="164.3" y="1525.7" font-size="32.5" text-anchor="end">1600</text>
<line x1="204.3" y1="2021.3" x2="204.3" y2="2029.5" stroke="#231f20" stroke-width="2" stroke-linecap="butt"/>
<line x1="223.3" y1="2021.3" x2="223.3" y2="2029.5" stroke="#231f20" stroke-width="2" stroke-linecap="butt"/>
<line x1="242.3" y1="2021.3" x2="242.3" y2="2029.5" stroke="#231f20" stroke-width="2" stroke-linecap="butt"/>
<line x1="261.3" y1="2021.3" x2="261.3" y2="2029.5" stroke="#231f20" stroke-width="2" stroke-linecap="butt"/>
<line x1="280.3" y1="2021.3" x2="280.3" y2="2029.5" stroke="#231f20" stroke-width="2" stroke-linecap="butt"/>
<line x1="299.3" y1="2021.3" x2="299.3" y2="2029.5" stroke="#231f20" stroke-width="2" stroke-linecap="butt"/>
<line x1="318.3" y1="2021.3" x2="318.3" y2="2029.5" stroke="#231f20" stroke-width="2" stroke-linecap="butt"/>
<line x1="337.3" y1="2021.3" x2="337.3" y2="2029.5" stroke="#231f20" stroke-width="2" stroke-linecap="butt"/>
<line x1="356.3" y1="2021.3" x2="356.3" y2="2029.5" stroke="#231f20" stroke-width="2" stroke-linecap="butt"/>
<line x1="375.3" y1="2021.3" x2="375.3" y2="2037.8" stroke="#231f20" stroke-width="2" stroke-linecap="butt"/>
<line x1="394.3" y1="2021.3" x2="394.3" y2="2029.5" stroke="#231f20" stroke-width="2" stroke-linecap="butt"/>
<line x1="413.3" y1="2021.3" x2="413.3" y2="2029.5" stroke="#231f20" stroke-width="2" stroke-linecap="butt"/>
<line x1="432.3" y1="2021.3" x2="432.3" y2="2029.5" stroke="#231f20" stroke-width="2" stroke-linecap="butt"/>
<line x1="451.3" y1="2021.3" x2="451.3" y2="2029.5" stroke="#231f20" stroke-width="2" stroke-linecap="butt"/>
<line x1="470.3" y1="2021.3" x2="470.3" y2="2029.5" stroke="#231f20" stroke-width="2" stroke-linecap="butt"/>
<line x1="489.3" y1="2021.3" x2="489.3" y2="2029.5" stroke="#231f20" stroke-width="2" stroke-linecap="butt"/>
<line x1="508.3" y1="2021.3" x2="508.3" y2="2029.5" stroke="#231f20" stroke-width="2" stroke-linecap="butt"/>
<line x1="527.3" y1="2021.3" x2="527.3" y2="2029.5" stroke="#231f20" stroke-width="2" stroke-linecap="butt"/>
<line x1="546.3" y1="2021.3" x2="546.3" y2="2029.5" stroke="#231f20" stroke-width="2" stroke-linecap="butt"/>
<line x1="565.3" y1="2021.3" x2="565.3" y2="2037.8" stroke="#231f20" stroke-width="2" stroke-linecap="butt"/>
<line x1="584.3" y1="2021.3" x2="584.3" y2="2029.5" stroke="#231f20" stroke-width="2" stroke-linecap="butt"/>
<line x1="603.3" y1="2021.3" x2="603.3" y2="2029.5" stroke="#231f20" stroke-width="2" stroke-linecap="butt"/>
<line x1="622.3" y1="2021.3" x2="622.3" y2="2029.5" stroke="#231f20" stroke-width="2" stroke-linecap="butt"/>
<line x1="641.3" y1="2021.3" x2="641.3" y2="2029.5" stroke="#231f20" stroke-width="2" stroke-linecap="butt"/>
<line x1="660.3" y1="2021.3" x2="660.3" y2="2029.5" stroke="#231f20" stroke-width="2" stroke-linecap="butt"/>
<line x1="679.3" y1="2021.3" x2="679.3" y2="2029.5" stroke="#231f20" stroke-width="2" stroke-linecap="butt"/>
<line x1="698.3" y1="2021.3" x2="698.3" y2="2029.5" stroke="#231f20" stroke-width="2" stroke-linecap="butt"/>
<line x1="717.3" y1="2021.3" x2="717.3" y2="2029.5" stroke="#231f20" stroke-width="2" stroke-linecap="butt"/>
<line x1="736.3" y1="2021.3" x2="736.3" y2="2029.5" stroke="#231f20" stroke-width="2" stroke-linecap="butt"/>
<line x1="755.3" y1="2021.3" x2="755.3" y2="2037.8" stroke="#231f20" stroke-width="2" stroke-linecap="butt"/>
<line x1="774.3" y1="2021.3" x2="774.3" y2="2029.5" stroke="#231f20" stroke-width="2" stroke-linecap="butt"/>
<line x1="793.3" y1="2021.3" x2="793.3" y2="2029.5" stroke="#231f20" stroke-width="2" stroke-linecap="butt"/>
<line x1="812.3" y1="2021.3" x2="812.3" y2="2029.5" stroke="#231f20" stroke-width="2" stroke-linecap="butt"/>
<line x1="831.3" y1="2021.3" x2="831.3" y2="2029.5" stroke="#231f20" stroke-width="2" stroke-linecap="butt"/>
<line x1="850.3" y1="2021.3" x2="850.3" y2="2029.5" stroke="#231f20" stroke-width="2" stroke-linecap="butt"/>
<line x1="869.3" y1="2021.3" x2="869.3" y2="2029.5" stroke="#231f20" stroke-width="2" stroke-linecap="butt"/>
<line x1="888.3" y1="2021.3" x2="888.3" y2="2029.5" stroke="#231f20" stroke-width="2" stroke-linecap="butt"/>
<line x1="907.3" y1="2021.3" x2="907.3" y2="2029.5" stroke="#231f20" stroke-width="2" stroke-linecap="butt"/>
<line x1="926.3" y1="2021.3" x2="926.3" y2="2029.5" stroke="#231f20" stroke-width="2" stroke-linecap="butt"/>
<line x1="945.3" y1="2021.3" x2="945.3" y2="2037.8" stroke="#231f20" stroke-width="2" stroke-linecap="butt"/>
<text x="185.3" y="2072.6" font-size="32.5" text-anchor="middle">0</text>
<text x="375.3" y="2072.6" font-size="32.5" text-anchor="middle">10</text>
<text x="565.3" y="2072.6" font-size="32.5" text-anchor="middle">20</text>
<text x="755.3" y="2072.6" font-size="32.5" text-anchor="middle">30</text>
<text x="945.3" y="2072.6" font-size="32.5" text-anchor="middle">40</text>
<text x="565.5" y="2113.5" font-size="34" text-anchor="middle">Time (min)</text>
<text x="57" y="1762.5" font-size="34" text-anchor="middle" transform="rotate(-90 57 1762.5)">Photon counts (RLU)</text>
<rect x="196.3" y="1929.3" width="16" height="16" fill="#c8c9cb" stroke="none" stroke-width="0" />
<rect x="215.3" y="1976.85" width="16" height="16" fill="#c8c9cb" stroke="none" stroke-width="0" />
<rect x="234.3" y="1988.57" width="16" height="16" fill="#c8c9cb" stroke="none" stroke-width="0" />
<rect x="253.3" y="1993.65" width="16" height="16" fill="#c8c9cb" stroke="none" stroke-width="0" />
<rect x="272.3" y="1997.45" width="16" height="16" fill="#c8c9cb" stroke="none" stroke-width="0" />
<rect x="291.3" y="1999.35" width="16" height="16" fill="#c8c9cb" stroke="none" stroke-width="0" />
<rect x="310.3" y="1999.99" width="16" height="16" fill="#c8c9cb" stroke="none" stroke-width="0" />
<rect x="329.3" y="2000.62" width="16" height="16" fill="#c8c9cb" stroke="none" stroke-width="0" />
<rect x="348.3" y="2001.25" width="16" height="16" fill="#c8c9cb" stroke="none" stroke-width="0" />
<rect x="367.3" y="2001.57" width="16" height="16" fill="#c8c9cb" stroke="none" stroke-width="0" />
<rect x="386.3" y="2001.57" width="16" height="16" fill="#c8c9cb" stroke="none" stroke-width="0" />
<rect x="405.3" y="2001.89" width="16" height="16" fill="#c8c9cb" stroke="none" stroke-width="0" />
<rect x="424.3" y="2002.2" width="16" height="16" fill="#c8c9cb" stroke="none" stroke-width="0" />
<rect x="443.3" y="2002.2" width="16" height="16" fill="#c8c9cb" stroke="none" stroke-width="0" />
<rect x="462.3" y="2002.52" width="16" height="16" fill="#c8c9cb" stroke="none" stroke-width="0" />
<rect x="481.3" y="2002.84" width="16" height="16" fill="#c8c9cb" stroke="none" stroke-width="0" />
<rect x="500.3" y="2002.84" width="16" height="16" fill="#c8c9cb" stroke="none" stroke-width="0" />
<rect x="519.3" y="2003.16" width="16" height="16" fill="#c8c9cb" stroke="none" stroke-width="0" />
<rect x="538.3" y="2003.16" width="16" height="16" fill="#c8c9cb" stroke="none" stroke-width="0" />
<rect x="557.3" y="2003.47" width="16" height="16" fill="#c8c9cb" stroke="none" stroke-width="0" />
<rect x="576.3" y="2003.47" width="16" height="16" fill="#c8c9cb" stroke="none" stroke-width="0" />
<rect x="595.3" y="2003.79" width="16" height="16" fill="#c8c9cb" stroke="none" stroke-width="0" />
<rect x="614.3" y="2003.79" width="16" height="16" fill="#c8c9cb" stroke="none" stroke-width="0" />
<rect x="633.3" y="2004.11" width="16" height="16" fill="#c8c9cb" stroke="none" stroke-width="0" />
<rect x="652.3" y="2004.11" width="16" height="16" fill="#c8c9cb" stroke="none" stroke-width="0" />
<rect x="671.3" y="2004.42" width="16" height="16" fill="#c8c9cb" stroke="none" stroke-width="0" />
<rect x="690.3" y="2004.42" width="16" height="16" fill="#c8c9cb" stroke="none" stroke-width="0" />
<rect x="709.3" y="2004.74" width="16" height="16" fill="#c8c9cb" stroke="none" stroke-width="0" />
<rect x="728.3" y="2004.74" width="16" height="16" fill="#c8c9cb" stroke="none" stroke-width="0" />
<rect x="747.3" y="2005.06" width="16" height="16" fill="#c8c9cb" stroke="none" stroke-width="0" />
<rect x="766.3" y="2005.06" width="16" height="16" fill="#c8c9cb" stroke="none" stroke-width="0" />
<rect x="785.3" y="2005.38" width="16" height="16" fill="#c8c9cb" stroke="none" stroke-width="0" />
<rect x="804.3" y="2005.38" width="16" height="16" fill="#c8c9cb" stroke="none" stroke-width="0" />
<rect x="823.3" y="2005.69" width="16" height="16" fill="#c8c9cb" stroke="none" stroke-width="0" />
<rect x="842.3" y="2005.69" width="16" height="16" fill="#c8c9cb" stroke="none" stroke-width="0" />
<rect x="861.3" y="2006.01" width="16" height="16" fill="#c8c9cb" stroke="none" stroke-width="0" />
<rect x="880.3" y="2006.01" width="16" height="16" fill="#c8c9cb" stroke="none" stroke-width="0" />
<rect x="899.3" y="2006.33" width="16" height="16" fill="#c8c9cb" stroke="none" stroke-width="0" />
<rect x="918.3" y="2006.33" width="16" height="16" fill="#c8c9cb" stroke="none" stroke-width="0" />
<rect x="937.3" y="2006.64" width="16" height="16" fill="#c8c9cb" stroke="none" stroke-width="0" />
<line x1="261.3" y1="1970.9" x2="261.3" y2="1986.75" stroke="#98999c" stroke-width="1.8" stroke-linecap="butt"/>
<line x1="250.3" y1="1970.9" x2="272.3" y2="1970.9" stroke="#98999c" stroke-width="1.8" stroke-linecap="butt"/>
<line x1="250.3" y1="1986.75" x2="272.3" y2="1986.75" stroke="#98999c" stroke-width="1.8" stroke-linecap="butt"/>
<line x1="280.3" y1="1893.23" x2="280.3" y2="1981.99" stroke="#98999c" stroke-width="1.8" stroke-linecap="butt"/>
<line x1="269.3" y1="1893.23" x2="291.3" y2="1893.23" stroke="#98999c" stroke-width="1.8" stroke-linecap="butt"/>
<line x1="269.3" y1="1981.99" x2="291.3" y2="1981.99" stroke="#98999c" stroke-width="1.8" stroke-linecap="butt"/>
<line x1="299.3" y1="1820" x2="299.3" y2="1962.65" stroke="#98999c" stroke-width="1.8" stroke-linecap="butt"/>
<line x1="288.3" y1="1820" x2="310.3" y2="1820" stroke="#98999c" stroke-width="1.8" stroke-linecap="butt"/>
<line x1="288.3" y1="1962.65" x2="310.3" y2="1962.65" stroke="#98999c" stroke-width="1.8" stroke-linecap="butt"/>
<line x1="318.3" y1="1760.41" x2="318.3" y2="1939.83" stroke="#98999c" stroke-width="1.8" stroke-linecap="butt"/>
<line x1="307.3" y1="1760.41" x2="329.3" y2="1760.41" stroke="#98999c" stroke-width="1.8" stroke-linecap="butt"/>
<line x1="307.3" y1="1939.83" x2="329.3" y2="1939.83" stroke="#98999c" stroke-width="1.8" stroke-linecap="butt"/>
<line x1="337.3" y1="1711.27" x2="337.3" y2="1917.32" stroke="#98999c" stroke-width="1.8" stroke-linecap="butt"/>
<line x1="326.3" y1="1711.27" x2="348.3" y2="1711.27" stroke="#98999c" stroke-width="1.8" stroke-linecap="butt"/>
<line x1="326.3" y1="1917.32" x2="348.3" y2="1917.32" stroke="#98999c" stroke-width="1.8" stroke-linecap="butt"/>
<line x1="356.3" y1="1673.87" x2="356.3" y2="1897.04" stroke="#98999c" stroke-width="1.8" stroke-linecap="butt"/>
<line x1="345.3" y1="1673.87" x2="367.3" y2="1673.87" stroke="#98999c" stroke-width="1.8" stroke-linecap="butt"/>
<line x1="345.3" y1="1897.04" x2="367.3" y2="1897.04" stroke="#98999c" stroke-width="1.8" stroke-linecap="butt"/>
<line x1="375.3" y1="1653.58" x2="375.3" y2="1873.58" stroke="#98999c" stroke-width="1.8" stroke-linecap="butt"/>
<line x1="364.3" y1="1653.58" x2="386.3" y2="1653.58" stroke="#98999c" stroke-width="1.8" stroke-linecap="butt"/>
<line x1="364.3" y1="1873.58" x2="386.3" y2="1873.58" stroke="#98999c" stroke-width="1.8" stroke-linecap="butt"/>
<line x1="394.3" y1="1632.34" x2="394.3" y2="1856.14" stroke="#98999c" stroke-width="1.8" stroke-linecap="butt"/>
<line x1="383.3" y1="1632.34" x2="405.3" y2="1632.34" stroke="#98999c" stroke-width="1.8" stroke-linecap="butt"/>
<line x1="383.3" y1="1856.14" x2="405.3" y2="1856.14" stroke="#98999c" stroke-width="1.8" stroke-linecap="butt"/>
<line x1="413.3" y1="1626.63" x2="413.3" y2="1845.37" stroke="#98999c" stroke-width="1.8" stroke-linecap="butt"/>
<line x1="402.3" y1="1626.63" x2="424.3" y2="1626.63" stroke="#98999c" stroke-width="1.8" stroke-linecap="butt"/>
<line x1="402.3" y1="1845.37" x2="424.3" y2="1845.37" stroke="#98999c" stroke-width="1.8" stroke-linecap="butt"/>
<line x1="432.3" y1="1621.56" x2="432.3" y2="1840.29" stroke="#98999c" stroke-width="1.8" stroke-linecap="butt"/>
<line x1="421.3" y1="1621.56" x2="443.3" y2="1621.56" stroke="#98999c" stroke-width="1.8" stroke-linecap="butt"/>
<line x1="421.3" y1="1840.29" x2="443.3" y2="1840.29" stroke="#98999c" stroke-width="1.8" stroke-linecap="butt"/>
<line x1="451.3" y1="1623.46" x2="451.3" y2="1840.29" stroke="#98999c" stroke-width="1.8" stroke-linecap="butt"/>
<line x1="440.3" y1="1623.46" x2="462.3" y2="1623.46" stroke="#98999c" stroke-width="1.8" stroke-linecap="butt"/>
<line x1="440.3" y1="1840.29" x2="462.3" y2="1840.29" stroke="#98999c" stroke-width="1.8" stroke-linecap="butt"/>
<line x1="470.3" y1="1632.66" x2="470.3" y2="1837.44" stroke="#98999c" stroke-width="1.8" stroke-linecap="butt"/>
<line x1="459.3" y1="1632.66" x2="481.3" y2="1632.66" stroke="#98999c" stroke-width="1.8" stroke-linecap="butt"/>
<line x1="459.3" y1="1837.44" x2="481.3" y2="1837.44" stroke="#98999c" stroke-width="1.8" stroke-linecap="butt"/>
<line x1="489.3" y1="1644.39" x2="489.3" y2="1845.37" stroke="#98999c" stroke-width="1.8" stroke-linecap="butt"/>
<line x1="478.3" y1="1644.39" x2="500.3" y2="1644.39" stroke="#98999c" stroke-width="1.8" stroke-linecap="butt"/>
<line x1="478.3" y1="1845.37" x2="500.3" y2="1845.37" stroke="#98999c" stroke-width="1.8" stroke-linecap="butt"/>
<line x1="508.3" y1="1658.97" x2="508.3" y2="1849.17" stroke="#98999c" stroke-width="1.8" stroke-linecap="butt"/>
<line x1="497.3" y1="1658.97" x2="519.3" y2="1658.97" stroke="#98999c" stroke-width="1.8" stroke-linecap="butt"/>
<line x1="497.3" y1="1849.17" x2="519.3" y2="1849.17" stroke="#98999c" stroke-width="1.8" stroke-linecap="butt"/>
<line x1="527.3" y1="1680.21" x2="527.3" y2="1857.73" stroke="#98999c" stroke-width="1.8" stroke-linecap="butt"/>
<line x1="516.3" y1="1680.21" x2="538.3" y2="1680.21" stroke="#98999c" stroke-width="1.8" stroke-linecap="butt"/>
<line x1="516.3" y1="1857.73" x2="538.3" y2="1857.73" stroke="#98999c" stroke-width="1.8" stroke-linecap="butt"/>
<line x1="546.3" y1="1696.38" x2="546.3" y2="1864.38" stroke="#98999c" stroke-width="1.8" stroke-linecap="butt"/>
<line x1="535.3" y1="1696.38" x2="557.3" y2="1696.38" stroke="#98999c" stroke-width="1.8" stroke-linecap="butt"/>
<line x1="535.3" y1="1864.38" x2="557.3" y2="1864.38" stroke="#98999c" stroke-width="1.8" stroke-linecap="butt"/>
<line x1="565.3" y1="1715.39" x2="565.3" y2="1875.8" stroke="#98999c" stroke-width="1.8" stroke-linecap="butt"/>
<line x1="554.3" y1="1715.39" x2="576.3" y2="1715.39" stroke="#98999c" stroke-width="1.8" stroke-linecap="butt"/>
<line x1="554.3" y1="1875.8" x2="576.3" y2="1875.8" stroke="#98999c" stroke-width="1.8" stroke-linecap="butt"/>
<line x1="584.3" y1="1730.93" x2="584.3" y2="1884.36" stroke="#98999c" stroke-width="1.8" stroke-linecap="butt"/>
<line x1="573.3" y1="1730.93" x2="595.3" y2="1730.93" stroke="#98999c" stroke-width="1.8" stroke-linecap="butt"/>
<line x1="573.3" y1="1884.36" x2="595.3" y2="1884.36" stroke="#98999c" stroke-width="1.8" stroke-linecap="butt"/>
<line x1="603.3" y1="1749.63" x2="603.3" y2="1896.09" stroke="#98999c" stroke-width="1.8" stroke-linecap="butt"/>
<line x1="592.3" y1="1749.63" x2="614.3" y2="1749.63" stroke="#98999c" stroke-width="1.8" stroke-linecap="butt"/>
<line x1="592.3" y1="1896.09" x2="614.3" y2="1896.09" stroke="#98999c" stroke-width="1.8" stroke-linecap="butt"/>
<line x1="622.3" y1="1767.07" x2="622.3" y2="1907.81" stroke="#98999c" stroke-width="1.8" stroke-linecap="butt"/>
<line x1="611.3" y1="1767.07" x2="633.3" y2="1767.07" stroke="#98999c" stroke-width="1.8" stroke-linecap="butt"/>
<line x1="611.3" y1="1907.81" x2="633.3" y2="1907.81" stroke="#98999c" stroke-width="1.8" stroke-linecap="butt"/>
<line x1="641.3" y1="1795.91" x2="641.3" y2="1917.01" stroke="#98999c" stroke-width="1.8" stroke-linecap="butt"/>
<line x1="630.3" y1="1795.91" x2="652.3" y2="1795.91" stroke="#98999c" stroke-width="1.8" stroke-linecap="butt"/>
<line x1="630.3" y1="1917.01" x2="652.3" y2="1917.01" stroke="#98999c" stroke-width="1.8" stroke-linecap="butt"/>
<line x1="660.3" y1="1813.66" x2="660.3" y2="1929.69" stroke="#98999c" stroke-width="1.8" stroke-linecap="butt"/>
<line x1="649.3" y1="1813.66" x2="671.3" y2="1813.66" stroke="#98999c" stroke-width="1.8" stroke-linecap="butt"/>
<line x1="649.3" y1="1929.69" x2="671.3" y2="1929.69" stroke="#98999c" stroke-width="1.8" stroke-linecap="butt"/>
<line x1="679.3" y1="1826.98" x2="679.3" y2="1938.56" stroke="#98999c" stroke-width="1.8" stroke-linecap="butt"/>
<line x1="668.3" y1="1826.98" x2="690.3" y2="1826.98" stroke="#98999c" stroke-width="1.8" stroke-linecap="butt"/>
<line x1="668.3" y1="1938.56" x2="690.3" y2="1938.56" stroke="#98999c" stroke-width="1.8" stroke-linecap="butt"/>
<line x1="698.3" y1="1845.37" x2="698.3" y2="1949.97" stroke="#98999c" stroke-width="1.8" stroke-linecap="butt"/>
<line x1="687.3" y1="1845.37" x2="709.3" y2="1845.37" stroke="#98999c" stroke-width="1.8" stroke-linecap="butt"/>
<line x1="687.3" y1="1949.97" x2="709.3" y2="1949.97" stroke="#98999c" stroke-width="1.8" stroke-linecap="butt"/>
<line x1="717.3" y1="1863.12" x2="717.3" y2="1958.85" stroke="#98999c" stroke-width="1.8" stroke-linecap="butt"/>
<line x1="706.3" y1="1863.12" x2="728.3" y2="1863.12" stroke="#98999c" stroke-width="1.8" stroke-linecap="butt"/>
<line x1="706.3" y1="1958.85" x2="728.3" y2="1958.85" stroke="#98999c" stroke-width="1.8" stroke-linecap="butt"/>
<line x1="736.3" y1="1878.97" x2="736.3" y2="1967.09" stroke="#98999c" stroke-width="1.8" stroke-linecap="butt"/>
<line x1="725.3" y1="1878.97" x2="747.3" y2="1878.97" stroke="#98999c" stroke-width="1.8" stroke-linecap="butt"/>
<line x1="725.3" y1="1967.09" x2="747.3" y2="1967.09" stroke="#98999c" stroke-width="1.8" stroke-linecap="butt"/>
<line x1="755.3" y1="1896.09" x2="755.3" y2="1975.34" stroke="#98999c" stroke-width="1.8" stroke-linecap="butt"/>
<line x1="744.3" y1="1896.09" x2="766.3" y2="1896.09" stroke="#98999c" stroke-width="1.8" stroke-linecap="butt"/>
<line x1="744.3" y1="1975.34" x2="766.3" y2="1975.34" stroke="#98999c" stroke-width="1.8" stroke-linecap="butt"/>
<line x1="774.3" y1="1907.81" x2="774.3" y2="1985.8" stroke="#98999c" stroke-width="1.8" stroke-linecap="butt"/>
<line x1="763.3" y1="1907.81" x2="785.3" y2="1907.81" stroke="#98999c" stroke-width="1.8" stroke-linecap="butt"/>
<line x1="763.3" y1="1985.8" x2="785.3" y2="1985.8" stroke="#98999c" stroke-width="1.8" stroke-linecap="butt"/>
<line x1="793.3" y1="1921.76" x2="793.3" y2="1989.6" stroke="#98999c" stroke-width="1.8" stroke-linecap="butt"/>
<line x1="782.3" y1="1921.76" x2="804.3" y2="1921.76" stroke="#98999c" stroke-width="1.8" stroke-linecap="butt"/>
<line x1="782.3" y1="1989.6" x2="804.3" y2="1989.6" stroke="#98999c" stroke-width="1.8" stroke-linecap="butt"/>
<line x1="812.3" y1="1933.49" x2="812.3" y2="1991.82" stroke="#98999c" stroke-width="1.8" stroke-linecap="butt"/>
<line x1="801.3" y1="1933.49" x2="823.3" y2="1933.49" stroke="#98999c" stroke-width="1.8" stroke-linecap="butt"/>
<line x1="801.3" y1="1991.82" x2="823.3" y2="1991.82" stroke="#98999c" stroke-width="1.8" stroke-linecap="butt"/>
<line x1="831.3" y1="1945.22" x2="831.3" y2="1995.94" stroke="#98999c" stroke-width="1.8" stroke-linecap="butt"/>
<line x1="820.3" y1="1945.22" x2="842.3" y2="1945.22" stroke="#98999c" stroke-width="1.8" stroke-linecap="butt"/>
<line x1="820.3" y1="1995.94" x2="842.3" y2="1995.94" stroke="#98999c" stroke-width="1.8" stroke-linecap="butt"/>
<line x1="850.3" y1="1954.73" x2="850.3" y2="1997.21" stroke="#98999c" stroke-width="1.8" stroke-linecap="butt"/>
<line x1="839.3" y1="1954.73" x2="861.3" y2="1954.73" stroke="#98999c" stroke-width="1.8" stroke-linecap="butt"/>
<line x1="839.3" y1="1997.21" x2="861.3" y2="1997.21" stroke="#98999c" stroke-width="1.8" stroke-linecap="butt"/>
<line x1="869.3" y1="1961.7" x2="869.3" y2="2001.01" stroke="#98999c" stroke-width="1.8" stroke-linecap="butt"/>
<line x1="858.3" y1="1961.7" x2="880.3" y2="1961.7" stroke="#98999c" stroke-width="1.8" stroke-linecap="butt"/>
<line x1="858.3" y1="2001.01" x2="880.3" y2="2001.01" stroke="#98999c" stroke-width="1.8" stroke-linecap="butt"/>
<line x1="888.3" y1="1969.63" x2="888.3" y2="2003.87" stroke="#98999c" stroke-width="1.8" stroke-linecap="butt"/>
<line x1="877.3" y1="1969.63" x2="899.3" y2="1969.63" stroke="#98999c" stroke-width="1.8" stroke-linecap="butt"/>
<line x1="877.3" y1="2003.87" x2="899.3" y2="2003.87" stroke="#98999c" stroke-width="1.8" stroke-linecap="butt"/>
<line x1="907.3" y1="1977.55" x2="907.3" y2="2004.18" stroke="#98999c" stroke-width="1.8" stroke-linecap="butt"/>
<line x1="896.3" y1="1977.55" x2="918.3" y2="1977.55" stroke="#98999c" stroke-width="1.8" stroke-linecap="butt"/>
<line x1="896.3" y1="2004.18" x2="918.3" y2="2004.18" stroke="#98999c" stroke-width="1.8" stroke-linecap="butt"/>
<line x1="926.3" y1="1981.36" x2="926.3" y2="2004.82" stroke="#98999c" stroke-width="1.8" stroke-linecap="butt"/>
<line x1="915.3" y1="1981.36" x2="937.3" y2="1981.36" stroke="#98999c" stroke-width="1.8" stroke-linecap="butt"/>
<line x1="915.3" y1="2004.82" x2="937.3" y2="2004.82" stroke="#98999c" stroke-width="1.8" stroke-linecap="butt"/>
<line x1="945.3" y1="1985.48" x2="945.3" y2="2003.87" stroke="#98999c" stroke-width="1.8" stroke-linecap="butt"/>
<line x1="934.3" y1="1985.48" x2="956.3" y2="1985.48" stroke="#98999c" stroke-width="1.8" stroke-linecap="butt"/>
<line x1="934.3" y1="2003.87" x2="956.3" y2="2003.87" stroke="#98999c" stroke-width="1.8" stroke-linecap="butt"/>
<path d="M193.5 1936.45L215.1 1936.45L204.3 1916.45Z" fill="#8f9093" stroke="none" stroke-width="0" />
<path d="M212.5 1984.63L234.1 1984.63L223.3 1964.63Z" fill="#8f9093" stroke="none" stroke-width="0" />
<path d="M231.5 1998.9L253.1 1998.9L242.3 1978.9Z" fill="#8f9093" stroke="none" stroke-width="0" />
<path d="M250.5 1988.12L272.1 1988.12L261.3 1968.12Z" fill="#8f9093" stroke="none" stroke-width="0" />
<path d="M269.5 1946.91L291.1 1946.91L280.3 1926.91Z" fill="#8f9093" stroke="none" stroke-width="0" />
<path d="M288.5 1900.63L310.1 1900.63L299.3 1880.63Z" fill="#8f9093" stroke="none" stroke-width="0" />
<path d="M307.5 1859.42L329.1 1859.42L318.3 1839.42Z" fill="#8f9093" stroke="none" stroke-width="0" />
<path d="M326.5 1823.6L348.1 1823.6L337.3 1803.6Z" fill="#8f9093" stroke="none" stroke-width="0" />
<path d="M345.5 1794.75L367.1 1794.75L356.3 1774.75Z" fill="#8f9093" stroke="none" stroke-width="0" />
<path d="M364.5 1772.88L386.1 1772.88L375.3 1752.88Z" fill="#8f9093" stroke="none" stroke-width="0" />
<path d="M383.5 1753.54L405.1 1753.54L394.3 1733.54Z" fill="#8f9093" stroke="none" stroke-width="0" />
<path d="M402.5 1745.3L424.1 1745.3L413.3 1725.3Z" fill="#8f9093" stroke="none" stroke-width="0" />
<path d="M421.5 1740.23L443.1 1740.23L432.3 1720.23Z" fill="#8f9093" stroke="none" stroke-width="0" />
<path d="M440.5 1741.18L462.1 1741.18L451.3 1721.18Z" fill="#8f9093" stroke="none" stroke-width="0" />
<path d="M459.5 1744.35L481.1 1744.35L470.3 1724.35Z" fill="#8f9093" stroke="none" stroke-width="0" />
<path d="M478.5 1754.18L500.1 1754.18L489.3 1734.18Z" fill="#8f9093" stroke="none" stroke-width="0" />
<path d="M497.5 1763.37L519.1 1763.37L508.3 1743.37Z" fill="#8f9093" stroke="none" stroke-width="0" />
<path d="M516.5 1778.27L538.1 1778.27L527.3 1758.27Z" fill="#8f9093" stroke="none" stroke-width="0" />
<path d="M535.5 1789.68L557.1 1789.68L546.3 1769.68Z" fill="#8f9093" stroke="none" stroke-width="0" />
<path d="M554.5 1804.9L576.1 1804.9L565.3 1784.9Z" fill="#8f9093" stroke="none" stroke-width="0" />
<path d="M573.5 1816.94L595.1 1816.94L584.3 1796.94Z" fill="#8f9093" stroke="none" stroke-width="0" />
<path d="M592.5 1832.16L614.1 1832.16L603.3 1812.16Z" fill="#8f9093" stroke="none" stroke-width="0" />
<path d="M611.5 1846.74L633.1 1846.74L622.3 1826.74Z" fill="#8f9093" stroke="none" stroke-width="0" />
<path d="M630.5 1865.76L652.1 1865.76L641.3 1845.76Z" fill="#8f9093" stroke="none" stroke-width="0" />
<path d="M649.5 1880.98L671.1 1880.98L660.3 1860.98Z" fill="#8f9093" stroke="none" stroke-width="0" />
<path d="M668.5 1892.07L690.1 1892.07L679.3 1872.07Z" fill="#8f9093" stroke="none" stroke-width="0" />
<path d="M687.5 1906.97L709.1 1906.97L698.3 1886.97Z" fill="#8f9093" stroke="none" stroke-width="0" />
<path d="M706.5 1920.28L728.1 1920.28L717.3 1900.28Z" fill="#8f9093" stroke="none" stroke-width="0" />
<path d="M725.5 1932.33L747.1 1932.33L736.3 1912.33Z" fill="#8f9093" stroke="none" stroke-width="0" />
<path d="M744.5 1945.01L766.1 1945.01L755.3 1925.01Z" fill="#8f9093" stroke="none" stroke-width="0" />
<path d="M763.5 1956.1L785.1 1956.1L774.3 1936.1Z" fill="#8f9093" stroke="none" stroke-width="0" />
<path d="M782.5 1964.98L804.1 1964.98L793.3 1944.98Z" fill="#8f9093" stroke="none" stroke-width="0" />
<path d="M801.5 1971.95L823.1 1971.95L812.3 1951.95Z" fill="#8f9093" stroke="none" stroke-width="0" />
<path d="M820.5 1979.88L842.1 1979.88L831.3 1959.88Z" fill="#8f9093" stroke="none" stroke-width="0" />
<path d="M839.5 1985.27L861.1 1985.27L850.3 1965.27Z" fill="#8f9093" stroke="none" stroke-width="0" />
<path d="M858.5 1990.66L880.1 1990.66L869.3 1970.66Z" fill="#8f9093" stroke="none" stroke-width="0" />
<path d="M877.5 1996.05L899.1 1996.05L888.3 1976.05Z" fill="#8f9093" stroke="none" stroke-width="0" />
<path d="M896.5 2000.17L918.1 2000.17L907.3 1980.17Z" fill="#8f9093" stroke="none" stroke-width="0" />
<path d="M915.5 2002.39L937.1 2002.39L926.3 1982.39Z" fill="#8f9093" stroke="none" stroke-width="0" />
<path d="M934.5 2003.97L956.1 2003.97L945.3 1983.97Z" fill="#8f9093" stroke="none" stroke-width="0" />
<line x1="261.3" y1="1956.32" x2="261.3" y2="1979.77" stroke="#231f20" stroke-width="1.8" stroke-linecap="butt"/>
<line x1="252.3" y1="1956.32" x2="270.3" y2="1956.32" stroke="#231f20" stroke-width="1.8" stroke-linecap="butt"/>
<line x1="252.3" y1="1979.77" x2="270.3" y2="1979.77" stroke="#231f20" stroke-width="1.8" stroke-linecap="butt"/>
<line x1="280.3" y1="1886.58" x2="280.3" y2="1960.75" stroke="#231f20" stroke-width="1.8" stroke-linecap="butt"/>
<line x1="271.3" y1="1886.58" x2="289.3" y2="1886.58" stroke="#231f20" stroke-width="1.8" stroke-linecap="butt"/>
<line x1="271.3" y1="1960.75" x2="289.3" y2="1960.75" stroke="#231f20" stroke-width="1.8" stroke-linecap="butt"/>
<line x1="299.3" y1="1804.47" x2="299.3" y2="1939.51" stroke="#231f20" stroke-width="1.8" stroke-linecap="butt"/>
<line x1="290.3" y1="1804.47" x2="308.3" y2="1804.47" stroke="#231f20" stroke-width="1.8" stroke-linecap="butt"/>
<line x1="290.3" y1="1939.51" x2="308.3" y2="1939.51" stroke="#231f20" stroke-width="1.8" stroke-linecap="butt"/>
<line x1="318.3" y1="1723.95" x2="318.3" y2="1916.06" stroke="#231f20" stroke-width="1.8" stroke-linecap="butt"/>
<line x1="309.3" y1="1723.95" x2="327.3" y2="1723.95" stroke="#231f20" stroke-width="1.8" stroke-linecap="butt"/>
<line x1="309.3" y1="1916.06" x2="327.3" y2="1916.06" stroke="#231f20" stroke-width="1.8" stroke-linecap="butt"/>
<line x1="337.3" y1="1657.38" x2="337.3" y2="1891.96" stroke="#231f20" stroke-width="1.8" stroke-linecap="butt"/>
<line x1="328.3" y1="1657.38" x2="346.3" y2="1657.38" stroke="#231f20" stroke-width="1.8" stroke-linecap="butt"/>
<line x1="328.3" y1="1891.96" x2="346.3" y2="1891.96" stroke="#231f20" stroke-width="1.8" stroke-linecap="butt"/>
<line x1="356.3" y1="1617.76" x2="356.3" y2="1870.72" stroke="#231f20" stroke-width="1.8" stroke-linecap="butt"/>
<line x1="347.3" y1="1617.76" x2="365.3" y2="1617.76" stroke="#231f20" stroke-width="1.8" stroke-linecap="butt"/>
<line x1="347.3" y1="1870.72" x2="365.3" y2="1870.72" stroke="#231f20" stroke-width="1.8" stroke-linecap="butt"/>
<line x1="375.3" y1="1590.5" x2="375.3" y2="1852.34" stroke="#231f20" stroke-width="1.8" stroke-linecap="butt"/>
<line x1="366.3" y1="1590.5" x2="384.3" y2="1590.5" stroke="#231f20" stroke-width="1.8" stroke-linecap="butt"/>
<line x1="366.3" y1="1852.34" x2="384.3" y2="1852.34" stroke="#231f20" stroke-width="1.8" stroke-linecap="butt"/>
<line x1="394.3" y1="1567.99" x2="394.3" y2="1833" stroke="#231f20" stroke-width="1.8" stroke-linecap="butt"/>
<line x1="385.3" y1="1567.99" x2="403.3" y2="1567.99" stroke="#231f20" stroke-width="1.8" stroke-linecap="butt"/>
<line x1="385.3" y1="1833" x2="403.3" y2="1833" stroke="#231f20" stroke-width="1.8" stroke-linecap="butt"/>
<line x1="413.3" y1="1558.8" x2="413.3" y2="1826.35" stroke="#231f20" stroke-width="1.8" stroke-linecap="butt"/>
<line x1="404.3" y1="1558.8" x2="422.3" y2="1558.8" stroke="#231f20" stroke-width="1.8" stroke-linecap="butt"/>
<line x1="404.3" y1="1826.35" x2="422.3" y2="1826.35" stroke="#231f20" stroke-width="1.8" stroke-linecap="butt"/>
<line x1="432.3" y1="1567.99" x2="432.3" y2="1817.15" stroke="#231f20" stroke-width="1.8" stroke-linecap="butt"/>
<line x1="423.3" y1="1567.99" x2="441.3" y2="1567.99" stroke="#231f20" stroke-width="1.8" stroke-linecap="butt"/>
<line x1="423.3" y1="1817.15" x2="441.3" y2="1817.15" stroke="#231f20" stroke-width="1.8" stroke-linecap="butt"/>
<line x1="451.3" y1="1574.96" x2="451.3" y2="1818.42" stroke="#231f20" stroke-width="1.8" stroke-linecap="butt"/>
<line x1="442.3" y1="1574.96" x2="460.3" y2="1574.96" stroke="#231f20" stroke-width="1.8" stroke-linecap="butt"/>
<line x1="442.3" y1="1818.42" x2="460.3" y2="1818.42" stroke="#231f20" stroke-width="1.8" stroke-linecap="butt"/>
<line x1="470.3" y1="1586.69" x2="470.3" y2="1823.81" stroke="#231f20" stroke-width="1.8" stroke-linecap="butt"/>
<line x1="461.3" y1="1586.69" x2="479.3" y2="1586.69" stroke="#231f20" stroke-width="1.8" stroke-linecap="butt"/>
<line x1="461.3" y1="1823.81" x2="479.3" y2="1823.81" stroke="#231f20" stroke-width="1.8" stroke-linecap="butt"/>
<line x1="489.3" y1="1602.54" x2="489.3" y2="1833.95" stroke="#231f20" stroke-width="1.8" stroke-linecap="butt"/>
<line x1="480.3" y1="1602.54" x2="498.3" y2="1602.54" stroke="#231f20" stroke-width="1.8" stroke-linecap="butt"/>
<line x1="480.3" y1="1833.95" x2="498.3" y2="1833.95" stroke="#231f20" stroke-width="1.8" stroke-linecap="butt"/>
<line x1="508.3" y1="1624.1" x2="508.3" y2="1835.86" stroke="#231f20" stroke-width="1.8" stroke-linecap="butt"/>
<line x1="499.3" y1="1624.1" x2="517.3" y2="1624.1" stroke="#231f20" stroke-width="1.8" stroke-linecap="butt"/>
<line x1="499.3" y1="1835.86" x2="517.3" y2="1835.86" stroke="#231f20" stroke-width="1.8" stroke-linecap="butt"/>
<line x1="527.3" y1="1649.14" x2="527.3" y2="1842.51" stroke="#231f20" stroke-width="1.8" stroke-linecap="butt"/>
<line x1="518.3" y1="1649.14" x2="536.3" y2="1649.14" stroke="#231f20" stroke-width="1.8" stroke-linecap="butt"/>
<line x1="518.3" y1="1842.51" x2="536.3" y2="1842.51" stroke="#231f20" stroke-width="1.8" stroke-linecap="butt"/>
<line x1="546.3" y1="1675.45" x2="546.3" y2="1861.21" stroke="#231f20" stroke-width="1.8" stroke-linecap="butt"/>
<line x1="537.3" y1="1675.45" x2="555.3" y2="1675.45" stroke="#231f20" stroke-width="1.8" stroke-linecap="butt"/>
<line x1="537.3" y1="1861.21" x2="555.3" y2="1861.21" stroke="#231f20" stroke-width="1.8" stroke-linecap="butt"/>
<line x1="565.3" y1="1702.71" x2="565.3" y2="1865.65" stroke="#231f20" stroke-width="1.8" stroke-linecap="butt"/>
<line x1="556.3" y1="1702.71" x2="574.3" y2="1702.71" stroke="#231f20" stroke-width="1.8" stroke-linecap="butt"/>
<line x1="556.3" y1="1865.65" x2="574.3" y2="1865.65" stroke="#231f20" stroke-width="1.8" stroke-linecap="butt"/>
<line x1="584.3" y1="1728.39" x2="584.3" y2="1882.45" stroke="#231f20" stroke-width="1.8" stroke-linecap="butt"/>
<line x1="575.3" y1="1728.39" x2="593.3" y2="1728.39" stroke="#231f20" stroke-width="1.8" stroke-linecap="butt"/>
<line x1="575.3" y1="1882.45" x2="593.3" y2="1882.45" stroke="#231f20" stroke-width="1.8" stroke-linecap="butt"/>
<line x1="603.3" y1="1751.22" x2="603.3" y2="1899.57" stroke="#231f20" stroke-width="1.8" stroke-linecap="butt"/>
<line x1="594.3" y1="1751.22" x2="612.3" y2="1751.22" stroke="#231f20" stroke-width="1.8" stroke-linecap="butt"/>
<line x1="594.3" y1="1899.57" x2="612.3" y2="1899.57" stroke="#231f20" stroke-width="1.8" stroke-linecap="butt"/>
<line x1="622.3" y1="1779.43" x2="622.3" y2="1908.13" stroke="#231f20" stroke-width="1.8" stroke-linecap="butt"/>
<line x1="613.3" y1="1779.43" x2="631.3" y2="1779.43" stroke="#231f20" stroke-width="1.8" stroke-linecap="butt"/>
<line x1="613.3" y1="1908.13" x2="631.3" y2="1908.13" stroke="#231f20" stroke-width="1.8" stroke-linecap="butt"/>
<line x1="641.3" y1="1808.59" x2="641.3" y2="1922.08" stroke="#231f20" stroke-width="1.8" stroke-linecap="butt"/>
<line x1="632.3" y1="1808.59" x2="650.3" y2="1808.59" stroke="#231f20" stroke-width="1.8" stroke-linecap="butt"/>
<line x1="632.3" y1="1922.08" x2="650.3" y2="1922.08" stroke="#231f20" stroke-width="1.8" stroke-linecap="butt"/>
<line x1="660.3" y1="1826.98" x2="660.3" y2="1935.39" stroke="#231f20" stroke-width="1.8" stroke-linecap="butt"/>
<line x1="651.3" y1="1826.98" x2="669.3" y2="1826.98" stroke="#231f20" stroke-width="1.8" stroke-linecap="butt"/>
<line x1="651.3" y1="1935.39" x2="669.3" y2="1935.39" stroke="#231f20" stroke-width="1.8" stroke-linecap="butt"/>
<line x1="679.3" y1="1848.53" x2="679.3" y2="1948.71" stroke="#231f20" stroke-width="1.8" stroke-linecap="butt"/>
<line x1="670.3" y1="1848.53" x2="688.3" y2="1848.53" stroke="#231f20" stroke-width="1.8" stroke-linecap="butt"/>
<line x1="670.3" y1="1948.71" x2="688.3" y2="1948.71" stroke="#231f20" stroke-width="1.8" stroke-linecap="butt"/>
<line x1="698.3" y1="1875.16" x2="698.3" y2="1959.48" stroke="#231f20" stroke-width="1.8" stroke-linecap="butt"/>
<line x1="689.3" y1="1875.16" x2="707.3" y2="1875.16" stroke="#231f20" stroke-width="1.8" stroke-linecap="butt"/>
<line x1="689.3" y1="1959.48" x2="707.3" y2="1959.48" stroke="#231f20" stroke-width="1.8" stroke-linecap="butt"/>
<line x1="717.3" y1="1891.96" x2="717.3" y2="1969.31" stroke="#231f20" stroke-width="1.8" stroke-linecap="butt"/>
<line x1="708.3" y1="1891.96" x2="726.3" y2="1891.96" stroke="#231f20" stroke-width="1.8" stroke-linecap="butt"/>
<line x1="708.3" y1="1969.31" x2="726.3" y2="1969.31" stroke="#231f20" stroke-width="1.8" stroke-linecap="butt"/>
<line x1="736.3" y1="1911.62" x2="736.3" y2="1978.82" stroke="#231f20" stroke-width="1.8" stroke-linecap="butt"/>
<line x1="727.3" y1="1911.62" x2="745.3" y2="1911.62" stroke="#231f20" stroke-width="1.8" stroke-linecap="butt"/>
<line x1="727.3" y1="1978.82" x2="745.3" y2="1978.82" stroke="#231f20" stroke-width="1.8" stroke-linecap="butt"/>
<line x1="755.3" y1="1924.62" x2="755.3" y2="1981.67" stroke="#231f20" stroke-width="1.8" stroke-linecap="butt"/>
<line x1="746.3" y1="1924.62" x2="764.3" y2="1924.62" stroke="#231f20" stroke-width="1.8" stroke-linecap="butt"/>
<line x1="746.3" y1="1981.67" x2="764.3" y2="1981.67" stroke="#231f20" stroke-width="1.8" stroke-linecap="butt"/>
<line x1="774.3" y1="1941.42" x2="774.3" y2="1989.6" stroke="#231f20" stroke-width="1.8" stroke-linecap="butt"/>
<line x1="765.3" y1="1941.42" x2="783.3" y2="1941.42" stroke="#231f20" stroke-width="1.8" stroke-linecap="butt"/>
<line x1="765.3" y1="1989.6" x2="783.3" y2="1989.6" stroke="#231f20" stroke-width="1.8" stroke-linecap="butt"/>
<line x1="793.3" y1="1956" x2="793.3" y2="1990.87" stroke="#231f20" stroke-width="1.8" stroke-linecap="butt"/>
<line x1="784.3" y1="1956" x2="802.3" y2="1956" stroke="#231f20" stroke-width="1.8" stroke-linecap="butt"/>
<line x1="784.3" y1="1990.87" x2="802.3" y2="1990.87" stroke="#231f20" stroke-width="1.8" stroke-linecap="butt"/>
<line x1="812.3" y1="1966.46" x2="812.3" y2="1996.26" stroke="#231f20" stroke-width="1.8" stroke-linecap="butt"/>
<line x1="803.3" y1="1966.46" x2="821.3" y2="1966.46" stroke="#231f20" stroke-width="1.8" stroke-linecap="butt"/>
<line x1="803.3" y1="1996.26" x2="821.3" y2="1996.26" stroke="#231f20" stroke-width="1.8" stroke-linecap="butt"/>
<line x1="831.3" y1="1975.02" x2="831.3" y2="2001.65" stroke="#231f20" stroke-width="1.8" stroke-linecap="butt"/>
<line x1="822.3" y1="1975.02" x2="840.3" y2="1975.02" stroke="#231f20" stroke-width="1.8" stroke-linecap="butt"/>
<line x1="822.3" y1="2001.65" x2="840.3" y2="2001.65" stroke="#231f20" stroke-width="1.8" stroke-linecap="butt"/>
<line x1="850.3" y1="1983.26" x2="850.3" y2="2002.91" stroke="#231f20" stroke-width="1.8" stroke-linecap="butt"/>
<line x1="841.3" y1="1983.26" x2="859.3" y2="1983.26" stroke="#231f20" stroke-width="1.8" stroke-linecap="butt"/>
<line x1="841.3" y1="2002.91" x2="859.3" y2="2002.91" stroke="#231f20" stroke-width="1.8" stroke-linecap="butt"/>
<line x1="869.3" y1="1989.6" x2="869.3" y2="2002.91" stroke="#231f20" stroke-width="1.8" stroke-linecap="butt"/>
<line x1="860.3" y1="1989.6" x2="878.3" y2="1989.6" stroke="#231f20" stroke-width="1.8" stroke-linecap="butt"/>
<line x1="860.3" y1="2002.91" x2="878.3" y2="2002.91" stroke="#231f20" stroke-width="1.8" stroke-linecap="butt"/>
<line x1="888.3" y1="1994.36" x2="888.3" y2="2005.77" stroke="#231f20" stroke-width="1.8" stroke-linecap="butt"/>
<line x1="879.3" y1="1994.36" x2="897.3" y2="1994.36" stroke="#231f20" stroke-width="1.8" stroke-linecap="butt"/>
<line x1="879.3" y1="2005.77" x2="897.3" y2="2005.77" stroke="#231f20" stroke-width="1.8" stroke-linecap="butt"/>
<line x1="907.3" y1="1999.74" x2="907.3" y2="2008.62" stroke="#231f20" stroke-width="1.8" stroke-linecap="butt"/>
<line x1="898.3" y1="1999.74" x2="916.3" y2="1999.74" stroke="#231f20" stroke-width="1.8" stroke-linecap="butt"/>
<line x1="898.3" y1="2008.62" x2="916.3" y2="2008.62" stroke="#231f20" stroke-width="1.8" stroke-linecap="butt"/>
<line x1="926.3" y1="2001.65" x2="926.3" y2="2009.25" stroke="#231f20" stroke-width="1.8" stroke-linecap="butt"/>
<line x1="917.3" y1="2001.65" x2="935.3" y2="2001.65" stroke="#231f20" stroke-width="1.8" stroke-linecap="butt"/>
<line x1="917.3" y1="2009.25" x2="935.3" y2="2009.25" stroke="#231f20" stroke-width="1.8" stroke-linecap="butt"/>
<line x1="945.3" y1="2004.82" x2="945.3" y2="2011.16" stroke="#231f20" stroke-width="1.8" stroke-linecap="butt"/>
<line x1="936.3" y1="2004.82" x2="954.3" y2="2004.82" stroke="#231f20" stroke-width="1.8" stroke-linecap="butt"/>
<line x1="936.3" y1="2011.16" x2="954.3" y2="2011.16" stroke="#231f20" stroke-width="1.8" stroke-linecap="butt"/>
<circle cx="204.3" cy="1948.39" r="8.35" fill="#231f20" />
<circle cx="223.3" cy="1989.28" r="8.35" fill="#231f20" />
<circle cx="242.3" cy="1993.09" r="8.35" fill="#231f20" />
<circle cx="261.3" cy="1968.04" r="8.35" fill="#231f20" />
<circle cx="280.3" cy="1923.66" r="8.35" fill="#231f20" />
<circle cx="299.3" cy="1871.99" r="8.35" fill="#231f20" />
<circle cx="318.3" cy="1820" r="8.35" fill="#231f20" />
<circle cx="337.3" cy="1774.67" r="8.35" fill="#231f20" />
<circle cx="356.3" cy="1744.24" r="8.35" fill="#231f20" />
<circle cx="375.3" cy="1721.42" r="8.35" fill="#231f20" />
<circle cx="394.3" cy="1700.5" r="8.35" fill="#231f20" />
<circle cx="413.3" cy="1692.57" r="8.35" fill="#231f20" />
<circle cx="432.3" cy="1692.57" r="8.35" fill="#231f20" />
<circle cx="451.3" cy="1696.69" r="8.35" fill="#231f20" />
<circle cx="470.3" cy="1705.25" r="8.35" fill="#231f20" />
<circle cx="489.3" cy="1718.25" r="8.35" fill="#231f20" />
<circle cx="508.3" cy="1729.98" r="8.35" fill="#231f20" />
<circle cx="527.3" cy="1745.83" r="8.35" fill="#231f20" />
<circle cx="546.3" cy="1768.33" r="8.35" fill="#231f20" />
<circle cx="565.3" cy="1784.18" r="8.35" fill="#231f20" />
<circle cx="584.3" cy="1805.42" r="8.35" fill="#231f20" />
<circle cx="603.3" cy="1825.39" r="8.35" fill="#231f20" />
<circle cx="622.3" cy="1843.78" r="8.35" fill="#231f20" />
<circle cx="641.3" cy="1865.34" r="8.35" fill="#231f20" />
<circle cx="660.3" cy="1881.19" r="8.35" fill="#231f20" />
<circle cx="679.3" cy="1898.62" r="8.35" fill="#231f20" />
<circle cx="698.3" cy="1917.32" r="8.35" fill="#231f20" />
<circle cx="717.3" cy="1930.64" r="8.35" fill="#231f20" />
<circle cx="736.3" cy="1945.22" r="8.35" fill="#231f20" />
<circle cx="755.3" cy="1953.14" r="8.35" fill="#231f20" />
<circle cx="774.3" cy="1965.51" r="8.35" fill="#231f20" />
<circle cx="793.3" cy="1973.43" r="8.35" fill="#231f20" />
<circle cx="812.3" cy="1981.36" r="8.35" fill="#231f20" />
<circle cx="831.3" cy="1988.33" r="8.35" fill="#231f20" />
<circle cx="850.3" cy="1993.09" r="8.35" fill="#231f20" />
<circle cx="869.3" cy="1996.26" r="8.35" fill="#231f20" />
<circle cx="888.3" cy="2000.06" r="8.35" fill="#231f20" />
<circle cx="907.3" cy="2004.18" r="8.35" fill="#231f20" />
<circle cx="926.3" cy="2005.45" r="8.35" fill="#231f20" />
<circle cx="945.3" cy="2007.99" r="8.35" fill="#231f20" />
<circle cx="737" cy="1535" r="8.6" fill="#231f20" />
<rect x="728.5" y="1593.1" width="17" height="17" fill="#c8c9cb" stroke="none" stroke-width="0" />
<path d="M726 1676 L748 1676 L737 1656.5 Z" fill="#8f9093" stroke="none" stroke-width="0" />
<text x="784.5" y="1550" font-size="39">Col-0</text>
<text x="784.5" y="1614.5" font-size="39" font-style="italic">fls2</text>
<text x="784.5" y="1679" font-size="39" font-style="italic">rabg3b</text>
<defs>
<filter id="bl1" x="-50%" y="-100%" width="200%" height="300%"><feGaussianBlur stdDeviation="1.3"/></filter>
<filter id="bl2" x="-50%" y="-100%" width="200%" height="300%"><feGaussianBlur stdDeviation="2.2"/></filter>
<filter id="bl4" x="-50%" y="-100%" width="200%" height="300%"><feGaussianBlur stdDeviation="4"/></filter>
<filter id="bl6" x="-50%" y="-100%" width="200%" height="300%"><feGaussianBlur stdDeviation="6"/></filter>
<filter id="grain" x="0" y="0" width="100%" height="100%">
<feTurbulence type="fractalNoise" baseFrequency="0.9" numOctaves="1" seed="3" result="n"/>
<feColorMatrix in="n" type="matrix" values="0 0 0 0 0.78  0 0 0 0 0.78  0 0 0 0 0.79  0 0 0 0.35 0" result="c"/>
<feComposite in="c" in2="SourceGraphic" operator="in"/>
</filter>
<clipPath id="cp1"><rect x="1111.1" y="1757.7" width="188.2" height="141.8"/></clipPath>
<clipPath id="cp2"><rect x="1310.1" y="1757.7" width="174.4" height="141.8"/></clipPath>
<clipPath id="cp3"><rect x="1495.0" y="1757.7" width="178.2" height="141.8"/></clipPath>
<clipPath id="cp4"><rect x="1682.9" y="1757.7" width="178.6" height="141.8"/></clipPath>
<clipPath id="cq1"><rect x="1111.1" y="1919.0" width="188.2" height="87.5"/></clipPath>
<clipPath id="cq2"><rect x="1310.1" y="1919.0" width="174.4" height="87.5"/></clipPath>
<clipPath id="cq3"><rect x="1495.0" y="1919.0" width="178.2" height="87.5"/></clipPath>
<clipPath id="cq4"><rect x="1682.9" y="1919.0" width="178.6" height="87.5"/></clipPath>
</defs>
<text x="1034" y="1628" font-size="53" font-weight="bold">f</text>
<rect x="1109.6" y="1756.2" width="191.2" height="144.8" fill="#cdcdcf" stroke="none" stroke-width="0" />
<rect x="1109.6" y="1756.2" width="191.2" height="144.8" fill="#cdcdcf" stroke="none" stroke-width="0" filter="url(#grain)"/>
<rect x="1109.6" y="1917.5" width="191.2" height="90.5" fill="#d8d8da" stroke="none" stroke-width="0" />
<rect x="1109.6" y="1917.5" width="191.2" height="90.5" fill="#d8d8da" stroke="none" stroke-width="0" filter="url(#grain)"/>
<rect x="1308.6" y="1756.2" width="177.4" height="144.8" fill="#cdcdcf" stroke="none" stroke-width="0" />
<rect x="1308.6" y="1756.2" width="177.4" height="144.8" fill="#cdcdcf" stroke="none" stroke-width="0" filter="url(#grain)"/>
<rect x="1308.6" y="1917.5" width="177.4" height="90.5" fill="#d8d8da" stroke="none" stroke-width="0" />
<rect x="1308.6" y="1917.5" width="177.4" height="90.5" fill="#d8d8da" stroke="none" stroke-width="0" filter="url(#grain)"/>
<rect x="1493.5" y="1756.2" width="181.2" height="144.8" fill="#cdcdcf" stroke="none" stroke-width="0" />
<rect x="1493.5" y="1756.2" width="181.2" height="144.8" fill="#cdcdcf" stroke="none" stroke-width="0" filter="url(#grain)"/>
<rect x="1493.5" y="1917.5" width="181.2" height="90.5" fill="#d8d8da" stroke="none" stroke-width="0" />
<rect x="1493.5" y="1917.5" width="181.2" height="90.5" fill="#d8d8da" stroke="none" stroke-width="0" filter="url(#grain)"/>
<rect x="1681.4" y="1756.2" width="181.6" height="144.8" fill="#cdcdcf" stroke="none" stroke-width="0" />
<rect x="1681.4" y="1756.2" width="181.6" height="144.8" fill="#cdcdcf" stroke="none" stroke-width="0" filter="url(#grain)"/>
<rect x="1681.4" y="1917.5" width="181.6" height="90.5" fill="#d8d8da" stroke="none" stroke-width="0" />
<rect x="1681.4" y="1917.5" width="181.6" height="90.5" fill="#d8d8da" stroke="none" stroke-width="0" filter="url(#grain)"/>
<g clip-path="url(#cp2)"><ellipse cx="1350" cy="1801.8" rx="30" ry="13.25" fill="#b9b9bb" filter="url(#bl6)"/></g>
<g clip-path="url(#cp2)"><rect x="1327" y="1795.55" width="46" height="12.5" rx="13.8" ry="6.25" fill="#1c1a1b" filter="url(#bl1)"/></g>
<g clip-path="url(#cp2)"><ellipse cx="1350" cy="1825" rx="27" ry="15.5" fill="#b9b9bb" filter="url(#bl6)"/></g>
<g clip-path="url(#cp2)"><rect x="1330" y="1816.5" width="40" height="17" rx="12" ry="8.5" fill="#1c1a1b" filter="url(#bl1)"/></g>
<g clip-path="url(#cp2)"><ellipse cx="1349.5" cy="1853.8" rx="24.25" ry="14.5" fill="#b9b9bb" filter="url(#bl6)"/></g>
<g clip-path="url(#cp2)"><rect x="1332.25" y="1846.3" width="34.5" height="15" rx="10.35" ry="7.5" fill="#1c1a1b" filter="url(#bl1)"/></g>
<g clip-path="url(#cp2)"><ellipse cx="1456.2" cy="1803.3" rx="30" ry="13.25" fill="#b9b9bb" filter="url(#bl6)"/></g>
<g clip-path="url(#cp2)"><rect x="1433.2" y="1797.05" width="46" height="12.5" rx="13.8" ry="6.25" fill="#1c1a1b" filter="url(#bl1)"/></g>
<g clip-path="url(#cp2)"><ellipse cx="1456.2" cy="1825.9" rx="27" ry="15.5" fill="#b9b9bb" filter="url(#bl6)"/></g>
<g clip-path="url(#cp2)"><rect x="1436.2" y="1817.4" width="40" height="17" rx="12" ry="8.5" fill="#1c1a1b" filter="url(#bl1)"/></g>
<g clip-path="url(#cp2)"><ellipse cx="1455.7" cy="1855" rx="25" ry="14.5" fill="#b9b9bb" filter="url(#bl6)"/></g>
<g clip-path="url(#cp2)"><rect x="1437.7" y="1847.5" width="36" height="15" rx="10.8" ry="7.5" fill="#1c1a1b" filter="url(#bl1)"/></g>
<g clip-path="url(#cp3)"><ellipse cx="1540" cy="1788.5" rx="15" ry="2.5" fill="#a9a9ab" filter="url(#bl2)"/></g>
<g clip-path="url(#cp3)"><ellipse cx="1650" cy="1795.5" rx="15" ry="2.5" fill="#bdbdbf" filter="url(#bl2)"/></g>
<g clip-path="url(#cp3)"><ellipse cx="1542" cy="1812.3" rx="28" ry="14.5" fill="#b9b9bb" filter="url(#bl6)" transform="rotate(7 1542 1812.3)"/></g>
<g clip-path="url(#cp3)"><rect x="1521" y="1804.8" width="42" height="15" rx="12.6" ry="7.5" fill="#2e2c2d" filter="url(#bl1)" transform="rotate(7 1542 1812.3)"/></g>
<g clip-path="url(#cp3)"><rect x="1633" y="1814.9" width="34" height="11" rx="10.2" ry="5.5" fill="#7c7c7e" filter="url(#bl1)"/></g>
<g clip-path="url(#cp4)"><rect x="1702" y="1820" width="46" height="11" rx="13.8" ry="5.5" fill="#656567" filter="url(#bl1)"/></g>
<g clip-path="url(#cp4)"><rect x="1810.5" y="1822.85" width="48" height="9.5" rx="14.4" ry="4.75" fill="#808082" filter="url(#bl1)"/></g>
<g clip-path="url(#cp4)"><ellipse cx="1826" cy="1852" rx="15" ry="3.5" fill="#bdbdbf" filter="url(#bl2)"/></g>
<g clip-path="url(#cp4)"><ellipse cx="1726" cy="1851" rx="13" ry="3" fill="#c3c3c5" filter="url(#bl2)"/></g>
<g clip-path="url(#cq1)"><rect x="1142.9" y="1960.4" width="27.6" height="51.6" fill="#c4c4c6" filter="url(#bl6)"/></g>
<g clip-path="url(#cq1)"><rect x="1199.1" y="1962" width="27.6" height="50" fill="#c4c4c6" filter="url(#bl6)"/></g>
<g clip-path="url(#cq1)"><rect x="1253.4" y="1962.3" width="29.2" height="49.7" fill="#c4c4c6" filter="url(#bl6)"/></g>
<g clip-path="url(#cq2)"><rect x="1331.7" y="1964" width="31.6" height="48" fill="#c4c4c6" filter="url(#bl6)"/></g>
<g clip-path="url(#cq2)"><rect x="1386.8" y="1968" width="31.6" height="44" fill="#c4c4c6" filter="url(#bl6)"/></g>
<g clip-path="url(#cq2)"><rect x="1442.2" y="1965.9" width="29.6" height="46.1" fill="#c4c4c6" filter="url(#bl6)"/></g>
<g clip-path="url(#cq3)"><rect x="1508.9" y="1955.6" width="31.2" height="56.4" fill="#c4c4c6" filter="url(#bl6)"/></g>
<g clip-path="url(#cq3)"><rect x="1566.2" y="1962.7" width="33.2" height="49.3" fill="#c4c4c6" filter="url(#bl6)"/></g>
<g clip-path="url(#cq3)"><rect x="1623.4" y="1962.5" width="29.2" height="49.5" fill="#c4c4c6" filter="url(#bl6)"/></g>
<g clip-path="url(#cq4)"><rect x="1707.6" y="1967.4" width="30.8" height="44.6" fill="#c4c4c6" filter="url(#bl6)"/></g>
<g clip-path="url(#cq4)"><rect x="1765" y="1972.8" width="27.6" height="39.2" fill="#c4c4c6" filter="url(#bl6)"/></g>
<g clip-path="url(#cq4)"><rect x="1819" y="1974.9" width="28" height="37.1" fill="#c4c4c6" filter="url(#bl6)"/></g>
<g clip-path="url(#cq1)"><ellipse cx="1156.7" cy="1960.4" rx="24.25" ry="12.75" fill="#b9b9bb" filter="url(#bl6)"/></g>
<g clip-path="url(#cq1)"><rect x="1139.45" y="1954.65" width="34.5" height="11.5" rx="10.35" ry="5.75" fill="#1c1a1b" filter="url(#bl1)"/></g>
<g clip-path="url(#cq1)"><ellipse cx="1212.9" cy="1962" rx="24.25" ry="12.25" fill="#b9b9bb" filter="url(#bl6)"/></g>
<g clip-path="url(#cq1)"><rect x="1195.65" y="1956.75" width="34.5" height="10.5" rx="10.35" ry="5.25" fill="#1c1a1b" filter="url(#bl1)"/></g>
<g clip-path="url(#cq1)"><ellipse cx="1268" cy="1962.3" rx="25.25" ry="14" fill="#b9b9bb" filter="url(#bl6)"/></g>
<g clip-path="url(#cq1)"><rect x="1249.75" y="1955.3" width="36.5" height="14" rx="10.95" ry="7" fill="#1c1a1b" filter="url(#bl1)"/></g>
<g clip-path="url(#cq2)"><ellipse cx="1347.5" cy="1964" rx="26.75" ry="15.25" fill="#b9b9bb" filter="url(#bl6)"/></g>
<g clip-path="url(#cq2)"><rect x="1327.75" y="1955.75" width="39.5" height="16.5" rx="11.85" ry="8.25" fill="#1c1a1b" filter="url(#bl1)"/></g>
<g clip-path="url(#cq2)"><ellipse cx="1402.6" cy="1968" rx="26.75" ry="14" fill="#b9b9bb" filter="url(#bl6)"/></g>
<g clip-path="url(#cq2)"><rect x="1382.85" y="1961" width="39.5" height="14" rx="11.85" ry="7" fill="#1c1a1b" filter="url(#bl1)"/></g>
<g clip-path="url(#cq2)"><ellipse cx="1457" cy="1965.9" rx="25.5" ry="14.5" fill="#b9b9bb" filter="url(#bl6)"/></g>
<g clip-path="url(#cq2)"><rect x="1438.5" y="1958.4" width="37" height="15" rx="11.1" ry="7.5" fill="#1c1a1b" filter="url(#bl1)"/></g>
<g clip-path="url(#cq3)"><ellipse cx="1524.5" cy="1955.6" rx="26.5" ry="14.5" fill="#b9b9bb" filter="url(#bl6)" transform="rotate(6 1524.5 1955.6)"/></g>
<g clip-path="url(#cq3)"><rect x="1505" y="1948.1" width="39" height="15" rx="11.7" ry="7.5" fill="#1c1a1b" filter="url(#bl1)" transform="rotate(6 1524.5 1955.6)"/></g>
<g clip-path="url(#cq3)"><ellipse cx="1582.8" cy="1962.7" rx="27.75" ry="14.1" fill="#b9b9bb" filter="url(#bl6)"/></g>
<g clip-path="url(#cq3)"><rect x="1562.05" y="1955.6" width="41.5" height="14.2" rx="12.45" ry="7.1" fill="#1c1a1b" filter="url(#bl1)"/></g>
<g clip-path="url(#cq3)"><ellipse cx="1638" cy="1962.5" rx="25.25" ry="14.9" fill="#b9b9bb" filter="url(#bl6)"/></g>
<g clip-path="url(#cq3)"><rect x="1619.75" y="1954.6" width="36.5" height="15.8" rx="10.95" ry="7.9" fill="#1c1a1b" filter="url(#bl1)"/></g>
<g clip-path="url(#cq4)"><rect x="1703.75" y="1963.15" width="38.5" height="8.5" rx="11.55" ry="4.25" fill="#48484a" filter="url(#bl1)"/></g>
<g clip-path="url(#cq4)"><rect x="1761.55" y="1968.3" width="34.5" height="9" rx="10.35" ry="4.5" fill="#3e3e40" filter="url(#bl1)"/></g>
<g clip-path="url(#cq4)"><rect x="1815.5" y="1970.4" width="35" height="9" rx="10.5" ry="4.5" fill="#38383a" filter="url(#bl1)"/></g>
<g clip-path="url(#cq4)"><ellipse cx="1778.8" cy="1924" rx="20" ry="3" fill="#cbcbcd" filter="url(#bl2)"/></g>
<g clip-path="url(#cq4)"><ellipse cx="1833" cy="1924" rx="20" ry="3" fill="#cbcbcd" filter="url(#bl2)"/></g>
<rect x="1110.8" y="1757.4" width="188.8" height="142.4" fill="none" stroke="#231f20" stroke-width="2.6" />
<rect x="1110.8" y="1918.7" width="188.8" height="88.1" fill="none" stroke="#231f20" stroke-width="2.6" />
<rect x="1309.8" y="1757.4" width="175" height="142.4" fill="none" stroke="#231f20" stroke-width="2.6" />
<rect x="1309.8" y="1918.7" width="175" height="88.1" fill="none" stroke="#231f20" stroke-width="2.6" />
<rect x="1494.7" y="1757.4" width="178.8" height="142.4" fill="none" stroke="#231f20" stroke-width="2.6" />
<rect x="1494.7" y="1918.7" width="178.8" height="88.1" fill="none" stroke="#231f20" stroke-width="2.6" />
<rect x="1682.6" y="1757.4" width="179.2" height="142.4" fill="none" stroke="#231f20" stroke-width="2.6" />
<rect x="1682.6" y="1918.7" width="179.2" height="88.1" fill="none" stroke="#231f20" stroke-width="2.6" />
<text x="1034.5" y="1744" font-size="35">kDa</text>
<text x="1101" y="1844" font-size="36.5" text-anchor="end">40</text>
<text x="1101" y="1980" font-size="36.5" text-anchor="end">30</text>
<text x="1876" y="1842" font-size="37.5" letter-spacing="-1">α-pERK</text>
<text x="1876" y="1978" font-size="37.5" letter-spacing="-1">α-COXII</text>
<text x="1164.8" y="1747.2" font-size="33.5" transform="rotate(-90 1164.8 1747.2)">Col-0</text>
<text x="1219.2" y="1747.2" font-size="33.5" font-style="italic" transform="rotate(-90 1219.2 1747.2)">fls2</text>
<text x="1273.6" y="1747.2" font-size="33.5" font-style="italic" transform="rotate(-90 1273.6 1747.2)">rabg3b</text>
<text x="1359.5" y="1747.2" font-size="33.5" transform="rotate(-90 1359.5 1747.2)">Col-0</text>
<text x="1412.6" y="1747.2" font-size="33.5" font-style="italic" transform="rotate(-90 1412.6 1747.2)">fls2</text>
<text x="1467" y="1747.2" font-size="33.5" font-style="italic" transform="rotate(-90 1467 1747.2)">rabg3b</text>
<text x="1545.9" y="1747.2" font-size="33.5" transform="rotate(-90 1545.9 1747.2)">Col-0</text>
<text x="1600.8" y="1747.2" font-size="33.5" font-style="italic" transform="rotate(-90 1600.8 1747.2)">fls2</text>
<text x="1652.6" y="1747.2" font-size="33.5" font-style="italic" transform="rotate(-90 1652.6 1747.2)">rabg3b</text>
<text x="1734.1" y="1747.2" font-size="33.5" transform="rotate(-90 1734.1 1747.2)">Col-0</text>
<text x="1789" y="1747.2" font-size="33.5" font-style="italic" transform="rotate(-90 1789 1747.2)">fls2</text>
<text x="1843.4" y="1747.2" font-size="33.5" font-style="italic" transform="rotate(-90 1843.4 1747.2)">rabg3b</text>
<text x="1207.2" y="2053.3" font-size="36" text-anchor="middle">0 min</text>
<text x="1398" y="2053.3" font-size="36" text-anchor="middle">30 min</text>
<text x="1592.2" y="2053.3" font-size="36" text-anchor="middle">60 min</text>
<text x="1773.5" y="2053.3" font-size="36" text-anchor="middle">120 min</text>
<text x="1849" y="2053.3" font-size="36">flg22</text>
</svg>
</body></html>
